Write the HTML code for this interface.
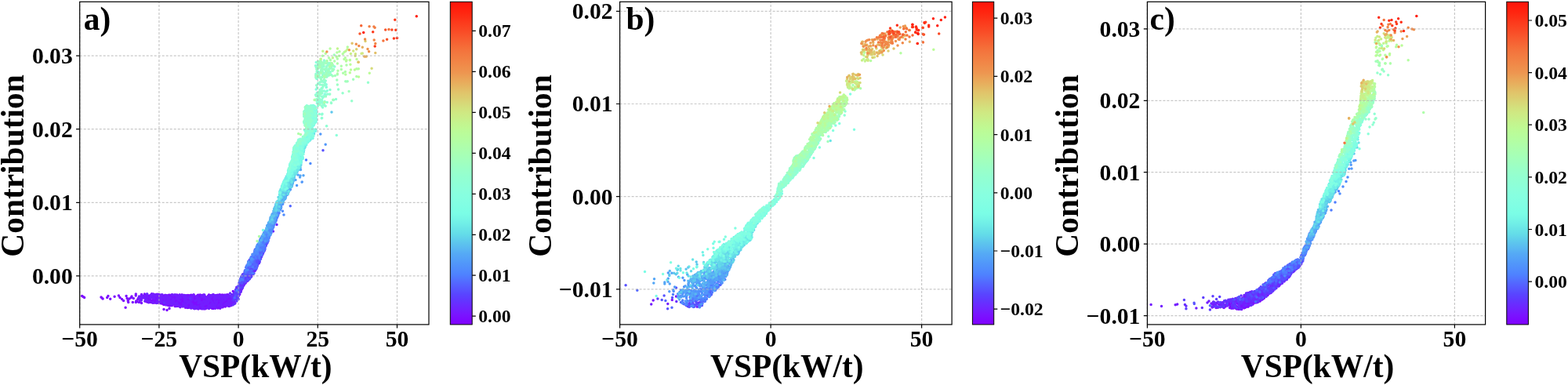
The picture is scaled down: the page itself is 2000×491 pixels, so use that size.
<!DOCTYPE html><html><head><meta charset="utf-8"><style>html,body{margin:0;padding:0;background:#fff;width:2000px;height:491px;overflow:hidden}svg{display:block}text{font-family:"Liberation Serif", "Times New Roman", serif;font-weight:bold;fill:#000}</style></head><body>
<svg width="2000" height="491" viewBox="0 0 2000 491">
<defs><linearGradient id="rb" x1="0" y1="0" x2="0" y2="1"><stop offset="0.000" stop-color="#ff140a"/><stop offset="0.016" stop-color="#ff1c0d"/><stop offset="0.031" stop-color="#ff240f"/><stop offset="0.047" stop-color="#fd2e15"/><stop offset="0.062" stop-color="#fc391b"/><stop offset="0.078" stop-color="#fb4321"/><stop offset="0.094" stop-color="#f94d27"/><stop offset="0.109" stop-color="#f8582d"/><stop offset="0.125" stop-color="#f66233"/><stop offset="0.141" stop-color="#f56d38"/><stop offset="0.156" stop-color="#f3763e"/><stop offset="0.172" stop-color="#f27e42"/><stop offset="0.188" stop-color="#f18647"/><stop offset="0.203" stop-color="#ef8e4b"/><stop offset="0.219" stop-color="#ee9550"/><stop offset="0.234" stop-color="#eba156"/><stop offset="0.250" stop-color="#e8ac5c"/><stop offset="0.266" stop-color="#e4b863"/><stop offset="0.281" stop-color="#e1c46a"/><stop offset="0.297" stop-color="#dccd70"/><stop offset="0.312" stop-color="#d8d777"/><stop offset="0.328" stop-color="#d3e17d"/><stop offset="0.344" stop-color="#cfe983"/><stop offset="0.359" stop-color="#caee88"/><stop offset="0.375" stop-color="#c4f48e"/><stop offset="0.391" stop-color="#bff993"/><stop offset="0.406" stop-color="#bafc99"/><stop offset="0.422" stop-color="#b6fd9f"/><stop offset="0.438" stop-color="#b1fea6"/><stop offset="0.453" stop-color="#adfead"/><stop offset="0.469" stop-color="#a8ffb3"/><stop offset="0.484" stop-color="#a4ffba"/><stop offset="0.500" stop-color="#9fffc0"/><stop offset="0.516" stop-color="#9affc7"/><stop offset="0.531" stop-color="#96ffcd"/><stop offset="0.547" stop-color="#92ffd2"/><stop offset="0.562" stop-color="#8fffd6"/><stop offset="0.578" stop-color="#8cffdb"/><stop offset="0.594" stop-color="#88ffdf"/><stop offset="0.609" stop-color="#85ffe1"/><stop offset="0.625" stop-color="#82fee3"/><stop offset="0.641" stop-color="#7efee4"/><stop offset="0.656" stop-color="#7bfde6"/><stop offset="0.672" stop-color="#76f6e6"/><stop offset="0.688" stop-color="#70eee7"/><stop offset="0.703" stop-color="#6ae5e7"/><stop offset="0.719" stop-color="#64dde8"/><stop offset="0.734" stop-color="#60d0eb"/><stop offset="0.750" stop-color="#5cc3ee"/><stop offset="0.766" stop-color="#59b6f2"/><stop offset="0.781" stop-color="#55a9f5"/><stop offset="0.797" stop-color="#53a0f8"/><stop offset="0.812" stop-color="#5196fa"/><stop offset="0.828" stop-color="#508dfd"/><stop offset="0.844" stop-color="#4e83ff"/><stop offset="0.859" stop-color="#5174ff"/><stop offset="0.875" stop-color="#5464ff"/><stop offset="0.891" stop-color="#5754ff"/><stop offset="0.906" stop-color="#5945ff"/><stop offset="0.922" stop-color="#6038ff"/><stop offset="0.938" stop-color="#692cff"/><stop offset="0.953" stop-color="#7121ff"/><stop offset="0.969" stop-color="#7915ff"/><stop offset="0.984" stop-color="#7d0aff"/><stop offset="1.000" stop-color="#8000ff"/></linearGradient></defs>
<g fill="none" stroke-width="3.50" stroke-linecap="round"><path stroke="#8000ff" d="M189.2 381.3h0M243.1 382.5h0M302.0 375.3h0M217.1 383.6h0M222.1 386.9h0M195.5 381.8h0M286.9 376.6h0M221.7 380.9h0M231.6 386.4h0M252.5 381.3h0M285.8 379.7h0M249.5 380.9h0M266.5 388.4h0M291.7 390.2h0M193.7 383.2h0M236.9 381.7h0M265.9 385.0h0M284.7 379.8h0M261.1 379.4h0M294.2 382.8h0M213.4 384.8h0M271.5 390.7h0M258.6 381.1h0M298.2 379.1h0M293.7 389.5h0M242.1 381.9h0M230.2 390.0h0M232.3 376.5h0M243.7 391.3h0M255.2 383.7h0M281.2 381.6h0M251.8 390.2h0M320.1 353.2h0M272.7 386.4h0M208.5 384.1h0M259.8 379.4h0M205.4 386.5h0M297.5 382.6h0M250.3 385.1h0M217.9 384.5h0M263.4 381.9h0M283.3 388.3h0M315.3 356.1h0M175.7 382.0h0M287.3 389.3h0M240.9 382.0h0M251.3 387.9h0M257.9 387.0h0M241.5 385.2h0M305.8 370.1h0M261.1 389.5h0M257.9 392.2h0M305.7 375.5h0M232.4 377.7h0M226.0 380.6h0M308.1 369.3h0M246.3 380.2h0M309.0 361.8h0M251.6 390.2h0M197.4 378.6h0M303.7 371.5h0M232.9 382.3h0M206.6 377.6h0M295.1 377.8h0M227.1 390.1h0M246.8 384.0h0M188.0 384.9h0M255.1 381.8h0M248.5 380.1h0M186.8 376.3h0M306.7 369.1h0M274.4 388.2h0M209.6 385.7h0M263.4 388.7h0M297.3 371.4h0M192.4 377.7h0M241.8 388.8h0M235.0 376.5h0M252.0 391.6h0M237.4 388.4h0M200.5 376.9h0M287.5 379.5h0M323.5 345.6h0M195.7 375.2h0M230.3 384.1h0M238.5 384.8h0M306.5 368.5h0M233.0 384.7h0M262.8 392.4h0M303.2 373.5h0M283.3 383.7h0M300.3 378.8h0M231.7 375.9h0M314.0 350.6h0M262.6 379.4h0M309.6 366.3h0M325.4 338.4h0M324.8 342.3h0M201.8 380.7h0M190.0 378.9h0M285.6 390.2h0M209.2 388.5h0M202.6 385.0h0M295.1 383.9h0M319.4 352.5h0M271.7 389.5h0M260.0 393.5h0M293.3 388.3h0M228.0 388.5h0M195.9 377.0h0M263.1 391.7h0M286.1 377.2h0M257.2 390.7h0M215.8 382.3h0M299.4 380.4h0M266.9 378.8h0M259.7 382.6h0M299.8 374.6h0M302.9 375.8h0M263.8 391.6h0M199.4 377.1h0M285.2 381.1h0M247.1 387.0h0M302.2 380.1h0M291.7 388.5h0M192.0 385.6h0M230.3 387.7h0M211.6 386.2h0M267.1 376.4h0"/><path stroke="#7c0eff" d="M265.4 389.5h0M229.1 376.1h0M256.2 390.5h0M280.5 387.5h0M255.0 388.2h0M308.8 366.5h0M228.7 381.0h0M192.5 377.9h0M246.0 390.1h0M287.4 390.9h0M261.7 382.1h0M194.7 386.2h0M270.7 382.5h0M287.2 381.7h0M289.1 378.8h0M256.8 382.3h0M255.0 382.0h0M256.0 377.2h0M257.2 393.4h0M269.0 390.9h0M307.2 371.9h0M295.1 378.4h0M283.6 382.8h0M226.7 381.7h0M302.5 377.2h0M258.2 391.7h0M209.9 385.0h0M180.4 380.5h0M199.9 378.5h0M270.3 388.2h0M221.3 377.9h0M267.2 377.2h0M247.3 389.0h0M237.1 391.2h0M223.5 383.5h0M211.5 386.2h0M309.3 366.7h0M252.0 386.6h0M283.7 389.7h0M232.6 387.0h0M258.6 390.7h0M238.0 383.8h0M173.2 376.9h0M191.3 382.3h0M271.2 392.6h0M240.0 383.4h0M269.6 378.7h0M261.9 393.7h0M210.0 381.2h0M220.7 386.9h0M205.3 378.3h0M208.3 386.6h0M267.6 384.0h0M275.0 381.3h0M281.2 380.1h0M254.7 381.8h0M247.0 376.0h0M189.8 380.6h0M227.5 388.9h0M211.2 379.9h0M226.7 378.1h0M315.0 346.4h0M211.3 387.3h0M284.4 380.1h0M190.4 383.8h0M266.7 382.8h0M213.7 377.1h0M298.3 381.3h0M286.5 383.3h0M248.8 391.1h0M276.3 376.8h0M292.5 381.6h0M295.3 379.1h0M233.7 380.9h0M202.8 385.2h0M245.8 391.0h0M284.6 382.7h0M290.3 385.2h0M209.9 380.1h0M275.9 384.4h0M270.5 376.8h0M275.6 383.5h0M169.3 385.6h0M281.4 391.9h0M208.5 377.4h0M233.9 387.9h0M283.0 384.4h0M196.4 376.9h0M212.1 386.2h0M230.8 379.3h0M282.8 388.9h0M236.8 379.9h0M272.5 383.0h0M250.2 378.4h0M285.8 387.0h0M265.3 385.2h0M195.6 377.7h0M191.4 382.9h0M271.7 379.7h0M235.7 388.7h0M244.0 378.6h0M260.4 377.0h0M236.2 385.7h0M292.6 382.3h0M230.0 382.3h0M229.9 381.3h0M269.7 376.7h0M268.0 388.1h0M281.9 376.6h0M230.0 388.8h0M261.5 392.0h0M245.3 391.8h0M216.5 386.2h0M254.1 382.5h0M260.3 381.8h0M256.3 386.7h0M237.8 383.9h0M232.3 387.4h0M277.8 386.0h0M204.7 384.4h0M295.8 384.8h0M200.3 375.2h0M245.5 381.3h0M220.3 383.8h0M188.2 378.7h0M288.8 380.4h0M221.4 377.0h0M254.8 381.9h0M236.0 385.4h0M231.1 381.5h0M230.6 383.8h0M252.4 379.4h0M239.0 382.1h0M207.9 377.0h0M247.6 389.9h0M243.9 392.7h0M186.6 379.4h0M281.3 379.8h0M269.8 377.8h0M271.8 378.7h0M180.4 376.5h0M217.6 384.0h0M270.0 379.7h0M282.9 379.1h0M236.7 377.9h0M227.5 388.3h0M224.7 378.7h0M260.3 393.7h0M238.5 383.5h0M321.7 347.9h0M227.3 389.7h0M273.7 385.9h0M281.7 379.4h0M277.6 378.6h0M241.0 380.4h0M282.1 388.2h0M249.8 378.9h0M249.5 389.1h0M264.6 391.8h0M291.3 376.1h0M151.4 376.9h0M255.5 393.0h0M180.5 386.6h0M173.3 374.9h0M243.7 379.9h0M298.5 381.7h0M226.0 390.4h0M104.6 377.4h0M185.4 383.9h0M227.9 383.0h0M228.7 380.8h0M197.1 378.1h0M153.0 379.4h0M288.6 377.1h0M278.3 390.9h0M298.1 385.6h0M271.3 386.0h0M296.5 379.2h0M279.7 379.6h0M259.6 376.1h0M248.6 378.0h0M258.8 377.6h0M272.3 386.0h0M176.4 380.6h0M215.5 381.8h0M309.3 367.2h0M193.4 385.6h0M191.7 382.2h0M241.0 389.0h0M226.3 382.4h0M294.0 380.3h0M196.5 386.2h0M285.4 381.3h0M241.4 382.4h0M202.6 384.6h0M262.7 384.8h0M307.1 370.8h0M224.0 389.1h0M258.3 393.8h0M222.0 384.7h0M259.5 393.1h0M211.9 381.6h0M201.1 384.1h0M271.3 393.0h0M194.3 385.2h0M295.5 388.5h0M284.2 391.8h0M255.9 388.7h0M299.9 378.0h0M276.1 385.6h0M296.9 385.5h0M281.9 377.0h0M201.5 386.3h0M245.0 389.7h0M231.1 385.0h0M106.1 378.4h0M295.4 379.0h0M205.2 382.2h0M275.8 389.2h0M250.3 386.5h0M213.9 383.1h0M181.7 377.8h0M214.5 389.4h0M283.1 388.6h0M272.6 376.5h0M320.1 339.4h0M209.8 385.9h0M213.3 383.0h0M213.9 377.8h0M219.5 376.2h0M303.6 378.0h0M302.9 372.1h0M296.4 388.1h0M296.7 387.3h0M186.9 376.0h0M294.7 381.6h0M221.2 384.8h0M191.0 381.9h0M210.8 379.5h0M296.8 383.1h0M280.0 387.0h0M224.6 377.3h0M265.3 380.0h0M253.0 376.3h0M281.0 382.6h0M295.9 381.9h0M220.3 380.0h0M211.4 379.6h0M209.3 378.5h0M259.6 379.5h0M303.6 373.6h0M290.4 379.8h0M285.2 378.2h0M221.0 386.1h0M301.1 370.6h0M137.9 377.4h0M193.8 378.1h0M290.0 383.5h0M277.5 377.7h0M221.7 387.7h0M226.7 389.4h0M294.4 386.7h0M194.8 377.2h0M219.6 381.5h0M243.6 390.5h0M229.3 391.0h0M296.2 382.2h0M238.7 389.0h0M275.7 389.7h0M203.0 375.7h0M295.6 375.8h0M216.5 389.9h0M243.4 388.7h0M283.2 377.7h0M253.0 390.3h0M259.3 378.8h0M250.1 380.6h0M244.1 386.7h0M236.1 378.6h0M283.0 382.3h0M285.2 387.3h0M280.9 390.4h0M276.9 390.2h0M253.3 387.8h0M234.0 378.0h0M286.5 380.8h0M290.4 378.5h0M266.8 390.9h0M270.3 391.8h0M297.6 383.8h0M240.8 377.1h0M204.0 385.4h0M285.9 376.3h0M216.0 393.5h0M271.6 378.4h0M254.9 378.2h0M278.5 380.6h0M220.2 384.2h0M201.6 382.3h0M232.4 383.9h0M294.2 377.5h0M244.0 383.9h0M243.4 379.0h0M257.9 376.5h0M233.9 389.0h0M299.3 380.6h0M180.5 375.6h0M218.2 376.4h0M204.7 378.5h0M248.0 378.6h0M296.2 386.8h0M278.6 385.8h0M281.9 381.7h0M281.5 381.0h0M266.7 377.6h0M189.7 385.7h0M246.6 391.2h0M284.5 385.1h0M288.9 377.4h0M208.4 387.8h0M211.6 376.7h0M219.9 384.3h0M283.0 381.2h0M286.4 378.8h0M251.7 390.6h0M199.0 381.7h0M225.3 376.2h0M256.9 389.9h0M247.1 384.1h0M288.6 387.9h0M238.2 380.9h0M243.0 383.1h0M286.6 388.5h0M197.5 382.8h0M203.7 377.4h0M224.6 380.3h0M211.1 378.4h0M194.0 376.1h0M280.6 390.1h0M201.6 380.5h0M250.5 380.4h0M259.4 381.2h0M199.6 384.6h0M242.8 385.1h0M268.2 390.9h0M258.3 387.3h0M211.0 384.7h0M299.1 375.0h0M202.3 385.8h0M247.7 389.9h0M280.2 388.9h0M155.5 381.5h0M233.1 389.2h0M228.0 385.8h0M254.5 390.6h0M210.5 376.6h0M259.3 383.2h0M240.8 391.2h0M189.2 379.5h0M267.4 380.6h0M237.1 386.0h0M285.0 381.4h0M211.9 381.7h0M216.0 382.6h0M289.9 375.7h0M241.1 377.2h0M246.7 392.1h0M247.4 389.6h0M311.2 362.2h0M203.9 376.4h0M255.2 381.9h0M219.1 379.8h0M291.7 380.5h0M272.3 384.6h0M248.6 381.0h0M262.6 383.5h0M229.7 389.6h0M201.8 377.9h0M268.6 382.6h0M217.4 380.7h0M281.8 377.2h0M217.9 387.6h0M204.9 386.8h0M253.3 380.8h0M255.0 379.1h0M263.7 386.6h0M305.9 369.0h0M239.1 392.4h0M296.3 388.7h0M272.4 380.9h0M222.8 376.0h0M271.9 392.7h0M242.9 391.5h0M187.5 375.2h0M244.1 380.3h0M249.3 383.8h0M235.6 381.7h0M221.9 381.0h0M296.0 378.5h0M238.2 379.9h0M219.8 376.9h0M256.1 385.0h0M281.2 388.1h0M211.8 385.3h0M260.4 384.7h0M189.0 382.8h0M295.2 384.3h0M238.0 387.0h0M220.7 381.8h0M226.0 377.4h0M130.0 380.0h0M304.2 377.6h0M183.8 379.3h0M281.4 387.8h0M247.7 386.4h0M239.1 389.6h0M273.3 384.4h0M146.1 378.2h0M252.3 385.7h0M257.4 390.0h0M253.7 377.9h0M162.1 380.5h0M192.4 378.1h0M187.2 384.7h0M200.2 381.9h0M210.4 376.6h0M250.4 384.0h0M219.3 389.7h0M224.1 383.1h0M290.4 376.2h0M243.7 376.2h0M230.7 386.3h0M232.4 386.3h0M248.4 385.6h0M225.1 389.4h0M258.8 382.7h0M227.5 386.4h0M258.4 379.1h0M236.5 380.2h0M295.3 384.3h0M233.4 378.5h0M208.1 382.0h0M249.1 392.5h0M208.6 383.7h0M247.6 388.8h0M211.2 380.5h0M238.0 387.4h0M293.7 384.7h0M277.8 376.3h0M266.7 379.3h0M207.5 382.5h0M247.6 392.7h0M221.3 388.1h0M265.6 389.0h0M163.7 385.6h0M226.4 381.0h0M238.5 388.5h0M267.4 383.4h0M236.2 382.7h0M231.8 389.5h0M231.9 385.3h0M233.7 384.0h0M140.7 381.3h0M302.5 372.8h0M173.3 385.6h0M199.6 377.4h0M225.7 376.1h0M193.3 376.6h0M214.4 388.2h0M254.7 380.0h0M205.9 386.2h0M160.1 392.2h0M214.5 385.8h0M238.3 391.7h0M223.1 384.1h0M268.1 386.3h0M202.0 377.5h0M236.5 392.3h0M260.2 378.7h0M208.5 380.7h0M290.4 380.3h0M266.4 383.5h0M265.3 381.1h0M180.4 377.3h0M282.7 390.6h0M279.8 378.1h0M216.4 376.2h0M295.1 386.9h0M301.1 373.3h0M240.8 385.0h0M260.1 386.4h0M267.8 392.2h0M245.1 383.2h0M281.8 381.3h0M246.7 381.8h0M232.9 388.1h0M248.5 381.1h0M217.4 386.1h0M213.3 385.3h0M212.0 386.1h0M177.4 385.6h0M173.6 384.0h0M271.1 380.5h0M263.0 390.7h0M267.7 388.9h0M174.7 384.8h0M288.2 384.8h0M267.5 377.6h0M206.8 386.9h0M168.0 378.0h0M223.6 382.7h0M339.3 313.2h0M249.8 382.6h0M204.5 382.8h0M288.5 387.1h0M205.3 382.9h0M281.3 389.4h0M289.0 383.1h0M198.4 385.2h0M314.9 358.8h0M221.7 380.1h0M297.0 382.5h0M254.9 383.2h0M261.7 389.5h0M250.4 382.2h0M208.5 383.9h0M269.0 389.3h0M203.9 385.0h0M239.4 387.3h0M231.4 385.4h0M258.5 382.0h0M261.2 378.6h0M247.4 382.4h0M295.9 387.8h0M235.5 389.8h0M240.6 381.8h0M255.6 377.3h0M283.4 377.5h0M207.2 377.4h0M256.5 388.6h0M232.5 386.1h0M253.1 377.2h0M198.2 381.8h0M213.3 387.5h0M298.5 386.4h0M232.2 386.1h0M285.7 389.1h0M248.0 380.4h0M266.5 388.6h0M303.0 371.1h0M285.0 387.0h0M240.7 380.6h0M242.4 391.8h0M237.4 382.3h0M258.3 388.0h0M285.7 378.5h0M253.9 377.4h0M246.0 390.4h0M283.3 384.6h0M197.3 377.3h0M232.9 377.8h0M270.3 376.8h0M241.6 378.7h0M212.6 377.3h0M313.1 361.0h0M182.3 378.7h0M240.2 382.5h0M239.0 390.2h0M222.3 384.2h0M192.3 377.1h0M272.1 393.5h0M289.1 388.7h0M266.1 377.5h0M276.1 380.1h0M254.0 391.9h0M278.0 388.8h0M243.2 384.5h0M256.3 386.0h0M282.2 384.0h0M262.7 379.4h0M250.0 384.9h0M212.0 387.8h0M255.9 377.6h0M310.4 359.1h0M249.1 393.3h0M304.3 371.9h0M276.6 381.7h0M278.6 386.5h0M267.0 388.7h0M195.6 377.3h0M287.9 389.9h0M276.0 381.7h0M170.3 380.5h0M203.1 386.0h0M213.1 379.9h0M239.1 379.3h0M259.2 392.1h0M272.0 382.2h0M178.3 383.7h0M215.2 384.4h0M280.2 375.8h0M273.4 381.8h0M319.4 351.0h0M295.4 386.0h0M206.8 380.5h0M242.5 388.2h0M227.1 385.0h0M258.0 383.5h0M215.1 384.0h0M275.5 392.1h0M201.7 376.7h0M261.1 377.8h0M312.3 359.8h0M271.7 379.4h0M260.2 381.2h0M225.4 379.6h0M189.3 380.7h0M209.5 386.9h0M209.4 381.0h0M257.9 382.3h0M236.7 378.8h0M290.4 383.1h0M221.5 376.9h0M274.4 378.3h0M200.3 381.5h0M211.8 379.8h0M207.8 384.5h0M228.2 378.9h0M255.3 375.9h0M307.6 368.1h0M256.3 384.7h0M224.3 390.4h0M280.9 387.8h0M179.1 382.7h0M268.0 386.5h0M234.1 380.8h0M280.2 390.9h0M279.4 385.7h0M283.1 389.8h0M224.1 388.4h0M229.0 386.5h0M224.4 382.0h0M238.0 383.0h0M229.4 377.4h0M256.3 380.7h0M131.1 381.0h0M223.0 390.6h0M274.3 390.7h0M241.2 384.4h0M252.1 376.5h0M204.7 379.0h0M271.9 378.3h0M262.8 379.2h0M245.6 384.8h0M245.0 376.4h0M288.9 376.8h0M315.0 358.8h0M290.1 381.0h0M204.2 385.8h0M220.6 378.3h0M231.3 389.9h0M225.8 390.0h0M231.5 383.1h0M240.5 391.5h0M255.6 379.5h0M269.4 382.1h0M251.5 387.4h0M265.5 386.6h0M210.5 377.1h0M198.7 382.3h0M216.4 383.7h0M252.3 376.8h0M300.4 380.9h0M202.7 377.0h0M238.8 384.8h0M226.3 379.7h0M229.2 389.5h0M287.0 389.7h0M292.5 381.9h0M234.7 381.1h0M279.2 381.0h0M284.8 385.0h0M235.6 385.6h0M234.9 388.4h0M257.3 379.2h0M267.2 383.8h0M255.9 388.9h0M227.9 388.0h0M210.7 387.6h0M219.4 385.5h0M276.1 381.3h0M260.8 380.2h0M256.5 380.8h0M257.5 384.8h0M187.7 375.3h0M129.0 379.0h0M189.3 378.0h0M255.7 378.0h0M266.8 386.9h0M313.7 359.1h0M196.3 383.1h0M252.3 393.4h0M230.8 382.8h0M212.9 378.8h0M236.2 381.7h0M298.8 381.9h0M302.7 378.6h0M253.9 392.6h0M265.2 389.5h0M215.3 376.2h0M253.5 387.1h0M235.5 377.8h0M279.7 377.3h0M199.9 384.3h0M319.4 346.7h0M288.4 377.0h0M266.0 389.3h0M239.8 388.7h0M270.3 387.0h0M257.9 393.7h0M279.5 378.6h0M277.6 380.2h0M276.6 376.4h0M184.4 375.0h0M189.5 381.2h0M302.6 371.9h0M195.9 380.8h0M279.9 391.3h0M239.0 387.2h0M221.9 382.9h0M250.2 377.9h0M278.3 380.7h0M202.1 383.9h0M240.1 378.5h0M269.0 380.4h0M209.0 394.5h0M232.9 380.5h0M287.1 376.8h0M265.6 381.9h0M186.4 383.3h0M268.1 391.0h0M263.2 388.9h0M253.2 389.4h0M225.4 376.4h0M320.6 349.0h0M206.8 379.6h0M279.5 388.2h0M261.6 393.7h0M239.8 376.5h0M269.0 390.2h0M279.6 384.8h0M261.5 378.5h0M251.0 393.3h0M263.6 392.9h0M274.1 390.2h0M263.3 391.3h0M221.8 383.2h0M236.8 385.4h0M269.8 391.9h0M326.6 337.8h0M274.6 393.2h0M238.3 376.9h0M284.2 379.3h0M219.3 377.9h0M240.3 383.7h0M263.4 381.5h0M285.2 385.3h0M220.6 380.5h0M225.5 378.5h0M223.2 386.2h0M264.5 386.8h0M289.4 375.9h0M251.4 389.9h0M287.2 380.4h0M329.6 332.2h0M250.0 388.2h0M242.9 389.5h0M210.5 382.5h0M279.7 387.0h0M250.6 388.7h0M219.9 379.2h0M233.3 376.7h0M283.3 379.6h0M241.2 387.2h0M220.6 381.6h0M252.1 387.2h0M224.2 381.1h0M274.4 377.9h0M296.5 387.6h0M242.0 376.8h0M289.5 388.1h0M198.2 380.2h0M234.5 388.7h0M190.2 384.4h0M281.4 379.7h0M281.3 383.9h0M248.1 387.7h0M191.7 376.4h0M216.5 376.9h0M304.4 374.5h0M256.2 378.6h0M277.8 393.0h0M215.2 376.4h0M240.5 391.7h0M283.6 391.5h0M252.5 377.5h0M179.7 382.4h0M297.1 377.5h0M277.9 383.1h0M256.3 393.6h0M260.6 376.7h0M237.4 389.3h0M251.2 384.1h0M236.0 377.1h0M275.8 381.4h0M293.1 381.0h0M235.3 390.2h0M179.0 380.6h0M266.4 378.8h0M293.3 387.9h0M283.8 391.7h0M270.1 385.6h0M279.5 381.7h0M240.9 384.1h0M225.6 381.4h0M193.6 374.8h0M244.8 386.6h0M319.5 353.4h0M200.8 384.2h0M194.7 383.7h0M107.6 379.4h0M230.0 391.7h0M282.2 389.4h0M208.5 381.9h0M284.9 380.9h0M165.0 381.0h0M329.6 335.3h0M237.5 379.4h0M219.7 380.8h0M202.0 375.8h0M283.2 384.0h0M238.4 389.6h0M279.9 390.3h0M252.0 381.2h0M231.7 378.3h0M234.0 384.4h0M276.2 387.8h0M289.8 383.9h0M224.5 378.4h0M246.5 388.8h0M287.3 380.5h0M210.5 380.9h0M263.3 380.7h0M277.1 380.0h0M249.9 385.2h0M254.9 387.4h0M157.6 383.5h0M268.0 376.8h0M246.3 377.5h0M232.8 376.2h0M243.4 379.7h0M247.7 391.2h0M161.1 377.4h0M247.1 385.3h0M198.5 377.0h0M246.8 393.0h0M210.3 385.3h0M224.6 385.8h0M183.5 377.2h0M198.8 377.7h0M272.2 375.8h0M308.3 362.5h0M202.9 383.7h0M272.5 390.6h0M184.9 378.8h0M244.7 386.8h0M280.9 381.2h0M292.2 390.6h0M211.8 376.4h0M224.1 387.7h0M253.5 392.9h0M213.4 381.2h0M286.8 380.6h0M256.3 383.1h0M266.4 375.9h0M290.1 383.0h0M204.9 380.3h0M289.6 380.8h0M269.7 384.8h0M277.1 389.9h0M237.8 386.4h0M221.5 380.2h0M216.0 388.8h0M225.5 386.0h0M187.7 383.9h0M222.5 387.5h0M298.1 380.1h0M230.2 385.6h0M246.0 378.3h0M274.7 388.2h0M269.3 392.6h0M255.9 382.4h0M220.2 379.7h0M261.3 385.7h0M240.9 392.3h0M189.3 377.3h0M284.4 391.0h0M245.3 381.9h0M226.5 383.1h0M243.0 390.6h0M271.2 385.7h0M273.6 376.8h0M257.2 377.8h0M227.9 376.9h0M250.8 391.0h0M221.0 384.5h0M256.9 379.6h0M291.4 389.8h0M245.9 386.9h0M215.9 386.6h0M288.5 384.1h0M274.6 381.9h0M262.8 390.2h0M257.9 376.7h0M254.2 380.6h0M287.5 381.1h0M282.7 378.2h0M263.3 384.7h0M280.7 393.2h0M195.5 379.9h0M283.0 390.7h0M213.8 381.4h0M248.3 391.6h0M292.7 382.2h0M245.4 381.0h0M262.6 378.7h0M264.2 386.5h0M220.3 387.9h0M209.9 384.3h0M258.3 391.7h0M208.4 383.9h0M284.7 389.9h0M242.1 389.2h0M237.9 380.8h0M298.1 375.6h0M241.0 378.3h0M219.0 382.4h0M259.9 392.7h0M195.6 377.5h0M206.3 382.0h0M197.4 383.5h0M276.0 383.9h0M256.8 393.5h0M257.2 391.2h0M251.1 390.9h0M234.0 378.0h0M214.0 387.8h0M303.5 375.6h0M271.0 390.6h0M252.4 377.9h0M187.8 375.2h0M279.7 378.3h0M167.2 379.4h0M268.8 383.5h0M267.8 382.2h0M220.5 379.6h0M199.9 381.4h0M265.5 377.2h0M220.2 380.1h0M295.3 379.8h0M260.3 385.8h0M252.7 387.5h0M232.5 378.9h0M256.4 382.0h0M218.4 386.7h0M241.1 388.7h0M316.6 356.1h0M192.3 376.3h0M294.0 379.0h0M278.7 383.0h0M311.3 350.3h0M231.6 381.8h0M262.8 383.9h0M217.6 384.3h0M201.6 383.0h0M270.4 393.3h0M198.7 380.0h0M271.9 390.2h0M193.1 385.6h0M312.9 359.7h0M252.8 385.6h0M206.8 386.3h0M186.4 384.6h0M222.9 377.5h0M277.3 390.2h0M218.3 380.2h0M241.5 390.0h0M163.2 383.5h0M303.8 376.3h0M203.2 386.0h0M244.6 389.3h0M238.0 384.4h0M213.0 395.5h0M198.6 385.5h0M212.3 376.7h0M232.5 385.6h0M237.4 381.0h0M292.9 377.5h0M265.0 388.3h0M218.9 378.7h0M283.5 376.1h0M299.4 385.2h0M262.1 381.8h0M204.2 376.3h0M281.3 389.7h0M236.9 385.1h0M289.0 379.2h0M215.7 383.5h0M226.8 378.1h0M275.3 376.7h0M203.5 381.6h0M245.8 377.7h0M238.9 377.9h0M295.5 376.6h0M203.4 378.0h0M284.4 379.9h0M237.1 389.6h0M180.3 377.5h0M243.5 380.0h0M272.7 382.5h0M229.8 384.1h0M207.4 381.4h0M136.7 379.4h0M235.1 380.6h0M252.7 380.6h0M240.5 381.5h0M257.9 376.8h0M286.1 384.1h0M288.0 376.8h0M229.3 377.9h0M188.3 383.5h0M262.8 387.5h0M198.8 375.8h0M201.7 384.6h0M232.6 378.8h0M217.4 386.7h0M214.3 386.8h0M207.7 387.7h0M257.8 383.8h0M287.8 381.3h0M268.4 376.8h0M202.5 378.8h0"/><path stroke="#731dff" d="M209.6 381.1h0M295.3 379.3h0M288.6 387.4h0M228.6 377.2h0M264.8 382.2h0M283.2 382.9h0M318.7 354.1h0M300.4 379.3h0M213.5 382.7h0M274.8 388.0h0M236.6 390.4h0M312.6 352.6h0M249.0 383.6h0M263.0 386.6h0M293.6 387.4h0M316.1 356.9h0M234.4 376.4h0M334.3 324.7h0M306.5 369.7h0M324.2 342.5h0M227.1 382.2h0M226.4 380.6h0M221.4 386.8h0M269.3 383.5h0M210.2 383.6h0M245.8 379.3h0M314.7 353.4h0M324.0 343.3h0M312.4 356.2h0M190.3 384.1h0M228.8 389.9h0M287.1 382.4h0M244.0 377.9h0M214.8 378.8h0M284.9 384.1h0M264.9 386.1h0M267.5 381.0h0M195.7 380.5h0M228.6 378.9h0M213.4 382.3h0M303.3 378.3h0M280.8 378.2h0M298.0 379.3h0M276.8 377.4h0M235.5 382.3h0M199.4 386.6h0M196.9 381.0h0M253.0 393.9h0M224.7 389.0h0M291.7 389.6h0M273.4 390.3h0M228.3 378.1h0M220.2 382.6h0M247.1 376.0h0M204.7 385.8h0M233.3 387.0h0M212.5 379.4h0M242.9 386.4h0M293.0 384.9h0M321.3 344.0h0M253.2 393.7h0M254.6 380.4h0M269.5 388.0h0M294.7 385.6h0M296.7 381.8h0M260.8 375.9h0M308.8 363.2h0M278.3 389.9h0M206.1 383.9h0M219.6 384.8h0M297.7 381.7h0M257.8 387.6h0M260.6 387.9h0M299.9 386.7h0M324.8 340.7h0M207.3 379.4h0M320.3 352.4h0M216.0 385.8h0M281.7 388.5h0M238.9 386.1h0M325.1 345.6h0M281.7 391.8h0M245.1 387.9h0M227.6 382.8h0M273.6 378.1h0M266.8 377.5h0M273.0 388.8h0M208.7 379.5h0M237.9 379.9h0M323.4 333.2h0M315.0 356.4h0M287.9 378.2h0M246.4 391.1h0M243.2 388.0h0M211.8 388.9h0M281.2 384.9h0M225.4 389.7h0M243.5 383.6h0M243.7 390.7h0M290.2 377.8h0M184.8 383.9h0M200.8 385.6h0M300.5 380.1h0M299.0 378.1h0M254.7 383.0h0M253.5 383.6h0M260.0 378.5h0M179.6 382.3h0M299.6 373.3h0M333.7 312.7h0M269.5 384.1h0M317.1 352.7h0M225.8 385.9h0M301.1 374.0h0M185.5 381.5h0M260.1 383.8h0M293.5 378.5h0M301.9 367.5h0M239.4 384.9h0M313.4 346.5h0M321.5 337.9h0M201.6 381.5h0M238.5 379.8h0M314.7 354.6h0M286.2 377.2h0M260.7 388.6h0M265.5 378.3h0M270.7 385.6h0M313.7 354.2h0M199.5 377.7h0M216.2 383.5h0M290.1 377.9h0M300.8 379.6h0M312.7 361.1h0M263.8 387.3h0M304.0 373.2h0M287.8 381.7h0M302.4 372.3h0M242.6 384.1h0M292.4 377.4h0M304.3 367.0h0M254.1 383.9h0M225.3 388.7h0M204.6 377.8h0M214.5 382.2h0M268.4 389.4h0M201.9 376.1h0M227.6 380.2h0M263.7 385.9h0M299.5 379.5h0M293.3 377.6h0M298.7 373.9h0M293.4 382.9h0M195.2 385.4h0M224.8 376.9h0M180.4 383.1h0M235.5 384.0h0M201.7 380.5h0M215.5 380.9h0M268.1 377.5h0M309.9 363.7h0M205.7 381.5h0M289.7 389.8h0M253.2 386.1h0M237.8 388.8h0M318.6 347.9h0M238.3 390.8h0M236.0 378.6h0M233.3 391.0h0M217.6 379.4h0M279.8 376.9h0M248.5 392.3h0M293.0 385.6h0M288.2 376.9h0M264.3 387.5h0M298.8 374.4h0M276.4 386.5h0M222.9 387.0h0M211.1 386.9h0M242.5 378.5h0M296.0 385.8h0M225.6 378.9h0M244.2 380.4h0M217.6 384.4h0M323.3 349.0h0M311.3 362.9h0M262.3 385.0h0M275.8 380.0h0M229.8 390.5h0M252.0 380.5h0M271.2 376.1h0M281.4 387.6h0M293.7 389.5h0M220.4 376.0h0M244.1 391.4h0M262.6 380.4h0M318.3 353.9h0M241.5 378.2h0M205.7 375.9h0M301.2 378.6h0M250.8 392.3h0M302.5 373.3h0M189.5 385.0h0M286.2 388.6h0M241.3 380.2h0M266.2 389.5h0M286.2 379.6h0M211.4 385.1h0M191.8 380.1h0M216.1 385.6h0M213.9 386.0h0M192.0 377.3h0M230.1 379.8h0M225.8 378.9h0M234.8 379.2h0M311.5 361.2h0M287.6 376.3h0M248.3 393.8h0M329.7 324.3h0M259.7 393.6h0M308.9 361.6h0M258.6 388.7h0M204.2 383.9h0M301.5 370.9h0M259.1 389.9h0M309.1 363.4h0M315.8 354.9h0M320.0 336.4h0M319.5 348.1h0M211.1 376.8h0M245.7 381.6h0M293.2 387.5h0M298.2 379.0h0M226.8 388.5h0M181.4 377.2h0M298.4 377.7h0M266.5 393.5h0M283.6 380.2h0M215.6 385.0h0M315.9 357.9h0M257.4 393.5h0M325.8 341.7h0M277.0 384.3h0M275.9 377.5h0M305.0 374.9h0M272.2 388.5h0M287.5 380.5h0M273.9 391.9h0M252.6 390.9h0M320.3 345.2h0M282.1 388.7h0M205.4 378.2h0M254.2 382.1h0M193.4 379.7h0M220.1 386.0h0M261.6 379.5h0M187.4 382.7h0M306.9 360.5h0M209.0 385.0h0M311.4 359.6h0M296.3 384.2h0M274.5 385.0h0M210.4 386.7h0M257.5 378.2h0M196.3 379.7h0M237.9 384.3h0M233.3 390.8h0M301.6 370.8h0M275.8 376.8h0M220.7 376.9h0M275.2 388.6h0M317.2 342.3h0M304.0 372.9h0M212.0 378.6h0M193.3 375.6h0M246.0 391.4h0M219.3 375.8h0M262.5 387.3h0M305.8 370.7h0M294.6 389.8h0M324.3 336.5h0M318.4 348.8h0M281.2 383.9h0M201.0 383.0h0M282.7 390.0h0M264.8 392.3h0M287.4 379.7h0M248.7 390.2h0M258.6 391.5h0M332.1 326.3h0M214.9 387.6h0M189.3 385.4h0M302.3 377.0h0M232.6 376.5h0M192.6 379.5h0M221.1 385.0h0M312.2 358.0h0M308.5 364.9h0M289.7 388.5h0M290.2 379.2h0M251.3 391.4h0M213.9 377.3h0M263.0 385.2h0M253.0 385.7h0M298.9 385.7h0M223.6 376.0h0M324.4 333.8h0M225.2 380.8h0M280.0 388.5h0M279.1 380.5h0M313.6 358.7h0M230.5 379.7h0M281.7 378.1h0M261.3 392.9h0M313.7 346.4h0M256.0 389.8h0M202.7 383.6h0M292.4 389.9h0M291.3 383.6h0M299.3 382.3h0M275.1 392.5h0M301.1 376.0h0M295.6 377.2h0M264.8 382.4h0M206.9 375.7h0M204.1 383.4h0M220.9 383.2h0M244.0 380.1h0M219.8 387.7h0M235.5 390.1h0M251.7 378.9h0M273.8 383.1h0M289.5 386.3h0M283.0 390.2h0M282.9 391.6h0M229.8 384.2h0M280.1 380.8h0M309.8 364.3h0M193.9 377.9h0M197.3 375.9h0M268.9 379.0h0M244.4 387.6h0M265.8 386.1h0M291.9 387.3h0M203.4 380.8h0M299.0 374.5h0M237.3 376.8h0M306.8 368.5h0M259.9 379.6h0M266.0 381.0h0M182.8 379.9h0M268.4 383.3h0M311.3 363.0h0M243.7 393.1h0M179.7 380.3h0M287.6 387.6h0M201.4 375.4h0M282.9 378.1h0M326.1 336.7h0M177.5 377.9h0M237.6 380.4h0M239.6 386.4h0M283.1 386.0h0M241.6 384.2h0M242.3 391.7h0M279.1 379.4h0M260.9 387.8h0M247.0 393.1h0M271.5 387.3h0M254.0 383.4h0M187.9 378.8h0M329.4 335.0h0M176.7 380.1h0M218.9 388.2h0M259.9 384.4h0M269.4 391.6h0M229.2 390.8h0M317.6 355.6h0M252.9 386.7h0M312.3 358.7h0M306.8 361.4h0M213.4 384.4h0M295.2 381.4h0M277.1 384.0h0M324.6 341.9h0M250.6 382.3h0M198.2 376.5h0M220.8 381.2h0M302.7 372.5h0M196.9 378.3h0M252.0 377.7h0M237.5 383.3h0M205.2 383.9h0M266.0 383.3h0M224.9 387.5h0M218.0 387.5h0M236.1 383.4h0M271.0 391.1h0M236.1 384.6h0M210.9 377.5h0M327.7 340.5h0M293.8 386.7h0M328.4 338.4h0M270.8 376.8h0M296.4 375.6h0M256.8 385.6h0M272.9 380.4h0M234.9 387.8h0M237.6 384.3h0M206.6 383.8h0M320.7 330.3h0M253.5 384.4h0M257.3 377.2h0M307.3 368.3h0M325.0 337.7h0M294.9 377.3h0M302.7 378.8h0M316.5 352.3h0M262.6 384.1h0M189.4 383.9h0M300.1 374.2h0M273.1 376.8h0M195.8 375.3h0M222.0 382.7h0M181.7 379.8h0M256.1 386.1h0M250.6 378.6h0M229.0 376.3h0M269.7 377.3h0M314.6 357.5h0M303.6 378.1h0M184.5 379.1h0M339.8 309.6h0M310.9 363.8h0M203.1 384.6h0"/><path stroke="#682dff" d="M326.8 330.7h0M302.4 371.2h0M302.5 371.1h0M309.3 350.4h0M337.5 319.2h0M318.6 351.7h0M309.3 360.4h0M330.2 335.7h0M327.2 323.7h0M306.3 366.8h0M242.6 380.7h0M316.5 335.9h0M327.9 331.8h0M310.6 364.3h0M316.9 347.8h0M313.8 346.8h0M300.0 378.6h0M318.5 350.9h0M301.4 368.7h0M311.8 359.4h0M305.8 367.7h0M316.4 344.7h0M301.8 366.3h0M335.4 322.3h0M322.8 336.3h0M310.4 358.7h0M323.1 348.9h0M306.2 364.5h0M311.8 354.7h0M327.6 339.0h0M293.5 374.0h0M326.6 340.3h0M308.5 353.1h0M309.2 366.9h0M330.9 334.2h0M330.6 328.6h0M329.9 328.7h0M337.8 314.8h0M320.5 351.1h0M302.6 375.5h0M316.5 352.6h0M310.1 361.6h0M313.0 345.9h0M307.1 359.8h0M303.8 368.3h0M307.3 371.5h0M303.7 375.4h0M320.5 346.5h0M312.3 360.7h0M305.1 372.8h0M304.2 369.3h0M315.2 355.7h0M344.5 295.4h0M301.5 372.3h0M323.9 336.8h0M317.8 354.3h0M313.0 355.0h0M305.8 363.2h0M306.7 366.4h0M310.4 357.0h0M316.6 347.8h0M316.0 355.8h0M308.5 363.0h0M303.6 376.0h0M326.3 338.0h0M323.9 335.0h0M320.5 335.3h0M299.4 379.5h0M309.1 357.3h0M310.1 354.8h0M313.9 350.9h0M302.4 374.8h0M304.4 367.6h0M313.2 358.8h0M316.2 348.8h0M307.6 357.5h0M298.2 383.6h0M336.6 320.9h0M325.7 339.5h0M311.3 362.7h0M209.4 386.2h0M296.8 377.0h0M321.8 343.8h0M353.0 286.5h0M329.1 326.3h0M323.7 341.6h0M320.1 346.5h0M324.3 335.4h0M303.5 366.4h0M308.4 366.4h0M306.7 372.7h0M296.6 375.8h0M318.3 351.5h0M302.7 373.6h0M310.2 359.5h0M319.8 334.4h0M187.5 375.1h0M307.1 358.9h0M333.2 322.6h0M325.1 329.1h0M321.1 350.1h0M308.7 368.0h0M306.2 365.1h0M316.5 357.2h0M297.2 388.7h0M315.3 357.5h0M327.3 338.0h0M330.0 334.3h0M334.6 325.1h0M320.8 352.4h0M296.0 378.6h0M302.0 369.6h0M299.6 380.5h0M321.9 338.0h0M303.6 370.8h0M330.4 331.3h0M304.1 369.2h0M306.0 357.9h0M326.8 338.8h0M306.8 365.5h0M337.8 314.1h0M320.3 340.7h0M312.0 351.4h0M339.0 307.6h0M303.0 372.9h0M329.0 327.9h0M324.6 344.3h0M319.1 353.4h0M320.0 332.2h0M298.5 374.5h0M307.3 357.3h0M315.4 355.1h0M301.3 378.2h0M323.5 339.4h0M316.3 354.9h0M311.1 360.7h0M312.5 361.1h0M313.6 351.8h0M305.9 359.8h0M328.5 323.5h0M316.1 352.7h0M310.2 352.1h0M330.4 321.2h0M306.8 355.8h0M320.3 341.2h0M323.2 337.6h0M333.0 325.6h0M307.8 356.7h0M305.1 374.0h0M302.9 370.5h0M314.1 348.7h0M314.9 350.6h0M302.2 374.9h0M313.9 351.3h0M310.8 360.9h0M328.4 337.8h0M331.5 318.9h0M323.4 339.0h0M340.3 310.7h0M317.2 333.7h0M303.7 369.2h0M320.3 348.2h0M302.3 370.5h0M323.9 334.0h0M315.9 350.6h0M326.1 344.1h0M322.1 345.9h0M321.7 333.3h0M319.0 332.9h0M299.0 387.4h0M306.5 365.6h0M324.0 333.9h0M329.5 336.3h0M319.4 351.4h0M323.7 337.2h0M318.7 345.1h0M321.3 346.7h0M328.1 322.6h0M315.8 343.2h0M322.7 340.7h0M295.1 377.3h0M335.5 323.3h0M308.4 358.4h0M322.8 335.0h0M327.4 335.4h0M314.5 345.4h0M307.7 365.9h0M300.7 375.2h0M348.5 295.0h0M314.9 354.7h0M301.4 381.9h0M304.4 372.3h0M296.8 382.9h0M309.3 362.2h0M334.6 320.8h0M310.8 353.8h0M310.1 358.4h0"/><path stroke="#5d3dff" d="M316.0 343.9h0M326.3 333.9h0M320.8 338.1h0M315.2 341.8h0M312.8 353.1h0M308.8 358.2h0M308.0 359.9h0M325.7 332.1h0M312.0 359.7h0M332.2 327.7h0M336.3 304.5h0M325.5 336.3h0M346.4 294.2h0M316.2 337.0h0M329.5 317.6h0M321.7 339.9h0M332.5 325.9h0M325.3 318.2h0M323.4 343.9h0M300.5 369.6h0M315.3 339.5h0M328.2 337.2h0M320.8 341.3h0M334.8 319.0h0M333.3 321.9h0M303.4 374.1h0M321.9 346.0h0M313.2 349.1h0M328.6 334.2h0M320.2 333.7h0M346.6 294.3h0M328.0 336.5h0M329.1 329.5h0M319.4 340.3h0M330.4 335.5h0M337.6 316.0h0M317.7 351.2h0M309.2 359.7h0M314.8 352.1h0M333.4 324.8h0M325.1 334.9h0M315.3 351.3h0M315.3 342.4h0M312.9 347.6h0M312.8 355.9h0M318.1 332.6h0M328.3 326.1h0M309.0 362.1h0M319.9 351.2h0M328.7 318.2h0M320.2 333.3h0M299.6 373.6h0M301.1 375.3h0M336.4 319.8h0M335.0 318.4h0M318.4 355.7h0M320.6 330.8h0M336.9 313.8h0M315.3 356.8h0M305.8 362.0h0M327.3 338.4h0M326.8 342.8h0M313.5 352.0h0M320.0 349.0h0M309.6 351.1h0M325.0 338.5h0M313.4 344.8h0M320.5 342.0h0M304.2 381.4h0M311.8 360.1h0M309.7 349.8h0M337.9 313.3h0M328.6 335.9h0M318.0 350.3h0M328.4 333.7h0M330.6 314.5h0M342.0 307.6h0M305.0 361.2h0M300.1 376.4h0M315.8 340.5h0M314.1 351.1h0M303.8 377.8h0M331.1 331.5h0M303.1 379.7h0M301.7 373.1h0M314.8 352.6h0M298.0 381.4h0M329.3 314.4h0M311.3 359.1h0M322.5 333.1h0M319.7 335.2h0M316.6 346.2h0M323.3 349.0h0M340.4 305.4h0M299.7 377.9h0M329.9 326.2h0M307.3 356.8h0M326.4 329.8h0M321.1 336.5h0M304.7 366.3h0M314.9 355.0h0M342.0 307.0h0M304.4 374.2h0M322.7 328.9h0M336.9 317.6h0M307.3 359.4h0M314.0 347.1h0M324.3 336.5h0M311.5 359.5h0M333.6 327.6h0M319.0 343.0h0M343.1 303.5h0M336.3 310.3h0M318.2 331.6h0M306.1 359.5h0M319.1 347.7h0M327.3 326.3h0M321.4 349.3h0M302.0 381.0h0M319.1 351.5h0M333.9 321.6h0M317.1 336.2h0M335.4 321.5h0M333.5 326.6h0M317.8 345.2h0M326.5 331.3h0M301.0 371.9h0M337.4 313.5h0M327.7 338.8h0M307.7 354.2h0M308.8 366.5h0M326.5 332.5h0M329.2 332.9h0M324.4 326.5h0M316.5 349.8h0M312.2 359.1h0M340.1 305.8h0M305.8 359.6h0M327.0 327.3h0M315.1 351.2h0M310.5 351.8h0M328.4 314.9h0M310.2 355.5h0M302.0 384.0h0M320.8 339.5h0M315.8 343.2h0M308.1 352.5h0M323.6 342.2h0M299.1 379.8h0M315.2 350.0h0M319.9 333.2h0M314.3 352.6h0M318.7 346.2h0M326.8 331.4h0M331.9 330.4h0M334.1 322.2h0M334.7 311.5h0M336.0 308.9h0M347.3 290.8h0M332.6 319.3h0M317.9 349.3h0M336.5 318.4h0M306.8 359.5h0M319.8 338.1h0M308.4 353.5h0M300.3 375.4h0M328.8 327.7h0M333.6 326.7h0M331.1 333.8h0M316.6 349.0h0M333.4 321.6h0M335.8 316.3h0M304.4 376.5h0M336.1 308.1h0M311.4 351.3h0M322.0 344.4h0M302.6 371.2h0M328.5 332.7h0M330.5 318.5h0M300.7 370.0h0M334.1 322.6h0M323.9 326.4h0M319.7 338.2h0M320.4 350.2h0M332.6 330.0h0M329.2 321.3h0M327.2 319.6h0M302.8 373.7h0M314.1 340.6h0M318.3 355.3h0M316.6 343.3h0M334.6 313.4h0M324.6 336.6h0M308.0 357.3h0M338.8 312.5h0M318.7 334.4h0M317.9 355.6h0M344.1 299.4h0M302.2 369.5h0M320.9 342.1h0M319.9 344.3h0M323.9 326.0h0M328.7 331.4h0M322.6 334.4h0M303.0 368.6h0M338.4 310.8h0M303.9 372.1h0M326.3 339.2h0M307.4 358.9h0M317.1 350.9h0M302.6 373.9h0M313.2 357.2h0M326.7 336.2h0M330.6 329.4h0M332.0 321.8h0M309.4 350.7h0M301.6 370.6h0M343.1 300.8h0"/><path stroke="#5751ff" d="M338.3 309.0h0M304.0 364.5h0M331.7 331.1h0M319.4 331.4h0M324.8 323.4h0M320.3 349.1h0M308.4 357.3h0M309.1 352.0h0M315.8 355.8h0M326.4 324.9h0M336.2 316.0h0M323.6 327.8h0M305.8 359.9h0M325.2 326.3h0M316.9 341.6h0M331.5 328.3h0M330.1 326.2h0M313.5 344.7h0M336.6 305.5h0M312.4 346.2h0M312.2 351.0h0M318.1 335.0h0M327.3 318.1h0M314.3 351.3h0M329.3 312.1h0M339.3 304.7h0M338.3 312.3h0M326.3 330.7h0M341.0 299.2h0M322.0 337.5h0M338.8 306.8h0M330.4 329.6h0M344.8 296.8h0M332.1 313.0h0M327.5 335.1h0M325.7 329.0h0M325.8 330.0h0M334.1 308.8h0M343.5 297.8h0M305.5 367.0h0M336.9 307.7h0M412.0 191.8h0M308.7 355.4h0M326.9 331.4h0M333.9 316.9h0M317.4 341.0h0M323.9 348.4h0M320.5 339.5h0M312.0 357.7h0M322.9 332.9h0M331.8 321.2h0M326.1 322.8h0M310.2 355.4h0M329.1 329.2h0M337.7 302.8h0M313.7 352.3h0M334.3 317.0h0M331.1 317.5h0M337.0 315.0h0M300.4 377.1h0M330.6 322.6h0M320.4 336.8h0M336.3 310.5h0M316.3 345.0h0M327.0 342.3h0M325.3 341.0h0M316.3 340.1h0M322.5 338.1h0M326.1 319.6h0M342.2 300.7h0M321.0 335.4h0M322.7 330.0h0M329.4 317.2h0M332.0 318.5h0M329.7 329.4h0M307.2 357.5h0M330.6 326.0h0M309.7 358.8h0M321.1 347.0h0M330.4 315.4h0M316.9 357.0h0M348.9 285.4h0M332.8 326.5h0M316.3 339.7h0M315.2 347.5h0M324.4 341.5h0M342.0 299.2h0M338.9 308.9h0M334.9 323.0h0M312.0 347.1h0M351.0 283.3h0M326.8 335.3h0M312.5 349.1h0M332.2 314.8h0M323.0 333.5h0M322.1 330.9h0M335.1 315.5h0M318.1 345.0h0M321.4 344.7h0M313.9 350.8h0M341.6 305.2h0M334.6 317.9h0M304.3 370.0h0M301.2 371.3h0M347.4 289.4h0M336.1 313.5h0M358.2 265.7h0M339.1 312.9h0M307.8 353.2h0M339.2 305.5h0M326.2 340.0h0M338.5 305.8h0M351.2 281.8h0M336.3 309.6h0M309.5 354.4h0M324.8 332.8h0M326.0 318.6h0M332.8 304.1h0M338.5 314.3h0M343.3 296.8h0M329.5 322.7h0M340.5 310.0h0M326.4 333.8h0M331.0 328.4h0M305.3 359.9h0M323.7 329.6h0M334.0 324.7h0M311.2 349.0h0M349.4 286.6h0M340.7 298.8h0M317.3 348.4h0M326.1 332.2h0M316.5 349.2h0M323.1 335.3h0M327.8 323.8h0M307.1 355.1h0M333.9 319.0h0M319.5 354.0h0M303.8 373.1h0M307.5 357.8h0M321.8 331.0h0M322.3 333.1h0M313.1 359.1h0M315.8 342.8h0M308.8 358.3h0M328.4 333.9h0M337.8 311.9h0M317.0 333.7h0M337.8 313.9h0M343.2 301.3h0M328.7 330.7h0M330.8 320.8h0M325.8 327.3h0M307.8 353.1h0M340.2 301.5h0M308.5 360.9h0M335.2 306.5h0M339.8 303.8h0M329.9 315.2h0M333.5 311.1h0M324.5 330.6h0M326.2 333.9h0M312.4 349.6h0M329.8 329.9h0M327.8 338.3h0M327.0 322.7h0M337.0 301.1h0M330.5 324.5h0M338.8 312.1h0M324.8 320.8h0M328.8 319.7h0M344.6 294.1h0M322.0 327.4h0M341.5 300.4h0"/><path stroke="#5367ff" d="M338.7 302.9h0M319.1 345.4h0M316.9 333.5h0M333.4 308.9h0M339.3 300.9h0M341.4 297.0h0M330.9 314.4h0M348.1 289.8h0M331.6 331.1h0M336.8 304.3h0M322.2 332.6h0M312.9 344.9h0M312.3 345.5h0M344.9 285.6h0M353.6 277.1h0M320.6 335.3h0M337.4 308.7h0M330.7 315.2h0M308.1 357.0h0M345.2 297.3h0M324.8 324.8h0M331.5 321.1h0M321.2 333.0h0M326.3 342.1h0M326.2 323.5h0M348.7 282.3h0M313.5 348.6h0M323.7 324.8h0M344.3 293.7h0M347.9 281.7h0M325.8 319.3h0M349.9 277.7h0M307.3 356.6h0M332.6 311.5h0M323.6 348.6h0M335.9 305.4h0M325.5 321.8h0M312.2 351.2h0M329.3 313.9h0M314.8 338.8h0M315.6 347.2h0M324.8 335.5h0M330.7 316.9h0M330.5 325.0h0M326.6 326.0h0M339.3 304.6h0M327.7 339.9h0M320.6 344.9h0M325.4 319.7h0M355.7 271.9h0M337.7 302.4h0M354.5 273.6h0M338.1 317.5h0M335.0 314.1h0M299.2 379.7h0M328.8 315.1h0M332.3 319.7h0M323.7 336.1h0M336.7 307.6h0M337.5 302.5h0M317.4 338.8h0M331.5 306.7h0M334.6 315.5h0M320.2 330.2h0M312.1 350.8h0M318.7 332.5h0M318.4 340.9h0M317.6 338.6h0M318.6 348.9h0M339.6 302.7h0M335.9 312.6h0M340.7 303.3h0M333.7 316.7h0M336.1 318.1h0M316.9 338.3h0M337.4 296.3h0M358.0 265.7h0M330.3 313.6h0M338.9 305.3h0M324.3 328.5h0M356.8 265.7h0M333.3 314.0h0M342.9 292.1h0M335.6 304.9h0M350.1 284.1h0M329.0 311.9h0M331.0 320.0h0M320.2 340.4h0M342.4 303.9h0M320.3 338.8h0M348.0 286.9h0M325.4 321.4h0M320.4 337.8h0M341.2 309.4h0M335.4 312.4h0M345.8 294.6h0M324.0 342.5h0M310.6 354.0h0M326.6 319.5h0M335.9 318.1h0M329.6 325.0h0M323.3 338.9h0M334.4 315.3h0M322.8 324.5h0M321.1 340.5h0M333.6 322.6h0M336.0 320.7h0M331.7 312.7h0M322.3 331.5h0M324.6 337.7h0M324.4 334.0h0M367.7 245.5h0M333.0 306.9h0M314.7 340.7h0M338.6 295.0h0M348.1 285.9h0M328.0 329.7h0M318.8 339.0h0M327.8 316.5h0M337.7 302.7h0M325.1 325.7h0M340.6 304.3h0M343.0 298.7h0M360.5 259.2h0M331.9 317.7h0M340.9 306.1h0M321.4 328.7h0M350.3 281.9h0M329.4 327.4h0M327.0 323.8h0M312.5 344.7h0M335.5 313.6h0M354.7 274.5h0M370.3 262.7h0M352.2 281.0h0M339.3 301.1h0M321.8 329.6h0M319.4 336.1h0M332.4 318.5h0M325.3 330.9h0M319.7 347.3h0M349.9 278.9h0M347.7 290.2h0M325.8 321.8h0M319.4 335.8h0M322.2 333.1h0M320.8 331.2h0M331.9 314.4h0M332.3 311.4h0M338.6 308.9h0M306.4 357.2h0M324.8 335.5h0M327.4 337.6h0"/><path stroke="#4f7cff" d="M366.4 248.2h0M329.0 312.3h0M332.9 305.4h0M360.6 260.1h0M350.7 277.0h0M327.4 324.4h0M339.1 305.4h0M321.0 331.5h0M337.6 306.1h0M321.7 331.5h0M352.4 274.5h0M353.0 275.4h0M343.3 294.8h0M335.2 313.8h0M321.3 328.9h0M333.5 307.9h0M327.3 322.8h0M332.8 318.1h0M322.0 330.9h0M336.2 317.6h0M333.8 315.1h0M326.9 316.9h0M302.1 370.2h0M347.9 291.4h0M332.8 311.6h0M351.3 277.4h0M328.2 323.2h0M342.3 298.4h0M355.5 266.2h0M335.0 315.1h0M333.8 303.6h0M334.1 301.6h0M337.8 304.2h0M343.3 301.3h0M313.0 346.8h0M346.9 288.1h0M336.5 320.0h0M332.3 304.7h0M342.9 290.8h0M353.7 275.1h0M331.6 311.4h0M346.8 292.5h0M344.9 297.2h0M338.9 302.2h0M326.7 317.9h0M328.5 312.8h0M307.6 355.4h0M321.4 333.6h0M327.1 317.0h0M348.4 278.9h0M357.4 267.6h0M331.5 309.8h0M322.2 326.8h0M354.8 262.9h0M348.9 289.2h0M342.8 297.9h0M350.5 283.4h0M322.1 348.6h0M348.7 289.1h0M337.7 313.5h0M351.6 281.7h0M321.8 334.1h0M325.8 327.0h0M359.0 260.1h0M345.9 287.1h0M337.7 309.7h0M336.3 313.2h0M335.1 305.2h0M324.6 322.3h0M322.1 325.0h0M318.2 334.6h0M345.8 295.7h0M334.1 307.8h0M323.3 324.7h0M342.1 303.5h0M343.3 291.2h0M337.4 305.9h0M329.3 313.5h0M347.5 283.5h0M335.3 303.2h0M313.7 341.3h0M332.8 312.7h0M330.6 329.1h0M320.9 329.5h0M333.6 324.9h0M329.7 324.0h0M335.2 313.9h0M334.3 310.0h0M329.8 325.7h0M351.7 278.7h0M325.5 322.2h0M329.0 321.0h0M305.9 358.2h0M334.2 311.6h0M356.2 267.7h0M330.7 318.9h0M333.8 302.9h0M333.8 306.1h0M306.1 357.8h0M355.7 268.9h0M346.3 291.3h0M336.7 310.2h0M364.9 248.6h0M341.0 295.9h0M362.6 252.6h0M345.6 287.2h0M336.1 302.6h0M339.0 308.1h0M342.4 293.1h0M337.8 300.9h0M354.2 271.6h0M322.4 340.6h0M320.3 327.8h0M330.6 326.5h0M352.0 272.2h0M352.9 278.5h0M320.1 334.7h0M341.6 306.2h0M367.6 244.3h0M348.8 285.9h0M335.5 311.2h0M332.5 316.9h0M351.6 282.1h0M329.3 321.3h0M327.4 325.2h0M343.9 300.5h0M349.7 281.4h0M333.0 305.3h0M337.1 304.7h0M345.0 290.3h0M328.8 312.1h0M345.9 297.2h0M338.0 314.1h0M325.5 318.9h0M320.7 331.7h0M321.1 328.4h0M336.4 299.8h0M345.2 286.6h0M356.0 271.2h0M321.6 328.8h0M350.4 276.6h0M332.6 304.7h0M336.9 314.4h0M346.0 286.2h0M329.2 320.2h0M345.9 288.6h0M352.4 279.0h0M309.7 356.7h0M343.2 298.8h0M343.6 294.1h0M335.2 318.3h0M334.9 306.6h0M326.5 329.0h0M354.9 272.6h0M345.9 295.3h0M343.3 287.1h0M327.6 320.9h0M358.3 263.2h0M345.7 293.3h0M336.0 298.8h0M326.2 317.7h0M332.8 306.1h0M390.5 204.0h0M335.6 312.1h0"/><path stroke="#4f8cfd" d="M358.5 264.6h0M332.7 319.1h0M345.0 286.3h0M345.4 290.2h0M360.5 260.3h0M343.0 302.4h0M323.0 330.8h0M328.5 320.0h0M350.2 278.6h0M339.8 297.8h0M328.4 323.5h0M345.6 277.4h0M363.7 253.4h0M356.2 260.1h0M346.4 280.9h0M333.5 312.3h0M342.2 293.9h0M363.5 244.6h0M349.8 285.4h0M348.3 280.3h0M334.8 312.6h0M361.3 256.6h0M340.4 306.9h0M328.4 315.9h0M345.8 296.1h0M355.8 261.6h0M357.0 263.8h0M333.2 308.0h0M349.8 271.5h0M347.4 290.5h0M318.0 337.8h0M344.2 292.6h0M360.5 256.1h0M322.0 324.3h0M358.1 259.1h0M343.5 288.1h0M350.7 277.4h0M348.5 288.3h0M326.4 321.5h0M349.6 278.8h0M348.0 280.3h0M338.4 295.8h0M349.9 277.2h0M337.5 300.6h0M341.9 290.1h0M332.2 305.6h0M323.3 325.2h0M334.0 305.5h0M358.2 265.5h0M347.7 283.7h0M331.0 312.8h0M338.9 304.4h0M366.0 242.7h0M350.7 278.3h0M342.9 288.0h0M351.2 283.1h0M342.0 305.8h0M346.0 285.5h0M354.2 275.7h0M356.8 257.8h0M336.2 299.0h0M353.7 273.1h0M344.8 291.2h0M319.2 336.9h0M358.6 264.0h0M342.5 294.7h0M351.5 275.5h0M341.7 306.8h0M342.9 288.1h0M336.2 303.2h0M347.8 280.8h0M343.5 289.4h0M346.8 287.7h0M353.8 274.8h0M347.8 282.2h0M344.9 299.8h0M326.6 317.7h0M320.4 332.0h0M352.8 272.8h0M337.9 307.3h0M340.9 305.3h0M331.6 311.8h0M325.3 322.0h0M332.2 306.9h0M342.5 286.6h0M329.4 313.9h0M349.0 283.9h0M345.0 288.5h0M356.9 267.1h0M327.0 319.8h0M340.5 301.6h0M341.2 301.0h0M330.5 317.9h0M337.3 296.7h0M362.0 274.0h0M395.9 208.5h0M345.1 284.9h0M340.9 295.1h0M332.0 312.9h0M332.3 309.2h0M339.0 297.9h0M351.9 275.9h0M342.8 289.6h0M328.2 312.6h0M346.6 290.9h0M342.1 297.1h0M350.6 278.4h0M332.2 306.8h0M344.2 293.6h0M349.3 286.7h0M358.7 264.2h0M343.5 284.7h0M326.1 319.4h0M370.4 241.7h0M354.8 265.5h0M360.2 260.4h0M339.0 295.3h0M347.2 276.0h0M315.1 338.7h0M316.1 344.2h0M334.4 302.9h0M319.5 329.6h0M329.9 314.8h0M325.0 323.6h0M325.0 320.0h0M347.0 292.8h0M367.1 247.2h0M351.4 279.3h0M344.2 299.5h0M338.8 296.6h0M352.8 271.2h0M322.4 324.3h0M314.0 344.6h0M348.0 279.6h0M344.4 291.3h0M350.7 280.2h0M358.6 263.2h0M356.2 264.5h0M360.5 269.2h0M350.8 269.0h0"/><path stroke="#5299fa" d="M327.2 314.7h0M385.1 232.3h0M360.7 249.4h0M355.8 258.0h0M361.9 250.1h0M337.8 294.5h0M366.6 242.7h0M349.2 279.4h0M338.3 297.3h0M337.6 301.3h0M357.9 264.0h0M372.3 235.3h0M357.7 258.2h0M361.1 255.5h0M348.4 273.0h0M346.4 276.8h0M350.3 276.8h0M347.7 279.4h0M369.0 237.4h0M408.8 171.0h0M358.6 260.7h0M371.7 236.8h0M355.6 261.4h0M365.9 248.1h0M339.5 295.3h0M352.4 273.9h0M339.9 294.4h0M359.8 250.3h0M358.1 265.8h0M345.7 285.1h0M364.6 246.7h0M349.5 281.1h0M346.1 276.6h0M348.5 271.9h0M342.9 290.0h0M342.3 287.5h0M343.3 284.3h0M344.7 280.8h0M334.9 304.0h0M358.6 256.7h0M358.6 253.3h0M345.7 289.5h0M355.2 265.3h0M357.1 257.9h0M356.1 263.8h0M356.3 263.9h0M353.1 272.7h0M366.7 239.8h0M351.6 271.2h0M345.2 282.5h0M332.2 309.8h0M344.4 283.7h0M316.4 336.2h0M327.6 318.1h0M345.8 283.0h0M346.7 290.0h0M353.8 264.7h0M355.3 262.5h0M365.2 248.9h0M343.7 286.3h0M349.5 269.7h0M342.1 286.5h0M340.7 291.2h0M342.3 300.1h0M351.1 275.3h0M321.1 330.1h0M334.8 305.6h0M339.6 293.8h0M351.3 283.1h0M350.3 279.5h0M338.8 294.4h0M353.1 269.4h0M340.7 293.9h0M327.8 314.3h0M345.0 278.3h0M340.8 291.4h0M359.5 251.1h0M383.0 211.1h0M336.6 299.5h0M366.2 245.7h0M358.1 261.2h0M345.7 278.4h0M332.1 305.9h0M343.5 285.2h0M356.3 259.9h0M365.2 238.5h0M330.7 311.1h0M348.0 275.2h0M355.2 264.0h0M338.3 307.5h0M351.2 277.7h0M337.6 295.6h0M345.2 283.8h0M378.6 236.4h0M347.5 284.1h0M353.5 273.4h0M354.7 258.7h0M348.3 281.4h0M353.3 266.5h0M345.5 281.3h0M345.8 287.8h0M338.7 293.9h0M371.8 226.2h0M372.6 236.0h0M345.2 285.1h0M353.1 274.2h0M328.8 316.6h0M343.2 284.6h0M347.8 283.0h0M366.2 241.0h0M363.4 246.2h0M349.4 276.6h0M334.9 301.6h0M355.9 260.2h0M360.0 252.8h0M352.4 268.3h0M371.1 237.1h0M316.8 334.2h0M341.4 288.8h0M339.6 293.5h0M336.6 296.8h0M364.5 251.2h0M357.9 264.4h0M415.2 184.2h0M339.5 293.4h0M351.4 270.2h0M385.3 232.0h0M355.6 262.6h0"/><path stroke="#54a6f6" d="M350.7 279.4h0M366.9 244.6h0M361.7 253.3h0M372.9 225.1h0M337.0 301.0h0M370.7 237.3h0M357.5 252.9h0M349.2 269.2h0M342.0 289.2h0M355.0 264.9h0M380.0 223.0h0M373.9 222.7h0M355.4 264.8h0M350.0 270.1h0M347.2 273.1h0M361.8 253.1h0M347.9 284.0h0M359.1 256.4h0M358.2 258.5h0M366.9 243.7h0M343.1 284.8h0M361.5 247.5h0M368.8 237.1h0M381.3 213.7h0M369.5 241.8h0M372.6 229.7h0M344.4 290.2h0M356.7 255.4h0M369.9 237.5h0M383.5 216.5h0M360.4 246.7h0M361.3 257.8h0M351.2 263.3h0M351.6 275.1h0M364.9 243.3h0M367.0 243.8h0M344.9 299.0h0M341.0 287.2h0M352.7 266.0h0M357.4 259.0h0M363.5 249.7h0M372.1 231.8h0M343.1 287.9h0M349.9 273.2h0M371.3 238.7h0M356.3 264.3h0M349.8 272.4h0M357.2 260.2h0M358.2 265.4h0M387.0 223.8h0M354.9 265.6h0M360.4 238.2h0M367.9 237.8h0M364.4 245.3h0M365.2 245.9h0M340.6 288.0h0M344.8 282.7h0M355.9 269.0h0M352.3 262.4h0M340.8 292.0h0M347.7 284.7h0M365.2 230.1h0M365.6 244.0h0M367.8 239.2h0M352.8 265.2h0M370.0 231.2h0M361.2 255.0h0M375.2 224.7h0M353.3 268.0h0M377.0 229.5h0M364.8 246.7h0M344.9 283.7h0M350.9 278.0h0M363.7 253.1h0M345.6 285.1h0M349.3 281.4h0M357.4 262.0h0M348.7 272.8h0M374.2 230.6h0M340.4 294.3h0M334.1 303.6h0M360.6 253.2h0M369.3 242.5h0M354.4 264.7h0M342.3 296.8h0M373.6 227.4h0M378.4 218.5h0M377.2 221.2h0M342.5 283.9h0M364.5 243.5h0M358.5 260.2h0M349.1 280.6h0M357.5 260.9h0M347.0 273.7h0M340.8 291.2h0M362.4 247.3h0M381.9 213.2h0M382.6 226.0h0M359.1 248.5h0M373.5 232.4h0M347.4 273.1h0M346.2 279.5h0M359.3 258.6h0M355.1 267.7h0M350.8 273.6h0M383.0 224.0h0M360.3 255.0h0M347.3 277.1h0M341.8 289.0h0M379.0 219.3h0M356.1 263.8h0M358.1 251.0h0M363.9 250.7h0M359.9 250.8h0M352.2 269.8h0M383.0 214.0h0"/><path stroke="#59b6f2" d="M347.4 277.9h0M359.5 247.4h0M366.3 243.3h0M374.1 224.1h0M371.5 231.1h0M372.2 233.5h0M352.6 258.8h0M367.5 230.4h0M344.3 281.7h0M362.1 233.1h0M362.7 254.4h0M373.5 229.1h0M380.6 216.6h0M366.7 242.4h0M364.1 252.3h0M364.8 243.5h0M351.8 260.4h0M376.6 218.7h0M333.2 306.4h0M359.6 248.0h0M357.5 250.6h0M330.1 309.1h0M350.6 269.2h0M377.1 217.7h0M369.4 234.3h0M366.4 234.8h0M362.6 240.7h0M379.1 217.7h0M351.7 265.7h0M352.4 263.5h0M373.4 234.1h0M371.3 238.3h0M344.7 279.9h0M339.7 290.9h0M340.8 292.6h0M372.1 236.0h0M367.0 224.7h0M379.2 214.1h0M363.3 245.1h0M365.2 238.2h0M358.3 257.2h0M349.9 265.8h0M360.6 237.5h0M373.7 222.4h0M374.9 225.0h0M362.2 249.0h0M364.2 251.8h0M372.8 228.1h0M356.4 257.3h0M362.3 246.1h0M363.3 238.7h0M385.7 202.4h0M353.3 262.6h0M362.4 240.0h0M364.4 246.2h0M360.4 250.6h0M346.9 283.7h0M371.8 226.8h0M364.9 243.7h0M348.3 281.3h0M368.5 236.7h0M356.6 252.7h0M355.5 258.8h0M357.5 254.2h0M385.5 202.2h0M363.4 244.3h0M370.7 237.4h0M369.0 234.4h0M377.3 220.8h0M383.4 199.0h0M367.2 234.5h0M359.0 250.6h0M355.3 261.5h0M345.2 277.1h0M363.9 243.9h0M373.0 230.5h0M359.8 252.5h0M360.9 248.8h0M367.8 236.6h0M362.0 249.7h0M352.8 274.2h0M349.1 269.1h0M359.7 239.5h0M374.3 223.2h0M346.7 274.8h0M347.1 281.9h0M351.6 270.6h0M357.3 256.5h0M335.3 299.3h0M350.6 272.1h0M353.2 264.1h0M343.5 283.2h0M365.7 246.9h0M350.1 271.5h0M365.4 241.2h0M365.5 241.4h0M371.7 230.3h0M368.6 235.2h0M365.7 241.7h0M354.0 259.0h0M374.4 229.8h0M370.8 231.2h0M351.8 265.4h0M355.3 265.2h0M364.8 244.9h0M349.2 271.0h0M346.8 277.8h0M347.5 275.3h0M375.1 217.7h0M339.5 293.2h0M354.8 264.5h0M364.5 243.3h0M372.2 237.7h0M371.6 235.9h0M378.1 218.7h0M349.0 276.3h0M348.0 284.8h0M377.5 218.0h0M354.3 258.9h0M347.0 279.0h0M363.0 248.7h0M344.2 281.7h0M365.2 241.2h0"/><path stroke="#5ec7ed" d="M362.4 243.8h0M354.7 267.7h0M373.3 225.9h0M359.9 252.1h0M360.8 257.2h0M367.7 237.9h0M371.7 238.1h0M366.2 237.0h0M369.8 224.8h0M356.1 252.2h0M371.0 225.8h0M356.9 248.5h0M367.0 236.1h0M364.9 244.1h0M374.5 221.4h0M377.1 218.4h0M423.0 143.0h0M369.8 237.6h0M358.4 246.5h0M375.9 223.2h0M355.8 268.5h0M356.4 258.5h0M372.0 236.3h0M370.5 223.2h0M350.7 264.6h0M358.6 258.6h0M382.2 211.8h0M352.0 261.5h0M375.9 207.7h0M362.8 237.6h0M359.4 239.8h0M378.4 219.3h0M359.0 252.0h0M363.7 243.4h0M367.6 230.3h0M372.3 233.1h0M370.9 228.5h0M357.8 249.9h0M371.4 227.2h0M361.5 238.2h0M375.3 226.6h0M373.0 229.6h0M365.3 238.0h0M363.1 248.2h0M357.0 255.6h0M371.1 229.1h0M373.9 228.5h0M355.4 255.2h0M378.1 219.8h0M361.0 238.8h0M363.7 244.7h0M357.9 251.3h0M367.2 236.4h0M371.0 225.0h0M349.5 268.6h0M360.0 241.6h0M347.2 276.9h0M346.7 275.8h0M369.3 233.4h0M368.6 244.0h0M353.4 257.1h0M349.6 275.1h0M344.4 282.5h0M359.8 245.5h0M374.9 226.7h0M382.6 213.0h0M358.5 243.8h0M367.2 245.5h0M368.6 230.4h0M382.1 212.5h0M376.5 221.0h0M357.3 243.4h0M352.5 262.1h0M359.6 243.4h0M378.4 218.2h0M355.5 258.7h0M369.5 230.4h0M372.5 219.1h0M363.8 248.6h0M349.6 266.8h0M366.4 239.9h0M374.0 231.1h0M352.1 262.0h0M359.2 251.2h0M360.0 241.3h0M356.4 257.2h0M368.2 227.7h0M379.3 216.2h0M367.8 230.8h0M378.4 214.4h0M379.8 212.5h0M361.2 243.8h0"/><path stroke="#63d9e9" d="M382.1 213.4h0M368.8 236.8h0M373.6 220.1h0M379.0 210.6h0M366.6 230.5h0M358.6 248.4h0M364.7 243.4h0M359.1 247.7h0M383.9 210.2h0M360.2 238.8h0M361.7 239.3h0M381.8 211.8h0M380.0 207.2h0M370.7 223.9h0M357.8 253.6h0M378.9 215.5h0M357.0 253.3h0M371.0 214.8h0M373.9 216.4h0M371.2 238.8h0M372.8 221.5h0M400.6 170.4h0M362.5 244.1h0M375.0 220.9h0M377.3 214.3h0M378.4 218.0h0M352.5 267.2h0M352.6 259.8h0M355.0 251.5h0M403.0 140.4h0M365.1 232.1h0M364.3 234.7h0M372.0 227.4h0M361.0 240.2h0M367.4 233.3h0M353.1 258.3h0M380.3 209.2h0M376.8 218.8h0M361.2 238.4h0M356.3 255.5h0M370.4 225.3h0M365.6 240.6h0M371.1 219.1h0M368.2 234.0h0M383.4 209.3h0M362.8 236.9h0M367.5 233.8h0M366.0 233.0h0M378.7 211.2h0M375.7 213.1h0M365.6 228.8h0M385.7 194.5h0M361.5 237.2h0M363.9 238.1h0M359.1 242.5h0M376.2 206.5h0M356.1 263.6h0M366.4 236.9h0M362.9 232.9h0M373.4 218.8h0M368.2 232.6h0M378.2 216.3h0M372.1 226.2h0M370.2 224.1h0M375.8 222.4h0M381.9 212.1h0M362.8 240.1h0M362.1 235.3h0M382.6 209.5h0M365.5 237.5h0M363.6 239.3h0M352.3 264.2h0M363.6 241.0h0M362.5 236.9h0M373.9 227.2h0M375.9 221.5h0M387.3 193.2h0M372.4 224.8h0M367.6 239.8h0M375.8 218.1h0M377.5 218.2h0M359.4 238.0h0M382.0 206.8h0M381.7 208.8h0M355.3 251.6h0M371.4 219.9h0M362.3 240.0h0M366.0 240.2h0M365.2 238.4h0M381.3 213.0h0M366.0 231.5h0M359.6 237.7h0M375.4 224.0h0M352.1 268.5h0M386.1 193.8h0M376.0 219.8h0M347.0 279.9h0M357.2 251.4h0M381.7 210.5h0M369.1 237.7h0M377.1 222.1h0M367.2 247.4h0M366.5 232.8h0M382.9 211.8h0M380.8 211.0h0M367.4 235.7h0M358.0 248.9h0"/><path stroke="#6be6e7" d="M362.4 240.6h0M358.0 241.4h0M378.6 214.4h0M378.9 206.3h0M367.7 220.3h0M373.5 224.8h0M376.9 216.3h0M363.5 231.4h0M360.3 241.2h0M379.6 217.4h0M364.8 234.6h0M372.7 215.6h0M366.9 221.9h0M370.9 216.7h0M375.3 218.9h0M363.1 231.7h0M368.9 227.5h0M381.1 215.3h0M384.1 194.9h0M374.4 221.0h0M379.6 210.1h0M381.2 209.2h0M382.2 206.3h0M373.1 225.1h0M353.2 257.6h0M371.1 229.5h0M362.0 233.7h0M383.0 197.8h0M361.8 248.2h0M379.9 201.1h0M362.6 234.1h0M372.4 207.0h0M371.9 232.8h0M368.3 244.0h0M352.8 261.1h0M366.1 226.3h0M394.0 179.1h0M378.2 214.2h0M383.1 203.0h0M366.9 230.5h0M357.5 243.4h0M364.7 235.5h0M376.0 208.2h0M398.8 176.4h0M362.3 241.3h0M388.8 188.5h0M399.1 173.3h0M356.5 248.0h0M360.8 237.9h0M385.9 187.1h0M380.7 209.9h0M368.7 227.8h0M383.6 198.6h0M387.1 192.3h0M382.0 211.2h0M387.6 189.5h0M375.6 218.1h0M399.4 154.2h0M371.3 220.5h0M365.1 230.1h0M378.6 215.4h0M383.0 197.4h0M377.8 219.8h0M380.9 214.5h0M363.1 237.5h0M357.1 245.3h0M384.3 203.8h0M375.3 215.2h0M381.5 197.5h0M367.9 235.6h0M402.8 165.5h0M377.7 206.1h0M380.6 198.4h0M357.8 251.6h0M360.0 236.4h0M377.5 221.3h0M366.9 231.5h0M364.8 231.8h0M357.7 242.4h0M372.4 231.4h0M362.7 240.3h0M382.9 199.0h0M402.6 142.5h0M361.2 238.9h0M365.2 225.1h0M373.5 217.3h0M382.0 209.2h0M356.9 244.4h0M395.7 178.7h0M398.2 163.8h0M375.0 220.2h0M358.7 241.3h0M383.5 198.9h0M360.0 239.1h0M361.3 238.1h0M384.3 206.2h0M395.1 178.6h0M381.8 207.5h0M364.1 227.6h0M366.3 235.1h0M369.2 230.1h0M367.2 236.5h0M378.4 208.9h0M366.6 233.3h0M365.4 226.7h0M374.0 207.7h0M386.0 200.8h0M358.9 251.5h0M374.7 213.8h0M377.6 204.1h0M372.8 221.8h0M370.2 223.4h0M378.8 217.8h0M376.5 221.0h0M361.4 235.2h0M358.6 244.8h0M373.5 222.9h0M376.8 215.1h0M363.3 243.3h0M372.7 225.3h0M396.0 177.9h0M373.7 222.4h0M368.9 217.3h0M387.0 193.8h0M363.9 232.5h0M382.0 212.9h0M374.5 221.7h0M402.4 146.6h0M369.0 227.4h0M389.3 187.2h0"/><path stroke="#72f2e7" d="M384.9 201.7h0M384.1 207.7h0M365.1 230.2h0M380.4 202.9h0M374.1 211.4h0M368.7 221.2h0M402.5 167.3h0M366.0 228.4h0M381.8 204.4h0M360.3 242.1h0M371.7 221.9h0M368.0 221.3h0M381.5 208.4h0M382.2 198.3h0M362.9 229.8h0M382.3 207.6h0M383.5 201.7h0M380.1 199.5h0M362.2 231.1h0M400.8 151.8h0M379.4 198.1h0M381.7 208.0h0M377.7 202.1h0M364.7 236.5h0M380.7 212.1h0M372.8 214.8h0M381.0 201.7h0M394.8 165.2h0M371.1 217.9h0M369.6 220.7h0M373.9 224.6h0M365.8 226.3h0M381.5 201.0h0M371.0 220.2h0M367.4 226.8h0M355.8 254.0h0M375.4 212.1h0M380.2 201.6h0M383.8 202.4h0M371.2 217.9h0M381.7 207.7h0M362.0 234.7h0M371.4 225.2h0M371.4 222.3h0M402.9 148.2h0M389.5 180.9h0M369.1 222.3h0M389.6 185.4h0M398.6 151.6h0M379.3 201.4h0M372.1 221.1h0M380.6 211.5h0M395.4 176.0h0M394.5 179.4h0M373.5 215.1h0M384.2 203.4h0M357.4 247.0h0M380.4 202.7h0M377.8 191.9h0M387.1 187.6h0M392.9 181.3h0M374.2 217.6h0M400.4 139.5h0M360.2 239.5h0M382.2 199.3h0M381.9 200.8h0M357.5 250.7h0M394.7 179.5h0M360.8 234.9h0M381.3 192.9h0M361.7 232.3h0M365.3 229.0h0M381.0 203.9h0M379.1 199.2h0M376.5 217.9h0M367.2 225.5h0M377.9 185.3h0M360.5 237.8h0M367.2 222.1h0M375.1 208.2h0M379.0 207.7h0M390.8 184.8h0M360.9 238.2h0M396.9 173.5h0M383.4 208.1h0M374.1 208.2h0M381.1 214.2h0M385.1 196.7h0M376.5 217.5h0M384.8 193.1h0M370.2 222.9h0M381.4 200.4h0M369.3 214.1h0M381.7 198.2h0M371.8 221.8h0M362.2 237.9h0M390.3 182.3h0M397.2 167.4h0M382.8 194.1h0M367.4 229.5h0M369.9 211.4h0M386.9 194.4h0M359.7 239.3h0M368.1 220.3h0M380.6 214.1h0M398.6 148.5h0M377.6 206.3h0M365.3 238.9h0M359.9 240.6h0M362.1 241.3h0M371.1 211.1h0M396.6 143.6h0M373.7 218.4h0M381.8 203.0h0M364.6 228.1h0M387.8 191.2h0M372.8 218.8h0"/><path stroke="#7afde6" d="M397.5 175.6h0M373.1 209.8h0M382.2 184.5h0M402.9 148.6h0M370.4 209.5h0M381.5 210.1h0M362.7 232.6h0M397.3 174.4h0M360.6 235.7h0M375.1 214.2h0M375.5 211.4h0M398.5 146.4h0M371.4 215.5h0M365.1 234.7h0M382.5 187.2h0M386.3 191.8h0M402.1 152.1h0M386.8 182.5h0M398.1 176.4h0M401.3 138.9h0M356.8 245.8h0M377.1 200.5h0M388.8 183.2h0M372.8 217.5h0M393.6 177.1h0M381.6 206.5h0M402.7 151.5h0M375.2 203.1h0M389.9 181.4h0M389.7 177.5h0M386.7 187.4h0M400.1 148.3h0M402.2 137.7h0M402.5 151.4h0M379.9 201.2h0M380.5 204.0h0M394.6 172.8h0M366.6 223.5h0M386.4 180.1h0M370.0 209.2h0M403.0 153.9h0M390.9 174.6h0M367.1 224.7h0M390.5 183.3h0M368.4 215.3h0M386.9 184.9h0M381.1 207.2h0M368.7 227.3h0M399.1 171.7h0M384.9 189.6h0M362.1 233.0h0M382.7 192.1h0M375.1 214.1h0M377.5 207.2h0M389.4 177.9h0M359.4 239.5h0M360.7 234.5h0M383.4 193.5h0M380.4 203.2h0M383.8 207.7h0M383.5 203.1h0M362.8 231.6h0M372.8 221.1h0M380.6 208.5h0M375.2 213.8h0M370.9 214.7h0M377.7 186.3h0M370.3 208.9h0M391.9 180.4h0M335.5 293.5h0M364.1 241.4h0M382.8 206.6h0M384.5 180.6h0M385.2 196.7h0M357.0 245.4h0M383.0 203.2h0M403.0 155.5h0M400.1 160.1h0M403.3 151.5h0M380.6 184.9h0M384.2 206.0h0M368.9 222.1h0M368.7 226.8h0M400.8 167.9h0M396.9 154.5h0M398.0 161.8h0M385.6 197.3h0M397.3 144.4h0M388.5 178.0h0M381.8 197.7h0M386.1 192.7h0M403.4 153.4h0M391.7 181.8h0M399.7 145.0h0M394.4 179.4h0M401.4 145.7h0M382.2 194.0h0M388.5 181.2h0M375.0 211.4h0M382.7 182.6h0M398.8 176.1h0M370.2 224.6h0M369.5 211.0h0M399.6 153.0h0M376.1 208.1h0M376.5 194.4h0M373.5 211.1h0M381.7 188.0h0M370.7 216.8h0M384.0 201.8h0M398.7 170.6h0M381.6 189.3h0M374.7 204.7h0M382.6 195.0h0M401.8 151.3h0M376.5 204.2h0M389.4 183.8h0M402.5 153.9h0M382.3 193.9h0M392.2 174.7h0M366.2 240.3h0M385.0 194.5h0M399.0 152.8h0M386.2 200.4h0M394.7 163.3h0M399.0 159.5h0M360.1 237.1h0M372.9 207.1h0M371.8 221.4h0M394.6 176.3h0M370.2 224.8h0M367.3 230.2h0M386.3 202.3h0M400.3 146.3h0M380.6 206.9h0M403.3 143.9h0M369.8 216.6h0M401.9 139.8h0M398.8 164.5h0M383.5 184.3h0"/><path stroke="#7ffee4" d="M374.0 209.9h0M394.8 175.1h0M385.8 188.3h0M385.9 190.4h0M396.6 161.5h0M392.4 158.9h0M385.9 182.3h0M400.0 166.5h0M402.6 165.1h0M386.4 183.6h0M381.6 201.1h0M401.7 138.0h0M381.0 191.3h0M375.2 203.1h0M395.9 172.1h0M372.9 208.0h0M377.8 213.9h0M395.0 156.5h0M395.0 148.3h0M378.3 200.1h0M400.9 153.2h0M373.4 213.0h0M402.8 153.7h0M398.3 149.9h0M376.1 207.6h0M374.1 209.3h0M398.7 148.6h0M372.0 213.0h0M401.3 143.5h0M399.4 134.6h0M382.5 185.6h0M377.4 190.4h0M381.8 182.6h0M371.7 207.4h0M395.4 161.0h0M368.6 217.1h0M379.7 194.8h0M393.7 150.2h0M400.9 142.1h0M393.8 172.7h0M376.5 208.6h0M402.9 146.1h0M398.3 168.1h0M403.5 140.1h0M399.2 155.3h0M370.5 218.0h0M380.5 205.2h0M403.4 145.3h0M382.3 186.2h0M401.0 136.7h0M400.6 165.3h0M374.1 212.1h0M390.3 158.0h0M382.3 197.6h0M371.6 207.1h0M379.3 198.6h0M379.2 209.8h0M376.8 192.4h0M384.5 189.9h0M401.5 150.2h0M385.2 186.2h0M391.9 182.1h0M400.0 156.0h0M381.8 196.1h0M383.0 195.0h0M384.5 180.7h0M371.4 212.0h0M370.4 212.2h0M396.8 149.0h0M396.9 171.3h0M402.5 143.9h0M393.9 176.4h0M395.6 165.1h0M393.9 177.0h0M368.1 217.6h0M372.6 214.2h0M396.4 152.5h0M397.2 160.1h0M400.3 151.6h0M375.5 207.8h0M399.3 151.1h0M395.8 149.3h0M377.6 201.4h0M382.6 194.9h0M388.5 166.0h0M393.2 157.1h0M374.3 215.9h0M372.1 205.0h0M370.5 209.4h0M401.5 139.3h0M385.2 189.8h0M401.2 145.7h0M394.5 147.4h0M385.2 189.3h0M371.7 213.6h0M380.6 203.3h0M379.9 198.1h0M375.4 209.0h0M374.7 208.8h0M378.8 203.5h0M396.2 147.5h0M382.3 184.3h0M375.6 203.4h0M397.7 167.6h0M382.2 187.2h0M398.1 164.7h0M379.9 208.6h0M367.6 219.1h0M396.4 169.8h0M396.8 161.4h0M403.4 148.5h0M380.7 202.1h0M401.6 139.2h0M390.5 179.7h0M377.6 202.3h0M369.2 216.5h0M383.0 197.4h0M376.7 202.8h0M399.8 173.3h0M399.0 155.2h0M395.2 148.3h0M371.9 209.1h0M377.7 194.1h0M402.3 156.2h0M395.9 166.5h0M395.8 143.0h0M396.0 166.2h0M389.6 174.0h0M398.1 153.8h0M385.3 187.6h0M380.2 198.9h0M385.4 187.1h0M393.6 159.9h0M398.6 153.3h0M398.8 143.8h0M374.9 191.6h0M370.3 209.5h0M402.8 137.4h0M385.1 198.3h0M372.7 199.6h0M402.8 142.4h0M396.9 159.5h0M394.2 137.1h0M378.9 195.9h0M378.5 202.3h0M370.5 216.5h0M377.1 205.4h0M381.8 195.9h0M400.4 138.4h0M378.2 204.0h0M370.1 209.2h0M379.9 187.5h0M374.7 201.5h0M382.7 189.3h0M401.9 151.2h0M400.7 158.5h0M400.4 143.6h0M372.8 210.9h0M399.4 153.1h0"/><path stroke="#83fee2" d="M379.2 208.8h0M384.0 181.0h0M373.2 208.3h0M377.4 199.1h0M373.7 196.5h0M394.6 154.5h0M387.0 196.7h0M400.9 157.2h0M377.4 207.7h0M368.9 219.3h0M400.8 144.3h0M374.1 208.1h0M391.7 142.6h0M401.1 142.3h0M401.8 151.3h0M368.0 220.1h0M368.0 221.2h0M378.6 186.2h0M395.8 138.4h0M376.2 200.2h0M386.6 184.9h0M402.1 149.9h0M373.2 203.2h0M386.4 178.2h0M405.6 91.6h0M401.9 152.7h0M395.6 144.1h0M381.5 182.3h0M396.4 144.8h0M399.8 150.7h0M385.8 184.9h0M399.6 145.9h0M397.6 152.5h0M401.4 137.4h0M397.8 141.5h0M380.6 189.5h0M395.7 171.4h0M399.5 173.5h0M399.3 141.6h0M371.2 213.2h0M371.1 211.6h0M402.0 136.2h0M401.3 144.5h0M386.8 176.1h0M387.1 180.1h0M394.4 157.6h0M373.1 213.9h0M397.6 157.5h0M375.1 188.5h0M399.9 148.0h0M390.7 150.5h0M399.4 143.8h0M390.7 164.0h0M376.3 201.5h0M396.0 137.2h0M370.8 211.0h0M397.6 151.1h0M395.4 162.3h0M398.1 161.2h0M367.9 222.3h0M381.2 178.3h0M399.8 135.9h0M401.6 151.9h0M402.9 149.0h0M378.3 192.5h0M377.5 211.3h0M397.6 158.0h0M395.9 157.6h0M399.0 154.8h0M391.6 165.2h0M399.0 142.1h0M398.9 137.2h0M394.0 151.0h0M377.3 201.6h0M379.3 189.5h0M365.0 231.1h0M402.6 142.6h0M398.1 166.8h0M388.3 177.6h0M388.1 182.7h0M367.5 217.2h0M400.5 144.3h0M401.7 138.1h0M407.3 119.7h0M385.8 185.4h0M378.1 205.6h0M395.4 143.9h0M380.3 191.0h0M393.6 168.1h0M387.8 145.6h0M389.4 181.8h0M400.2 149.6h0M374.3 194.1h0M370.5 212.4h0M399.6 136.2h0M397.3 159.8h0M398.5 151.5h0M394.4 169.6h0M380.0 184.1h0M392.3 164.9h0M385.5 184.0h0M378.8 206.6h0M368.3 215.0h0M376.5 207.0h0M394.6 161.1h0M395.1 137.0h0M376.3 188.0h0M376.1 208.2h0M390.2 140.4h0M401.2 135.2h0M393.6 138.8h0M379.4 187.2h0M389.8 182.4h0M397.0 139.5h0M375.0 201.3h0M398.0 136.7h0M399.2 135.9h0M380.2 199.8h0M376.0 215.2h0M376.1 195.7h0M396.2 173.0h0M399.7 146.9h0M371.9 208.4h0M394.0 147.8h0M377.9 204.5h0M376.2 187.7h0M398.3 153.7h0M394.7 176.9h0M381.9 183.7h0M395.6 158.1h0M389.6 176.6h0M379.8 187.0h0M392.4 178.7h0M378.5 188.5h0M394.3 166.8h0M387.0 184.8h0M375.9 204.8h0M377.6 186.2h0M381.0 207.9h0M376.6 204.2h0M389.3 178.2h0M391.4 177.4h0M368.0 219.7h0M419.5 93.6h0M398.0 139.9h0M372.9 210.4h0M401.7 136.3h0M393.4 140.8h0M373.5 204.7h0"/><path stroke="#88ffe0" d="M389.7 138.0h0M398.5 147.8h0M389.8 141.7h0M389.5 181.6h0M391.9 168.5h0M422.3 85.5h0M382.4 182.4h0M415.8 92.5h0M395.9 159.8h0M372.9 203.4h0M397.7 136.5h0M403.2 114.0h0M390.0 169.1h0M388.7 178.2h0M406.1 87.0h0M385.8 177.3h0M395.0 137.2h0M380.3 183.5h0M403.3 79.4h0M377.2 198.5h0M390.6 169.6h0M384.7 190.1h0M382.6 180.6h0M369.6 215.5h0M393.0 146.4h0M395.5 151.1h0M378.9 182.3h0M375.1 198.9h0M394.3 161.5h0M401.2 153.7h0M390.3 150.9h0M396.6 139.1h0M372.9 208.7h0M378.3 200.1h0M376.1 191.8h0M399.4 145.4h0M379.2 203.4h0M374.0 193.4h0M397.0 134.8h0M415.2 120.4h0M378.9 182.6h0M393.9 141.1h0M393.2 135.4h0M389.0 177.6h0M401.8 152.3h0M378.6 193.7h0M385.7 183.3h0M389.5 154.9h0M398.4 137.6h0M391.1 163.5h0M405.5 127.1h0M390.5 150.5h0M398.5 139.1h0M395.0 153.1h0M377.3 194.6h0M392.4 166.5h0M390.3 145.5h0M395.9 163.0h0M392.1 169.3h0M395.2 142.7h0M389.3 141.4h0M375.8 199.9h0M396.3 152.7h0M399.7 172.7h0M375.2 194.8h0M401.7 144.2h0M392.9 168.6h0M385.3 195.1h0M414.1 120.1h0M399.6 157.7h0M396.9 135.7h0M381.8 178.8h0M400.5 146.1h0M376.1 197.2h0M396.2 153.8h0M398.1 164.5h0M393.1 146.9h0M402.4 153.6h0M394.9 174.8h0M414.9 120.6h0M392.8 139.2h0M388.5 173.7h0M392.7 171.1h0M394.7 171.0h0M378.6 186.3h0M372.9 205.7h0M369.9 210.9h0M391.6 144.3h0M393.1 138.9h0M378.3 184.7h0M384.3 188.6h0M420.1 87.6h0M375.8 190.7h0M393.5 170.2h0M416.2 107.8h0M387.9 156.0h0M410.8 103.3h0M400.8 136.6h0M397.1 167.5h0M394.3 158.1h0M394.1 176.5h0M391.7 171.2h0M382.9 177.3h0M407.3 130.0h0M393.7 152.3h0M381.4 192.7h0M370.6 208.3h0M404.3 118.5h0M399.6 155.0h0M392.4 140.5h0M385.1 179.2h0M388.8 145.6h0M373.5 197.5h0M397.4 158.2h0M401.7 142.9h0M380.5 184.5h0M372.6 200.8h0M379.9 189.7h0M401.4 136.5h0M392.5 141.6h0M401.4 145.8h0M381.6 181.4h0M400.3 145.8h0M383.4 194.1h0M382.3 195.4h0M391.6 143.5h0M417.3 115.7h0M391.5 152.1h0M375.1 188.7h0M396.3 164.5h0M380.4 191.9h0M399.2 140.3h0M417.0 98.1h0M397.0 135.1h0M373.7 201.9h0M396.3 171.2h0M408.9 117.3h0M396.1 156.0h0M416.3 111.2h0M392.2 177.2h0M376.4 185.8h0M380.0 181.2h0M392.1 171.6h0M377.2 187.5h0M385.9 182.0h0M392.4 166.8h0M380.1 209.2h0M374.7 190.2h0M378.1 197.5h0M395.3 151.4h0M372.9 204.0h0M387.9 176.7h0M396.0 163.6h0M404.0 100.5h0M395.2 165.3h0M376.9 194.0h0M389.0 179.4h0M399.2 148.6h0M380.8 187.4h0M389.6 173.6h0M397.3 161.5h0M374.5 190.8h0"/><path stroke="#8dffda" d="M396.1 157.8h0M414.9 96.2h0M390.7 141.1h0M410.1 131.1h0M383.2 183.7h0M390.4 170.1h0M391.8 161.5h0M394.4 141.8h0M393.2 144.0h0M404.4 131.5h0M390.1 140.0h0M393.2 152.7h0M386.9 179.5h0M389.4 141.0h0M421.0 92.1h0M410.7 127.3h0M390.4 168.4h0M416.2 110.7h0M392.3 154.9h0M380.8 178.2h0M392.1 148.6h0M394.0 167.8h0M392.9 139.3h0M403.2 146.4h0M376.1 191.5h0M399.4 158.1h0M392.3 146.3h0M394.3 151.3h0M390.4 159.0h0M396.0 167.6h0M410.3 150.7h0M393.8 162.0h0M403.9 95.6h0M397.7 136.1h0M390.0 155.8h0M393.8 163.6h0M375.4 187.2h0M420.0 95.2h0M396.6 135.1h0M382.4 179.6h0M396.0 135.8h0M393.0 149.0h0M396.5 163.8h0M396.5 140.1h0M397.8 135.0h0M390.0 138.4h0M396.4 147.5h0M388.5 148.3h0M377.1 203.7h0M390.6 141.1h0M405.9 132.3h0M411.0 145.3h0M407.2 130.6h0M407.9 130.7h0M391.2 152.8h0M410.5 91.0h0M412.1 124.0h0M382.3 179.5h0M417.3 95.2h0M414.2 129.4h0M394.5 167.2h0M390.4 159.4h0M393.0 136.2h0M412.6 97.3h0M395.9 138.7h0M389.1 153.5h0M396.2 149.5h0M378.4 183.1h0M398.1 147.1h0M394.5 147.1h0M419.8 83.1h0M379.9 183.0h0M392.0 146.2h0M394.0 160.1h0M415.8 91.0h0M395.2 160.6h0M388.4 144.1h0M412.7 133.1h0M406.5 81.1h0M390.8 147.6h0M389.4 146.6h0M379.7 183.0h0M380.3 179.7h0M391.1 165.1h0M402.5 147.0h0M394.3 146.5h0M396.9 148.4h0M399.1 135.6h0M393.0 166.1h0M393.6 141.6h0M409.3 117.6h0M410.1 91.2h0M393.8 137.9h0M413.0 122.8h0M390.6 157.8h0M416.2 111.2h0M391.5 145.1h0M391.3 134.7h0M417.9 93.4h0M411.3 82.5h0M392.6 149.3h0M394.0 152.5h0M396.1 135.3h0M405.3 82.7h0M426.8 84.9h0M413.9 78.1h0M390.2 142.2h0M398.6 140.8h0M415.6 121.5h0M393.8 138.2h0M389.8 171.6h0M408.3 119.2h0M375.0 189.2h0M413.5 133.4h0M389.5 167.3h0M380.2 192.3h0M410.6 115.8h0M414.0 129.9h0M412.3 109.4h0M394.2 141.5h0M383.3 182.4h0M429.3 172.4h0M389.3 160.2h0M373.2 201.5h0M394.5 147.7h0M398.2 147.6h0M394.5 160.8h0M369.8 213.4h0M389.8 148.1h0M389.8 154.1h0M410.7 90.6h0M395.3 155.2h0M406.2 130.1h0M396.1 151.6h0M396.0 135.0h0M395.4 145.2h0M413.3 116.0h0M392.1 165.1h0M413.0 104.7h0M390.4 152.8h0M393.0 155.9h0M404.7 120.8h0M376.0 210.8h0M371.1 206.7h0M390.3 170.9h0M420.7 85.4h0M392.2 172.1h0M392.3 151.5h0M388.2 174.3h0M397.9 137.9h0M372.9 206.0h0M394.2 145.4h0M394.2 139.0h0M389.0 143.6h0M404.5 121.3h0"/><path stroke="#91ffd4" d="M389.0 159.7h0M390.1 152.1h0M393.2 146.4h0M393.1 157.3h0M394.4 143.6h0M428.5 126.5h0M393.6 143.3h0M389.9 152.2h0M390.2 147.1h0M404.5 111.8h0M412.2 133.3h0M412.6 93.0h0M389.4 137.6h0M388.4 154.5h0M395.0 142.1h0M389.2 158.3h0M389.8 137.1h0M420.7 80.4h0M391.4 135.2h0M389.3 146.3h0M393.3 145.3h0M411.6 96.7h0M392.3 140.1h0M414.0 78.6h0M394.9 151.9h0M389.5 144.7h0M412.8 123.3h0M375.6 198.0h0M392.2 169.1h0M421.0 114.4h0M402.5 83.7h0M413.2 84.7h0M398.1 167.2h0M390.7 141.5h0M407.3 145.6h0M403.3 86.1h0M378.3 193.3h0M404.1 99.0h0M395.3 155.8h0M391.9 163.9h0M416.7 160.8h0M410.3 127.2h0M408.4 107.9h0M413.1 133.3h0M415.3 103.1h0M410.6 146.0h0M393.3 140.5h0M414.5 105.7h0M416.5 160.8h0M411.6 84.7h0M419.0 88.7h0M391.1 158.6h0M394.8 148.3h0M375.7 198.6h0M386.6 174.2h0M393.8 147.3h0M383.9 179.5h0M388.0 142.5h0M411.6 124.4h0M382.7 178.4h0M368.9 215.2h0M404.1 91.5h0M418.4 80.5h0M411.4 108.6h0M402.6 148.4h0M410.3 98.5h0M390.4 142.8h0M410.3 135.2h0M389.8 143.6h0M408.0 132.2h0M394.8 147.6h0M397.0 138.3h0M398.2 153.4h0M422.6 95.4h0M383.4 183.6h0M388.1 156.1h0M390.9 135.2h0M414.0 134.6h0M384.8 178.8h0M388.0 148.7h0M407.9 79.8h0M421.9 84.6h0M405.8 106.3h0M392.6 149.6h0M388.9 151.9h0M416.1 96.4h0M403.7 128.3h0M396.4 137.5h0M403.2 122.3h0M388.3 146.4h0M394.1 150.9h0M412.6 94.2h0M406.1 94.6h0M410.2 88.0h0M412.3 131.1h0M389.3 141.8h0M411.5 95.4h0M398.2 143.1h0M395.5 151.6h0M410.7 129.2h0M387.9 142.6h0M403.2 127.2h0M391.7 145.3h0M410.5 123.0h0M402.9 94.5h0M415.7 117.0h0M410.7 150.5h0M411.6 137.0h0M410.8 98.4h0M416.9 90.5h0M410.2 112.6h0M390.4 140.5h0M402.6 121.1h0M418.0 120.0h0M389.9 150.9h0M398.3 138.6h0M403.3 121.1h0M392.8 138.2h0M392.7 139.4h0M393.0 135.5h0M393.2 141.1h0M406.4 125.4h0M389.1 151.8h0M425.5 127.5h0M395.7 136.1h0M393.8 137.7h0M407.9 133.3h0M413.4 77.1h0M417.3 130.5h0M411.0 87.1h0M419.4 93.1h0M391.7 135.3h0M390.9 160.3h0M414.0 130.3h0M388.6 141.2h0M416.7 84.4h0M399.0 144.0h0M421.7 95.0h0M391.7 158.4h0M388.2 157.3h0M375.0 188.6h0M405.5 135.0h0M410.7 119.0h0M409.1 78.2h0M421.2 91.9h0M415.2 135.2h0M422.4 131.0h0M388.5 156.8h0"/><path stroke="#96ffce" d="M422.5 131.2h0M437.1 118.7h0M397.0 155.1h0M405.5 126.5h0M406.8 94.2h0M391.2 150.3h0M406.0 123.4h0M425.5 84.3h0M415.5 89.9h0M397.2 141.4h0M387.8 154.8h0M403.1 99.3h0M411.3 108.2h0M407.5 116.9h0M396.3 152.1h0M394.2 140.2h0M418.1 89.7h0M412.4 132.4h0M390.2 150.4h0M410.4 85.4h0M374.3 194.0h0M394.6 153.3h0M389.9 144.1h0M420.7 119.9h0M391.6 144.6h0M389.9 152.7h0M390.4 157.6h0M415.0 88.1h0M408.8 78.1h0M382.4 179.9h0M411.4 97.9h0M387.9 148.0h0M411.6 92.7h0M390.1 165.0h0M403.7 108.7h0M403.9 88.5h0M406.5 83.9h0M418.8 89.9h0M395.3 160.5h0M408.2 104.7h0M392.8 154.3h0M408.0 114.4h0M408.0 98.8h0M411.0 104.0h0M388.4 147.9h0M394.2 140.8h0M389.1 171.8h0M404.2 86.1h0M410.4 79.9h0M407.8 122.0h0M389.7 137.5h0M448.7 128.7h0M410.1 89.8h0M422.6 131.5h0M388.4 145.7h0M414.0 108.6h0M393.8 147.8h0M388.0 145.7h0M420.6 87.5h0M392.7 143.8h0M390.4 139.6h0M380.8 182.3h0M402.3 138.4h0M419.5 82.7h0M394.5 143.0h0M407.6 98.8h0M394.7 156.7h0M423.5 81.2h0M389.1 143.2h0M390.8 162.8h0M403.7 122.3h0M408.3 127.7h0M411.3 116.2h0M404.7 85.1h0M416.3 92.9h0M418.5 95.3h0M418.2 83.1h0M420.6 120.2h0M407.2 95.7h0M407.1 83.8h0M387.8 148.0h0M422.0 83.1h0M409.0 82.3h0M409.5 118.5h0M420.2 82.8h0M424.4 90.0h0M424.9 127.5h0M420.8 95.4h0M415.7 87.5h0M425.6 88.4h0M407.4 125.8h0M405.4 95.4h0M417.9 80.4h0M389.3 146.1h0M386.2 175.0h0M411.4 112.1h0M393.3 145.5h0M390.5 135.7h0M469.5 105.3h0M419.9 87.5h0M395.6 146.9h0M395.5 137.1h0M379.5 185.8h0M393.8 136.5h0M420.6 92.6h0M403.3 127.5h0M431.6 114.0h0M388.0 142.4h0M404.0 126.4h0M391.6 169.6h0M408.4 92.1h0"/><path stroke="#9cffc5" d="M405.3 78.8h0M404.9 88.2h0M409.4 101.3h0M411.4 91.5h0M412.9 83.0h0M413.2 80.2h0M409.7 89.9h0M413.6 95.5h0M417.9 94.6h0M413.8 88.5h0M414.8 95.6h0M419.2 96.2h0M413.5 88.6h0M389.6 172.4h0M413.3 101.5h0M416.3 86.8h0M402.8 96.4h0M419.2 90.7h0M408.9 119.8h0M423.9 90.2h0M409.3 99.4h0M405.4 79.4h0M410.0 82.8h0M402.9 97.9h0M407.2 79.3h0M407.7 133.1h0M422.2 87.1h0M411.9 79.9h0M407.2 78.4h0M405.1 98.0h0M405.5 86.2h0M407.9 82.4h0M389.4 136.7h0M424.5 88.1h0M389.3 136.6h0M390.4 157.3h0M410.9 87.8h0M406.7 97.7h0M415.5 123.0h0M422.4 84.8h0M405.8 119.3h0M392.1 162.7h0M430.4 108.0h0M424.1 82.5h0M409.8 89.1h0"/><path stroke="#a2ffbc" d="M420.7 94.9h0M415.7 80.7h0M406.3 86.1h0M445.1 116.5h0M416.1 94.5h0M450.6 101.3h0M427.4 96.4h0M430.4 95.1h0M408.3 85.7h0M388.2 144.9h0M418.8 90.0h0M416.2 93.1h0M426.3 70.0h0M420.2 85.0h0M409.6 79.0h0M443.2 103.7h0M422.2 83.3h0M415.9 98.0h0M421.1 82.9h0M424.4 88.7h0M389.5 160.3h0M407.7 83.1h0M440.8 103.7h0M429.8 101.9h0M407.8 85.6h0M425.0 127.2h0M388.7 145.8h0M424.3 97.0h0"/><path stroke="#a9ffb3" d="M405.2 96.6h0M409.3 92.9h0M413.9 98.5h0M407.8 84.9h0M423.7 82.9h0"/><path stroke="#affeaa" d="M421.4 76.8h0M413.2 97.2h0M430.4 94.0h0M454.8 97.6h0M431.0 90.3h0M437.7 93.3h0M440.4 91.5h0M417.0 77.4h0M401.2 127.2h0M435.3 88.4h0M430.4 81.1h0M426.7 78.0h0M419.5 73.7h0M380.7 170.5h0M401.1 127.5h0M423.1 80.5h0M413.9 130.6h0M411.4 71.3h0M328.0 307.5h0M420.7 84.7h0M430.4 75.0h0M421.3 76.2h0M442.0 83.0h0M417.1 78.0h0M435.3 84.2h0M330.5 301.5h0M383.5 171.5h0"/><path stroke="#b5fda1" d="M429.3 72.5h0M443.3 60.0h0M421.1 62.1h0M433.0 65.8h0M429.9 67.0h0M440.3 73.7h0M440.8 95.1h0M437.2 68.8h0M441.5 78.0h0M446.4 76.4h0M454.8 87.8h0M415.3 68.2h0M439.0 75.6h0M439.1 66.4h0M457.3 87.8h0M432.4 71.3h0"/><path stroke="#bbfc98" d="M446.9 82.3h0M457.5 98.0h0M442.0 76.8h0M455.0 75.6h0M447.5 89.0h0M471.3 93.3h0M409.0 75.6h0M452.4 89.0h0M446.3 92.7h0M446.3 76.8h0"/><path stroke="#c2f690" d="M430.5 62.1h0M409.2 75.2h0M440.9 65.2h0M424.4 73.7h0M411.8 65.2h0M443.0 63.0h0"/><path stroke="#c9ef89" d="M447.4 68.6h0"/><path stroke="#d0e882" d="M450.7 65.0h0M461.0 68.2h0M462.3 68.0h0M453.4 68.8h0"/><path stroke="#d6db79" d="M456.8 79.2h0M474.1 87.2h0M453.1 71.3h0"/><path stroke="#dcce70" d="M466.0 52.4h0M454.7 62.7h0"/><path stroke="#e2c068" d="M478.8 67.6h0M449.1 55.2h0M457.3 79.3h0"/><path stroke="#e6b05f" d="M462.3 60.3h0M467.2 71.9h0M464.7 71.9h0"/><path stroke="#eba156" d="M445.4 63.7h0"/><path stroke="#ef924e" d="M454.3 56.3h0M469.0 62.5h0M470.6 65.8h0M416.9 66.0h0"/><path stroke="#f08848" d="M477.2 51.1h0M478.8 55.4h0M457.8 58.5h0M465.6 49.9h0"/><path stroke="#f27d42" d="M476.9 34.0h0M478.1 35.3h0M471.1 33.7h0"/><path stroke="#f4723c" d="M488.9 52.1h0M496.0 37.5h0"/><path stroke="#f66434" d="M460.7 32.8h0"/><path stroke="#f8562c" d="M459.0 43.0h0M493.6 50.3h0M491.7 38.1h0"/><path stroke="#fa4824" d="M499.9 38.1h0"/><path stroke="#fc3a1c" d="M475.7 40.8h0M478.2 59.1h0M503.8 25.3h0M504.8 38.3h0M502.4 49.1h0"/><path stroke="#fe2b14" d="M506.4 48.5h0"/><path stroke="#ff1f0e" d="M531.3 20.7h0M463.7 41.4h0"/></g>
<path d="M101.7 413.9V2.3M202.9 413.9V2.3M304.1 413.9V2.3M405.3 413.9V2.3M506.5 413.9V2.3M101.7 351.8H547.0M101.7 258.3H547.0M101.7 164.7H547.0M101.7 71.2H547.0" stroke="#b0b0b0" stroke-opacity="0.7" stroke-width="1.2" stroke-dasharray="3 2" fill="none"/>
<path d="M101.7 413.9v4.6M202.9 413.9v4.6M304.1 413.9v4.6M405.3 413.9v4.6M506.5 413.9v4.6M101.7 351.8h-4.6M101.7 258.3h-4.6M101.7 164.7h-4.6M101.7 71.2h-4.6" stroke="#000" stroke-width="1.2" fill="none"/>
<rect x="101.7" y="2.3" width="445.3" height="411.6" fill="none" stroke="#000" stroke-width="1.2"/>
<text x="101.7" y="441.9" font-size="29.6" text-anchor="middle">−50</text>
<text x="202.9" y="441.9" font-size="29.6" text-anchor="middle">−25</text>
<text x="304.1" y="441.9" font-size="29.6" text-anchor="middle">0</text>
<text x="405.3" y="441.9" font-size="29.6" text-anchor="middle">25</text>
<text x="506.5" y="441.9" font-size="29.6" text-anchor="middle">50</text>
<text x="92.7" y="361.7" font-size="29.6" text-anchor="end">0.00</text>
<text x="92.7" y="268.2" font-size="29.6" text-anchor="end">0.01</text>
<text x="92.7" y="174.6" font-size="29.6" text-anchor="end">0.02</text>
<text x="92.7" y="81.1" font-size="29.6" text-anchor="end">0.03</text>
<text x="325.9" y="481" font-size="41.4" text-anchor="middle">VSP(kW/t)</text>
<text transform="translate(30.3 211.5) rotate(-90)" font-size="41.4" text-anchor="middle">Contribution</text>
<text x="106.7" y="37.8" font-size="41.4">a)</text>
<rect x="574.3" y="2.3" width="27.9" height="411.6" fill="url(#rb)" stroke="#000" stroke-width="1.0"/>
<text x="610.2" y="411.2" font-size="23.7">0.00</text>
<text x="610.2" y="359.2" font-size="23.7">0.01</text>
<text x="610.2" y="307.3" font-size="23.7">0.02</text>
<text x="610.2" y="255.3" font-size="23.7">0.03</text>
<text x="610.2" y="203.3" font-size="23.7">0.04</text>
<text x="610.2" y="151.3" font-size="23.7">0.05</text>
<text x="610.2" y="99.4" font-size="23.7">0.06</text>
<text x="610.2" y="47.4" font-size="23.7">0.07</text>
<path d="M602.2 403.2h4.6M602.2 351.2h4.6M602.2 299.3h4.6M602.2 247.3h4.6M602.2 195.3h4.6M602.2 143.3h4.6M602.2 91.4h4.6M602.2 39.4h4.6" stroke="#000" stroke-width="1.2" fill="none"/>
<g fill="none" stroke-width="3.50" stroke-linecap="round"><path stroke="#7c0eff" d="M857.3 382.4h0M862.5 378.1h0M833.2 383.1h0"/><path stroke="#731dff" d="M894.8 389.6h0M851.8 387.5h0M879.5 386.7h0M889.1 391.3h0M913.5 366.7h0M830.7 388.1h0"/><path stroke="#682dff" d="M886.6 376.1h0M906.6 365.3h0M892.6 390.0h0M891.6 386.0h0M883.9 384.3h0M895.6 371.9h0M895.1 381.5h0M862.8 384.6h0M890.1 387.8h0M893.7 382.3h0M880.7 386.0h0"/><path stroke="#5d3dff" d="M889.4 386.5h0M892.2 391.4h0M880.2 379.3h0M905.9 371.1h0M880.7 385.4h0M878.7 389.1h0M898.1 384.1h0M901.6 367.6h0M895.0 385.8h0M872.4 387.8h0M877.3 390.7h0M838.9 380.9h0M875.3 389.4h0M879.9 388.6h0M878.7 387.7h0M907.3 375.5h0M900.1 380.9h0M889.1 386.1h0M878.1 388.6h0M891.3 389.4h0M887.7 383.2h0M883.5 385.5h0"/><path stroke="#5751ff" d="M890.0 375.1h0M879.2 391.6h0M844.2 382.5h0M886.1 389.9h0M893.8 378.4h0M898.8 384.5h0M857.5 379.5h0M881.7 384.6h0M890.9 381.7h0M880.7 383.3h0M904.6 375.3h0M877.7 388.3h0M888.2 386.0h0M904.7 378.2h0M908.3 365.4h0M882.5 387.5h0M903.8 372.6h0M887.7 388.6h0M906.0 369.6h0M887.7 385.1h0M900.8 368.7h0M910.0 368.9h0M899.8 373.1h0M847.1 377.1h0M917.3 363.8h0M907.6 372.0h0M893.2 385.5h0M851.6 393.8h0M906.0 372.1h0M884.3 372.8h0M894.4 382.5h0M880.8 390.3h0M895.4 389.4h0M881.3 389.7h0M905.2 373.7h0M871.6 386.8h0M885.1 388.3h0M924.0 351.1h0M915.8 362.7h0M883.7 385.9h0M798.1 363.8h0M862.5 367.1h0M888.9 377.0h0M885.5 391.3h0M888.3 381.6h0M912.4 370.3h0"/><path stroke="#5367ff" d="M870.0 372.2h0M886.3 377.6h0M884.2 382.2h0M909.4 359.3h0M886.9 376.3h0M907.8 370.7h0M874.9 388.8h0M919.1 363.1h0M884.3 391.4h0M915.6 358.3h0M911.2 369.5h0M904.6 366.3h0M892.1 377.0h0M882.7 374.7h0M891.4 388.8h0M895.4 384.6h0M904.7 378.0h0M899.2 376.2h0M893.5 364.7h0M914.3 361.8h0M905.2 362.8h0M881.1 380.8h0M905.0 358.6h0M884.9 374.4h0M812.8 370.2h0M923.1 351.6h0M868.5 385.5h0M901.6 376.1h0M899.5 382.4h0M879.7 372.9h0M876.1 388.9h0M918.5 363.6h0M906.1 375.5h0M909.0 367.8h0M917.8 352.4h0M905.1 371.1h0M892.3 363.1h0M882.0 387.3h0M871.7 387.0h0M903.4 361.0h0M897.6 367.2h0M857.0 392.3h0M906.7 375.9h0M915.1 354.3h0M848.9 383.5h0M889.6 382.3h0M906.7 366.8h0M905.9 376.7h0M920.0 360.2h0M897.6 369.5h0M892.3 389.2h0M899.5 382.2h0M914.6 366.0h0M880.8 382.6h0M905.2 377.5h0M918.6 363.4h0M901.1 381.6h0M920.8 355.2h0M922.8 353.7h0M905.8 365.4h0M917.6 352.0h0M896.6 381.4h0M895.3 383.6h0M885.0 376.1h0M896.4 366.7h0M901.2 381.0h0M915.0 364.5h0M891.8 359.2h0M890.2 379.8h0M913.9 367.8h0M895.3 369.0h0M885.0 378.5h0M890.2 377.8h0M905.5 375.8h0M891.7 391.4h0M915.1 364.9h0M893.7 389.8h0M920.6 354.9h0M892.2 381.6h0M907.4 375.2h0M902.7 377.8h0M889.3 379.8h0"/><path stroke="#4f7cff" d="M876.3 385.0h0M906.9 364.3h0M908.7 359.1h0M920.6 355.3h0M858.5 375.6h0M915.3 352.0h0M902.7 374.1h0M910.6 367.4h0M886.3 374.2h0M901.2 381.0h0M877.4 369.6h0M904.6 358.4h0M922.4 351.4h0M910.9 368.5h0M894.1 378.3h0M881.8 379.6h0M870.7 382.9h0M919.0 356.4h0M899.4 384.3h0M904.0 371.4h0M894.5 381.9h0M911.1 356.4h0M900.9 376.0h0M896.2 382.4h0M904.3 368.7h0M892.6 390.4h0M905.0 349.8h0M877.8 374.1h0M916.3 365.9h0M915.8 353.2h0M877.4 383.8h0M868.3 378.6h0M889.1 381.6h0M875.7 377.6h0M886.2 370.0h0M925.8 351.9h0M904.7 359.3h0M916.3 359.2h0M881.4 373.7h0M924.8 356.4h0M896.0 386.9h0M896.6 382.5h0M902.2 367.1h0M914.9 367.1h0M901.5 372.7h0M910.3 364.6h0M894.2 383.0h0M903.5 373.1h0M923.8 348.6h0M891.0 371.9h0M876.0 388.3h0M884.8 370.8h0M891.4 381.0h0M930.5 342.0h0M870.7 373.3h0M886.7 375.7h0M888.5 381.8h0M899.5 372.4h0M901.6 364.1h0M906.5 360.0h0M895.8 375.5h0M911.3 364.0h0M899.6 353.0h0M868.3 377.7h0M895.1 357.3h0M909.6 366.1h0M910.1 358.7h0M903.0 358.2h0M903.9 362.6h0M870.1 384.9h0M891.8 370.4h0M903.0 363.5h0M909.0 362.5h0M904.7 375.1h0M884.9 380.6h0M903.3 357.3h0M921.0 360.8h0M884.3 373.5h0M884.9 380.2h0M887.2 354.7h0M923.9 347.9h0M911.0 353.2h0M908.5 372.9h0M908.4 368.1h0M887.7 372.6h0M866.9 377.9h0M875.4 386.2h0M895.3 375.6h0M902.1 371.5h0M923.7 348.5h0"/><path stroke="#4f8cfd" d="M881.7 390.5h0M914.0 345.6h0M884.1 374.5h0M911.0 360.2h0M901.6 373.7h0M902.3 368.1h0M875.0 375.6h0M870.9 374.4h0M881.4 385.0h0M896.2 375.8h0M912.3 348.9h0M897.5 367.7h0M927.9 344.3h0M895.2 372.3h0M923.0 343.0h0M899.2 364.2h0M873.7 371.8h0M903.9 360.1h0M889.5 356.0h0M910.0 369.8h0M883.8 361.0h0M903.1 370.1h0M879.3 365.6h0M868.5 369.9h0M909.2 359.1h0M910.3 369.8h0M904.5 365.1h0M906.7 355.4h0M905.3 353.9h0M915.1 363.0h0M859.2 371.4h0M920.1 358.9h0M902.3 354.5h0M887.5 379.3h0M924.6 349.2h0M886.4 375.9h0M913.9 368.1h0M878.0 363.5h0M889.1 375.4h0M885.5 378.8h0M910.3 357.4h0M894.3 372.0h0M929.5 340.4h0M889.9 362.1h0M896.8 380.6h0M922.7 349.5h0M919.6 341.1h0M895.5 374.2h0M911.6 360.2h0M874.3 388.0h0M904.6 365.0h0M910.6 356.3h0M899.0 354.7h0M899.3 379.0h0M898.2 350.7h0M889.2 371.9h0M912.1 354.1h0M876.4 373.5h0M908.1 369.2h0M909.9 349.8h0M915.0 346.3h0M917.3 350.3h0M868.6 373.7h0M897.0 370.1h0M883.9 390.0h0M892.5 391.7h0M872.6 365.8h0M903.9 375.0h0M893.1 368.6h0M898.1 375.7h0M914.6 362.8h0M888.9 374.4h0M899.6 362.2h0M897.6 368.0h0M916.7 346.2h0M890.7 362.7h0M909.3 358.1h0M893.7 378.9h0M880.0 375.3h0M887.8 366.3h0M877.1 384.6h0M889.2 382.1h0M898.5 354.4h0M924.4 347.0h0M875.6 380.2h0M909.1 351.7h0M870.5 386.7h0M901.2 355.3h0M900.8 369.6h0M884.9 383.4h0M886.2 357.6h0M911.8 364.8h0M908.2 360.0h0M887.7 374.5h0M900.6 355.3h0M868.8 372.9h0M915.3 363.3h0M905.1 377.0h0M891.9 378.7h0M920.6 361.1h0M911.5 357.4h0M892.1 376.6h0M922.6 350.4h0M911.7 347.0h0M897.2 368.3h0M891.4 374.2h0M925.9 338.5h0M886.5 380.3h0M901.5 360.9h0M913.8 353.2h0M927.2 350.4h0M881.5 370.5h0M900.6 368.1h0M910.0 364.5h0M876.5 383.6h0M918.8 359.9h0M923.0 355.5h0M892.2 371.5h0M918.8 353.1h0M907.1 358.7h0M903.5 364.1h0M900.1 380.2h0"/><path stroke="#5299fa" d="M885.4 364.5h0M906.1 350.9h0M906.9 361.5h0M918.0 350.7h0M917.5 349.6h0M891.6 369.6h0M886.7 364.6h0M928.1 338.2h0M909.8 356.8h0M919.4 355.9h0M852.3 348.0h0M893.3 349.5h0M922.6 354.0h0M885.7 377.8h0M901.5 360.4h0M927.7 347.7h0M879.5 358.5h0M924.8 335.8h0M929.5 335.2h0M916.2 354.2h0M893.0 362.3h0M888.7 361.9h0M919.1 350.9h0M887.3 357.5h0M885.6 373.5h0M926.3 336.2h0M894.4 387.9h0M926.4 345.5h0M904.5 378.5h0M875.5 376.4h0M874.1 384.1h0M920.4 343.7h0M909.5 358.7h0M907.0 352.9h0M894.8 363.9h0M920.8 359.7h0M889.0 356.0h0M865.4 378.1h0M913.4 363.2h0M866.9 372.4h0M917.3 354.1h0M918.9 345.3h0M907.4 366.5h0M904.7 347.1h0M891.8 357.2h0M879.0 369.7h0M905.4 344.5h0M888.7 371.3h0M912.1 343.9h0M918.8 338.6h0M906.8 359.4h0M920.3 336.3h0M922.0 351.0h0M853.8 371.7h0M858.7 369.7h0M890.6 359.0h0M913.1 357.7h0M876.0 370.2h0M896.4 357.4h0M873.4 371.2h0M921.0 347.3h0M907.6 358.0h0M903.3 357.0h0M896.5 369.9h0M900.5 374.3h0M893.6 357.7h0M916.4 357.0h0M901.1 373.6h0M892.5 364.5h0M889.5 362.0h0M910.2 346.3h0M901.4 371.9h0M894.9 357.5h0M894.7 355.7h0M904.0 356.3h0M883.0 358.4h0M930.0 340.6h0M890.0 348.1h0M914.6 342.7h0M889.2 373.4h0M882.4 377.3h0M925.5 352.7h0M898.2 366.5h0M908.1 353.3h0M893.2 377.8h0M914.9 350.0h0M906.5 349.3h0M914.5 348.4h0M909.5 361.2h0M852.2 355.2h0M898.8 370.8h0M939.9 323.4h0M878.5 360.8h0M872.9 357.6h0M929.3 341.4h0M905.3 359.7h0M914.9 351.2h0M910.3 351.9h0M903.5 369.3h0M891.3 356.0h0M903.4 347.2h0M885.5 370.2h0M903.4 361.5h0M926.9 349.4h0M934.1 333.6h0M873.9 377.8h0M924.1 346.6h0M939.1 324.0h0M891.1 362.1h0M860.6 366.1h0M930.0 331.4h0M865.0 378.1h0M912.9 347.1h0M876.7 349.9h0M887.6 374.6h0M922.3 342.5h0M910.4 350.3h0M909.9 354.7h0M877.7 370.1h0M915.2 356.2h0M926.6 341.4h0M912.7 356.7h0M926.4 344.8h0M918.2 354.1h0M914.7 354.3h0M928.6 345.5h0M877.4 369.8h0M870.4 377.6h0M871.5 377.9h0M906.0 358.9h0M921.2 346.0h0M889.7 361.2h0M893.2 379.2h0M888.8 367.4h0M929.1 341.1h0M918.5 356.1h0M907.7 348.2h0M923.0 345.8h0M911.2 365.3h0M890.3 352.6h0M925.9 350.7h0M881.8 365.2h0M898.1 347.6h0M870.9 354.2h0M908.0 351.1h0M864.6 374.8h0M883.2 371.7h0"/><path stroke="#54a6f6" d="M928.6 323.2h0M904.0 365.5h0M885.9 375.0h0M892.0 352.1h0M894.5 346.8h0M875.1 371.4h0M914.8 363.4h0M891.1 352.1h0M915.5 349.5h0M883.0 357.9h0M921.9 332.0h0M893.6 363.5h0M897.7 345.7h0M913.6 342.8h0M911.9 347.2h0M865.5 353.2h0M883.9 355.6h0M934.3 324.3h0M892.2 359.0h0M920.5 349.2h0M887.1 359.7h0M926.7 330.3h0M869.2 374.0h0M897.6 346.3h0M886.2 350.7h0M893.1 350.0h0M884.8 360.2h0M901.2 348.7h0M872.1 371.1h0M868.6 379.1h0M882.6 376.6h0M897.2 371.8h0M920.1 346.4h0M883.2 364.1h0M921.8 340.3h0M854.2 362.1h0M847.8 362.1h0M931.4 340.6h0M922.7 354.3h0M900.2 360.6h0M896.3 365.9h0M925.6 332.5h0M881.8 356.2h0M895.7 355.5h0M918.4 350.4h0M923.4 347.0h0M927.6 348.6h0M911.6 370.8h0M898.6 361.9h0M917.4 339.3h0M895.1 352.8h0M902.5 338.1h0M869.0 371.5h0M908.6 342.0h0M874.1 364.7h0M911.6 338.2h0M869.1 372.9h0M904.3 362.3h0M932.7 336.4h0M852.0 359.2h0M888.2 350.2h0M895.6 357.6h0M886.3 358.0h0M918.2 346.1h0M880.6 376.9h0M919.9 339.8h0M910.2 342.7h0M887.2 354.4h0M898.0 358.6h0M902.4 364.7h0M878.0 361.6h0M922.2 352.3h0M939.6 319.7h0M889.5 358.9h0M903.9 350.5h0M920.9 334.4h0M894.4 356.1h0M911.0 336.9h0M908.6 355.9h0M889.9 362.8h0M892.2 357.2h0M873.6 372.9h0M898.6 351.7h0M914.5 354.7h0M889.6 350.6h0M833.8 361.1h0M929.3 341.8h0M929.0 333.8h0M904.4 355.6h0M927.5 331.5h0M847.8 360.0h0M920.4 348.9h0M856.9 348.2h0M882.8 373.5h0M917.7 334.0h0M902.4 359.5h0M926.8 342.3h0M897.7 362.4h0M943.9 318.2h0M881.6 378.4h0M921.9 350.8h0M895.6 376.3h0M919.6 339.6h0M881.1 356.1h0M864.8 378.9h0M924.9 350.4h0M900.9 347.6h0M915.4 340.1h0M914.6 356.6h0M941.4 323.4h0M927.9 329.5h0M892.8 349.9h0M911.1 348.1h0M904.8 346.9h0M875.0 370.0h0M922.4 344.0h0M921.6 326.7h0M909.4 352.6h0M922.0 356.4h0M920.0 353.5h0M890.9 379.6h0M908.3 348.5h0M927.7 341.2h0M923.2 339.6h0M913.3 355.1h0M934.4 321.6h0M905.0 346.4h0M917.7 341.1h0M884.2 362.7h0M932.3 331.8h0M895.9 347.1h0M834.5 355.7h0M940.1 323.5h0M905.8 344.7h0M942.0 322.6h0M899.9 352.7h0M912.4 357.7h0"/><path stroke="#59b6f2" d="M906.4 341.5h0M906.4 347.2h0M880.6 380.8h0M908.8 339.0h0M911.7 349.3h0M909.8 349.4h0M924.3 343.1h0M922.2 338.2h0M908.8 354.5h0M854.3 345.5h0M918.3 333.5h0M907.9 341.5h0M925.6 344.9h0M865.3 379.4h0M877.9 340.9h0M943.8 313.3h0M927.2 335.6h0M900.3 361.1h0M877.2 376.0h0M922.9 344.2h0M887.3 375.1h0M917.9 345.9h0M912.4 338.6h0M893.9 348.2h0M916.5 346.1h0M923.9 320.7h0M887.6 350.0h0M930.5 341.3h0M937.4 324.0h0M896.4 361.5h0M931.6 318.3h0M926.4 350.9h0M914.2 338.5h0M931.1 331.5h0M881.2 357.1h0M920.0 337.9h0M896.7 346.8h0M880.9 357.6h0M912.5 334.7h0M927.4 323.5h0M915.7 338.9h0M926.0 337.9h0M906.5 343.1h0M885.6 353.5h0M913.8 347.7h0M883.3 367.5h0M904.8 352.0h0M930.9 336.2h0M905.9 348.1h0M913.2 351.4h0M940.5 324.2h0M888.5 352.1h0M917.1 343.3h0M929.0 335.9h0M916.0 346.8h0M919.2 344.2h0M898.6 364.7h0M884.5 354.7h0M940.4 324.0h0M876.5 366.6h0M882.6 360.3h0M929.5 326.4h0M891.5 355.4h0M905.8 354.0h0M927.4 340.2h0M924.8 335.9h0M904.7 341.8h0M918.3 344.1h0M886.9 352.7h0M923.4 357.2h0M877.8 366.0h0M884.9 358.8h0M898.1 356.9h0M927.8 333.7h0M899.4 341.3h0M936.6 316.0h0M923.3 336.1h0M929.9 326.3h0M922.1 339.6h0M935.0 324.3h0M915.1 338.9h0M932.3 338.1h0M883.6 355.6h0M923.7 334.1h0M926.4 332.9h0M896.4 353.0h0M935.3 328.7h0M907.2 349.8h0M948.5 312.7h0M912.4 333.0h0M912.6 324.9h0M930.3 324.7h0M900.7 339.0h0M900.3 350.0h0M912.7 352.0h0M911.3 367.5h0M871.2 369.2h0M883.9 352.0h0M932.6 331.9h0M918.5 341.5h0M892.1 351.7h0M894.4 345.7h0M916.3 342.5h0M923.5 339.0h0M936.4 315.5h0M901.0 341.3h0M926.0 337.7h0M862.4 349.4h0M915.4 337.8h0M935.6 325.2h0M877.8 358.3h0M923.6 330.5h0M928.5 343.4h0M908.8 338.6h0M917.3 330.7h0M931.7 339.6h0M912.7 347.9h0M928.0 327.3h0M918.3 341.7h0M944.7 311.0h0M921.0 337.4h0M921.6 336.8h0M903.3 350.7h0M929.9 343.9h0M924.2 337.5h0M906.4 349.5h0M912.4 325.6h0M901.5 346.4h0M916.1 328.9h0M866.6 382.0h0M909.4 333.8h0"/><path stroke="#5ec7ed" d="M862.1 349.7h0M926.2 338.1h0M918.4 337.5h0M918.4 327.2h0M927.0 328.9h0M928.8 326.2h0M943.4 317.8h0M921.8 339.1h0M914.2 332.5h0M930.6 333.3h0M886.4 357.6h0M917.6 330.6h0M919.6 331.3h0M919.8 334.4h0M900.8 344.3h0M925.1 342.6h0M922.0 333.3h0M918.8 340.6h0M921.6 342.2h0M940.3 314.2h0M898.9 340.8h0M905.7 345.4h0M919.8 337.8h0M913.1 332.5h0M938.8 321.0h0M897.0 351.2h0M902.7 347.4h0M888.2 334.1h0M899.7 340.0h0M895.0 347.0h0M942.4 320.7h0M954.5 307.3h0M921.3 320.2h0M932.7 335.8h0M918.4 342.7h0M961.6 293.2h0M853.7 350.2h0M853.8 351.4h0M939.1 321.1h0M940.2 313.1h0M918.5 333.3h0M913.7 351.2h0M942.9 316.7h0M890.5 353.9h0M921.1 327.6h0M931.4 319.6h0M890.5 347.6h0M906.8 335.9h0M924.7 333.1h0M864.0 344.3h0M928.0 330.4h0M944.1 319.1h0M868.9 372.4h0M903.3 346.7h0M902.1 351.7h0M888.4 350.0h0M925.2 332.7h0M902.1 344.3h0M936.0 331.6h0M906.4 343.3h0M922.7 322.4h0M914.1 346.1h0M921.3 328.8h0M928.4 331.0h0M934.4 334.4h0M933.7 327.0h0M924.0 341.4h0M927.0 337.3h0M879.2 372.1h0M897.9 351.7h0M938.0 325.1h0M934.9 319.5h0M900.8 337.9h0M953.3 307.5h0M923.6 332.6h0M907.8 333.8h0M928.9 328.4h0M921.9 341.4h0M962.2 289.5h0M912.0 342.2h0M902.0 354.2h0M859.6 348.3h0M945.1 315.1h0M912.5 346.6h0M905.2 344.1h0M932.1 327.9h0M937.5 322.7h0M919.6 333.5h0M913.7 341.7h0M893.6 356.6h0M953.3 306.1h0M887.1 354.0h0M918.0 328.4h0M915.4 341.3h0M903.4 336.3h0M941.5 323.7h0M891.2 354.1h0M931.1 317.0h0M895.5 346.7h0M918.1 349.4h0M893.6 348.0h0M911.2 338.8h0M920.7 341.6h0M916.8 342.9h0M921.0 337.8h0M948.3 311.0h0M928.5 344.0h0M917.3 336.5h0M929.8 313.6h0M927.4 327.4h0M939.3 315.6h0M916.8 325.2h0M889.0 337.2h0M910.4 334.3h0M937.7 318.7h0M884.5 357.9h0M901.7 353.2h0M913.5 348.0h0M892.1 347.2h0M919.9 340.5h0M885.2 352.8h0M921.3 331.5h0M924.8 325.9h0M920.4 333.6h0M906.0 342.4h0M901.8 344.0h0M936.3 321.5h0M906.2 333.1h0M933.9 329.3h0M875.1 343.3h0M954.8 295.9h0M866.3 374.2h0M910.2 353.4h0M904.2 342.2h0M952.1 309.7h0"/><path stroke="#63d9e9" d="M944.2 308.2h0M953.1 299.1h0M881.5 345.8h0M906.7 336.5h0M944.2 317.7h0M925.2 328.6h0M925.9 323.9h0M929.1 326.8h0M909.1 342.5h0M917.9 333.2h0M913.9 330.4h0M936.2 324.0h0M931.0 323.4h0M929.7 315.0h0M899.2 339.5h0M921.2 329.4h0M931.1 325.9h0M918.1 333.1h0M908.0 334.7h0M925.6 325.2h0M946.3 296.6h0M948.6 310.8h0M916.9 335.6h0M909.7 336.4h0M942.2 307.7h0M952.2 307.8h0M920.9 328.4h0M908.5 332.7h0M864.6 343.6h0M952.3 309.8h0M905.3 331.9h0M908.6 333.9h0M935.1 333.5h0M954.0 307.4h0M939.3 317.6h0M952.5 307.1h0M943.0 314.5h0M923.6 333.7h0M955.4 302.7h0M951.3 310.0h0M941.2 305.7h0M902.2 335.4h0M949.2 312.4h0M957.0 306.0h0M949.5 308.0h0M923.6 319.1h0M919.1 335.0h0M943.8 308.5h0M932.9 308.8h0M936.3 316.8h0M938.0 319.9h0M936.0 313.9h0M925.8 325.3h0M863.9 348.2h0M911.5 337.7h0M947.3 309.7h0M935.7 327.5h0M940.7 306.8h0M934.4 327.1h0M903.3 334.7h0M940.6 317.3h0M911.8 344.4h0M927.9 325.8h0M940.3 319.3h0M897.7 344.1h0M926.0 333.1h0M945.8 315.6h0M925.4 328.5h0M921.3 333.6h0M918.5 326.9h0M929.7 322.4h0M950.0 294.0h0M912.5 338.9h0M927.0 324.1h0M942.8 317.6h0M928.9 331.2h0M937.5 325.0h0M955.1 298.2h0M907.5 333.0h0M911.1 338.2h0M892.9 350.5h0M865.2 339.2h0M931.1 320.4h0M909.1 332.1h0M922.0 337.2h0M897.6 334.4h0M958.7 299.6h0M957.6 302.6h0M940.2 318.9h0M916.8 338.4h0M929.4 332.3h0M949.4 305.0h0M956.9 301.8h0M944.9 318.6h0M909.0 338.5h0M953.7 294.6h0M878.0 352.0h0M909.8 341.9h0M923.7 330.9h0M933.6 307.3h0M900.5 341.7h0M927.9 321.1h0M936.8 323.4h0M912.3 342.2h0M947.2 314.3h0M880.8 364.0h0M959.8 295.9h0M917.6 340.1h0M956.4 298.9h0M915.9 329.2h0M909.1 328.0h0M918.8 338.8h0M913.7 334.0h0M934.8 326.1h0M935.9 315.2h0M922.0 331.4h0M954.8 304.4h0M909.0 338.3h0M937.6 327.2h0M928.1 336.4h0M940.8 323.6h0M938.1 318.9h0M924.4 324.1h0M928.0 329.9h0M912.8 342.2h0M914.9 335.2h0M907.3 337.6h0M941.3 315.6h0M905.1 346.2h0M919.0 318.5h0M902.0 339.6h0M889.8 363.7h0M925.0 330.5h0M926.4 318.8h0M937.5 325.1h0M928.6 331.1h0M928.4 319.8h0M942.7 311.1h0M932.8 328.7h0M947.9 309.4h0M936.3 316.9h0"/><path stroke="#6be6e7" d="M952.2 287.4h0M942.5 312.2h0M923.5 316.1h0M941.6 315.2h0M931.2 321.3h0M891.6 348.7h0M927.4 325.0h0M899.9 338.7h0M918.3 320.6h0M910.2 331.6h0M949.4 295.9h0M868.0 345.0h0M912.8 330.8h0M905.6 331.9h0M955.4 294.6h0M918.0 329.9h0M911.7 330.9h0M899.6 343.8h0M909.1 340.2h0M957.5 297.5h0M1059.2 179.4h0M971.5 273.8h0M956.7 286.2h0M940.8 318.5h0M946.5 305.0h0M937.9 315.6h0M964.0 286.3h0M918.6 318.3h0M921.6 328.6h0M939.5 319.7h0M965.2 283.5h0M922.7 331.5h0M928.4 329.7h0M949.8 305.0h0M876.0 348.0h0M963.3 288.5h0M932.5 326.6h0M937.9 320.2h0M867.9 342.6h0M960.0 285.2h0M948.5 299.2h0M925.5 333.6h0M927.3 317.3h0M920.6 315.6h0M914.5 321.0h0M931.3 317.7h0M977.1 270.7h0M912.0 330.3h0M878.9 339.9h0M957.6 283.0h0M963.7 288.9h0M955.7 292.2h0M958.4 298.3h0M930.0 333.0h0M921.7 314.7h0M947.4 307.7h0M961.1 278.0h0M920.6 320.2h0M962.4 288.8h0M954.6 305.1h0M965.2 283.6h0M941.1 314.1h0M850.9 357.1h0M934.0 324.8h0M954.2 296.1h0M919.4 326.8h0M925.1 315.9h0M980.7 266.6h0M922.2 323.2h0M909.8 337.9h0M921.1 332.6h0M913.7 326.9h0M903.5 334.8h0M907.4 342.0h0M892.3 352.2h0M947.7 313.5h0M914.2 320.1h0M930.4 332.0h0M905.8 334.9h0M930.0 310.4h0M910.5 332.7h0M934.7 312.3h0M950.0 300.1h0M937.3 307.2h0M939.2 308.1h0M915.2 326.2h0M902.8 334.5h0M909.3 337.0h0M934.4 323.7h0M929.0 312.9h0M907.8 341.2h0M949.8 300.4h0M881.0 353.0h0M911.9 330.7h0M916.9 330.1h0M942.0 306.9h0M948.4 307.9h0M919.8 331.1h0M902.2 339.3h0M957.8 298.3h0M900.7 349.3h0M914.6 327.2h0M940.9 316.0h0M914.2 330.0h0M958.5 290.2h0M883.6 331.1h0M947.7 305.4h0M913.3 323.1h0M927.1 311.0h0M953.1 289.2h0M910.2 327.4h0M952.0 300.1h0M936.2 317.6h0M930.5 309.4h0M930.8 314.9h0M922.7 333.2h0M944.2 304.2h0M962.7 288.3h0M974.8 271.8h0M917.9 323.1h0M927.5 326.0h0M909.8 326.9h0M911.5 330.3h0M958.5 293.4h0M957.6 296.6h0M915.0 331.7h0M901.8 339.0h0M953.6 294.0h0M934.6 305.1h0M917.8 328.6h0M935.9 310.6h0M945.7 316.0h0M929.5 312.4h0M922.8 314.9h0M937.4 322.4h0M949.3 310.3h0M951.8 306.4h0M953.6 305.0h0M958.1 303.6h0M930.5 319.9h0M951.2 303.1h0M928.3 319.2h0M928.7 311.5h0M949.7 303.9h0M935.9 315.1h0M921.1 318.3h0M923.9 329.2h0M956.4 306.5h0M938.0 318.2h0M932.3 311.6h0M966.1 284.8h0M921.8 313.5h0"/><path stroke="#72f2e7" d="M936.3 309.1h0M946.9 310.4h0M948.9 300.9h0M939.0 307.0h0M954.0 296.0h0M973.9 272.3h0M938.3 310.5h0M959.3 286.2h0M953.9 285.2h0M938.0 307.8h0M958.6 299.1h0M955.8 303.7h0M957.8 295.9h0M962.5 284.7h0M913.8 324.5h0M937.8 320.8h0M919.9 331.7h0M921.8 319.7h0M919.7 322.9h0M950.7 310.2h0M914.0 327.4h0M947.1 302.1h0M937.6 313.0h0M942.4 318.1h0M929.1 318.0h0M919.9 321.1h0M955.8 297.8h0M919.4 326.3h0M922.2 312.9h0M920.4 317.0h0M922.2 315.6h0M946.9 310.1h0M956.9 292.6h0M933.5 321.4h0M969.0 281.4h0M933.7 307.3h0M959.2 283.5h0M922.6 326.0h0M958.1 284.4h0M939.0 310.5h0M941.1 309.8h0M896.9 325.6h0M914.5 327.5h0M955.9 295.7h0M913.9 321.0h0M931.2 325.5h0M957.9 298.9h0M934.8 307.4h0M951.3 305.8h0M951.8 310.6h0M938.9 300.8h0M939.6 323.0h0M968.2 281.6h0M927.4 310.5h0M956.0 295.8h0M936.3 316.7h0M952.1 292.5h0M970.4 278.3h0M916.1 321.6h0M913.9 324.3h0M931.5 311.5h0M862.5 342.2h0M945.7 296.8h0M915.3 318.9h0M914.6 320.7h0M924.7 321.5h0M931.4 321.5h0M959.0 280.2h0M958.1 292.6h0M943.9 313.1h0M941.9 310.3h0M896.3 321.8h0M943.8 300.0h0M919.8 325.8h0M921.4 315.9h0M959.1 290.1h0M930.9 313.0h0M931.1 308.6h0M976.2 270.8h0M899.6 338.5h0M960.9 291.9h0M951.5 289.2h0M922.8 320.6h0M941.6 307.7h0M927.3 317.5h0M940.7 308.0h0M923.3 311.5h0M952.0 293.1h0M944.4 305.8h0M923.2 329.1h0M955.3 298.6h0M967.3 282.5h0M932.2 313.7h0M938.6 308.2h0M966.9 279.2h0M928.2 315.1h0M907.1 331.1h0M963.9 286.4h0M959.1 289.4h0M961.2 284.9h0M940.2 315.4h0M963.3 287.9h0M910.5 328.6h0M988.1 260.0h0M973.2 272.5h0M955.9 292.4h0M936.1 302.4h0M960.3 291.7h0M962.4 287.3h0M924.1 312.1h0M901.3 336.4h0M1001.2 236.8h0M896.7 345.3h0M932.6 312.3h0M936.4 306.2h0M928.3 309.8h0M932.5 316.4h0M912.1 326.7h0M965.6 280.1h0M964.2 284.9h0M919.6 324.1h0M932.7 314.8h0M934.1 310.3h0M888.7 340.7h0M923.4 318.9h0M946.8 306.5h0M931.4 307.9h0M939.7 313.3h0M933.8 308.2h0M973.9 275.4h0M923.4 329.2h0M964.1 283.7h0M987.7 254.3h0M964.2 286.4h0M964.6 279.6h0M954.2 297.6h0M911.4 323.5h0M910.6 326.4h0M909.2 327.7h0M904.7 334.5h0M943.8 305.8h0M949.3 305.3h0M941.1 298.7h0M945.0 301.5h0M942.7 307.2h0M951.2 307.5h0M921.6 316.6h0M959.9 280.6h0M932.0 322.4h0M975.4 273.8h0M937.3 315.0h0M921.6 317.4h0M965.9 277.7h0M945.6 312.4h0M956.3 296.3h0M969.0 279.3h0M959.1 302.4h0M977.8 264.9h0M959.5 285.9h0M956.3 300.6h0M955.4 299.0h0M923.9 333.5h0"/><path stroke="#7afde6" d="M925.8 319.6h0M944.1 299.3h0M929.5 308.0h0M905.4 336.1h0M941.0 303.3h0M943.9 301.8h0M911.6 324.9h0M919.0 323.7h0M975.3 275.0h0M912.1 328.0h0M967.8 279.8h0M977.5 272.1h0M910.0 316.2h0M923.3 317.4h0M943.8 301.3h0M837.1 377.5h0M977.6 266.3h0M958.6 285.4h0M976.1 270.3h0M932.1 317.7h0M915.4 318.9h0M955.4 304.1h0M925.5 315.1h0M942.9 301.3h0M964.5 283.5h0M960.8 282.4h0M917.9 308.3h0M966.2 276.1h0M956.8 293.4h0M961.7 279.2h0M884.5 342.8h0M962.7 278.3h0M957.1 287.6h0M956.5 290.0h0M946.2 301.8h0M941.6 305.7h0M945.5 300.6h0M903.2 334.7h0M956.5 287.5h0M933.7 307.9h0M933.0 304.7h0M957.5 289.0h0M950.0 305.9h0M972.1 275.8h0M975.7 268.0h0M968.0 280.3h0M992.7 254.5h0M962.8 288.1h0M912.7 326.5h0M979.6 268.5h0M909.7 310.7h0M956.1 301.2h0M970.4 270.4h0M937.1 302.8h0M920.5 314.9h0M971.9 278.5h0M938.6 303.4h0M918.7 320.1h0M936.3 310.1h0M918.8 319.1h0M939.6 303.1h0M960.8 280.3h0M916.7 320.4h0M947.5 305.6h0M940.5 307.0h0M966.3 272.5h0M976.3 264.4h0M973.5 267.8h0M955.9 288.4h0M986.6 260.1h0M945.7 311.9h0M928.4 312.1h0M958.9 291.3h0M980.4 263.8h0M944.1 305.8h0M961.5 284.5h0M953.7 308.5h0M909.7 329.2h0M941.8 307.9h0M951.4 290.2h0M822.5 346.5h0M943.0 302.2h0M975.4 272.7h0M889.0 340.0h0M928.4 317.7h0M922.9 318.0h0M963.2 283.4h0M956.6 302.7h0M968.4 276.5h0M945.6 309.1h0M957.8 291.4h0M927.3 314.5h0M909.8 332.2h0M926.3 311.7h0M931.3 326.7h0M956.0 286.2h0M950.2 298.7h0M905.1 332.8h0M944.1 297.4h0M955.8 296.9h0M932.9 314.9h0M866.5 354.3h0M934.4 319.4h0M994.6 252.2h0M949.7 301.0h0M930.3 312.4h0M925.4 316.4h0M957.6 284.2h0M926.3 310.6h0M949.8 299.2h0M945.4 300.1h0M918.3 324.9h0M942.4 299.5h0M957.7 285.7h0M941.7 304.8h0M931.8 309.9h0M911.0 337.7h0M967.2 273.0h0M933.0 321.3h0M977.2 269.5h0M935.6 313.8h0M958.0 304.8h0M961.0 278.7h0M954.8 300.9h0M954.4 293.3h0M945.4 309.1h0M897.5 336.3h0M947.8 297.7h0M935.7 309.0h0M871.4 347.7h0M953.7 299.7h0M952.9 298.8h0"/><path stroke="#7ffee4" d="M943.6 297.4h0M953.6 293.7h0M964.4 276.0h0M943.6 300.6h0M953.7 294.1h0M954.5 284.3h0M950.7 293.7h0M971.9 277.6h0M978.0 263.9h0M953.9 302.2h0M917.5 319.9h0M960.7 278.7h0M946.8 300.7h0M949.5 291.5h0M977.5 267.4h0M990.5 257.6h0M968.5 282.3h0M965.1 283.6h0M972.2 273.6h0M954.7 297.4h0M952.7 298.1h0M949.6 296.6h0M954.8 287.4h0M978.5 267.8h0M963.4 284.7h0M973.1 270.1h0M1016.8 220.1h0M923.1 326.4h0M953.4 290.7h0M917.7 317.4h0M938.5 306.0h0M943.1 300.5h0M917.8 320.2h0M952.7 293.7h0M979.5 263.4h0M953.7 285.5h0M983.1 264.1h0M965.0 278.3h0M986.0 262.0h0M942.4 302.6h0M949.1 297.3h0M940.5 300.4h0M955.0 288.3h0M950.9 290.9h0M973.2 268.6h0M942.1 303.2h0M946.1 296.5h0M956.8 291.2h0M996.5 232.7h0M962.0 283.2h0M943.7 304.8h0M966.1 274.4h0M958.7 286.1h0M927.0 313.6h0M980.2 268.1h0M981.4 259.3h0M967.8 274.2h0M959.0 287.8h0M957.8 293.7h0M987.4 260.3h0M978.4 269.5h0M997.4 247.0h0M942.5 315.4h0M933.7 307.6h0M969.6 277.8h0M939.5 305.2h0M961.5 290.9h0M1013.5 218.8h0M940.0 302.6h0M966.6 279.5h0M923.5 305.2h0M955.4 292.7h0M968.7 272.2h0M922.0 312.7h0M938.2 301.5h0M933.5 309.7h0M956.5 291.4h0M969.4 274.7h0M965.8 280.5h0M942.7 299.6h0M943.1 298.5h0M978.6 265.3h0M902.7 317.7h0M982.2 263.5h0M966.7 272.8h0M982.4 265.6h0M947.3 299.3h0M942.0 299.5h0M913.0 325.7h0M992.5 239.7h0M928.2 312.7h0M957.4 286.9h0M934.6 305.5h0M956.8 288.1h0M929.2 309.7h0M956.8 290.4h0M952.0 287.8h0M940.8 303.7h0M977.3 270.4h0M997.4 239.3h0M957.7 289.8h0M978.9 269.0h0M910.6 321.6h0M975.1 264.9h0M960.5 294.2h0M977.2 272.5h0M970.8 278.1h0M967.0 276.8h0M959.4 287.7h0M943.9 301.5h0M945.1 305.8h0M938.4 305.5h0M948.9 304.9h0M983.6 260.8h0M962.0 279.4h0M940.3 307.0h0M980.1 261.7h0M969.4 276.3h0M1010.9 226.9h0M963.9 285.1h0M925.0 317.1h0M911.2 308.2h0M969.7 277.8h0"/><path stroke="#83fee2" d="M995.3 245.5h0M965.2 281.1h0M942.9 299.3h0M931.9 312.4h0M955.8 284.2h0M981.4 259.0h0M996.1 247.4h0M918.6 315.6h0M979.8 263.1h0M993.0 243.6h0M959.3 287.9h0M966.8 275.8h0M960.2 289.2h0M981.9 265.1h0M980.2 266.4h0M977.9 263.5h0M1005.2 223.0h0M979.9 268.3h0M986.0 261.0h0M974.8 273.0h0M990.1 257.3h0M958.0 282.0h0M999.6 235.5h0M990.6 254.4h0M963.3 282.6h0M845.6 349.5h0M970.9 273.6h0M967.3 270.7h0M985.3 262.1h0M987.6 258.1h0M968.8 273.5h0M970.4 268.4h0M950.8 298.7h0M951.0 297.3h0M941.3 299.0h0M979.7 262.4h0M932.5 309.2h0M1001.7 229.6h0M989.8 250.4h0M986.9 256.1h0M973.2 266.8h0M1000.6 235.1h0M1030.3 202.0h0M917.1 308.5h0M994.6 248.7h0M995.8 242.9h0M955.3 287.5h0M969.0 282.0h0M930.7 309.9h0M913.2 322.0h0M998.7 237.7h0M930.4 310.8h0M914.8 323.9h0M990.2 256.4h0M985.6 258.3h0M925.3 301.9h0M965.6 282.5h0M994.4 250.0h0M981.5 262.2h0M924.8 316.3h0M965.3 276.9h0M994.4 248.4h0M965.9 280.7h0M999.4 234.0h0M955.2 287.5h0M1084.6 120.1h0M1089.5 165.2h0M976.9 268.8h0M972.7 265.7h0M991.6 254.4h0M996.7 240.6h0M984.8 258.6h0M1030.1 203.9h0M960.4 280.2h0M981.1 262.4h0M956.6 298.8h0M928.8 310.5h0M963.6 276.9h0M940.9 301.9h0M1012.2 223.9h0M969.0 271.7h0M962.7 278.5h0M967.2 274.6h0M994.3 237.7h0M1015.9 218.1h0M983.0 264.0h0M975.3 267.0h0M945.8 303.1h0M966.4 278.2h0M1017.5 205.4h0M991.1 248.4h0M966.6 271.0h0M855.6 334.7h0M982.0 260.0h0M1008.8 227.2h0M995.2 248.5h0M937.9 290.9h0M996.8 243.0h0M997.2 244.1h0M946.2 296.1h0M1014.5 221.4h0M1024.1 211.9h0M967.8 270.9h0M940.0 301.6h0M936.8 304.7h0M954.7 290.7h0"/><path stroke="#88ffe0" d="M966.4 274.8h0M974.9 268.6h0M1034.1 197.2h0M1005.3 231.8h0M1035.4 193.8h0M943.3 300.4h0M1023.2 207.0h0M985.5 261.6h0M1016.9 209.8h0M963.4 278.0h0M968.0 274.9h0M1029.6 203.9h0M966.1 273.0h0M981.2 264.6h0M966.1 274.7h0M1013.1 217.3h0M977.8 262.0h0M964.4 280.4h0M989.3 249.7h0M934.0 304.5h0M984.8 260.5h0M966.1 280.2h0M1014.8 218.6h0M989.9 252.8h0M994.1 238.8h0M1038.0 201.4h0M992.2 249.5h0M1033.8 196.0h0M954.1 288.7h0M995.6 235.3h0M998.4 234.2h0M960.1 279.2h0M970.4 278.5h0M989.7 250.8h0M991.9 243.0h0M1000.0 234.4h0M1000.6 232.4h0M981.2 262.5h0M951.1 289.8h0M1065.8 160.0h0M1069.1 151.9h0M973.4 269.1h0M964.6 272.8h0M1016.4 215.5h0M961.8 282.1h0M1003.8 228.8h0M940.8 300.8h0M998.6 232.2h0M1017.7 213.5h0M1018.7 214.9h0M984.5 257.8h0M1017.3 208.9h0M973.0 272.9h0M1008.1 229.2h0M978.7 262.5h0M981.1 263.9h0M1062.6 166.6h0M1070.7 157.6h0M969.3 268.0h0M1045.4 187.9h0M1005.2 233.0h0M990.6 250.6h0M973.3 276.2h0M929.7 308.3h0M999.6 238.6h0M1008.8 226.3h0M972.6 265.5h0M974.4 264.1h0M1015.8 220.0h0M976.3 266.9h0M959.9 280.6h0M976.8 269.7h0M992.0 241.7h0M958.1 281.0h0M998.4 234.1h0M992.4 247.5h0M973.1 265.1h0M1003.0 227.5h0M985.3 256.2h0M1015.4 209.1h0M938.1 303.5h0"/><path stroke="#8dffda" d="M1031.5 199.7h0M1013.1 223.5h0M1042.0 182.3h0M1018.2 211.3h0M1014.9 222.4h0M996.0 236.6h0M963.7 273.5h0M996.8 243.8h0M1037.4 190.8h0M1038.5 187.7h0M1010.6 213.5h0M1005.6 229.3h0M1011.2 221.9h0M1031.9 191.8h0M1031.5 200.8h0M1006.3 227.6h0M1009.9 226.2h0M1022.3 207.5h0M1029.5 203.2h0M1031.8 199.0h0M997.3 232.6h0M1017.0 217.7h0M1005.3 232.9h0M1032.3 197.7h0M1011.8 215.5h0M1006.8 230.7h0M1021.1 212.0h0M1021.1 214.0h0M1030.7 202.3h0M1017.1 217.8h0M1005.7 224.7h0M1001.2 226.1h0M1016.5 217.8h0M990.4 248.2h0M994.5 235.7h0M1014.4 211.5h0M1033.0 194.9h0M992.6 253.8h0M1009.4 215.8h0M1019.1 207.5h0M1041.6 184.0h0M1013.8 201.0h0M1001.7 226.4h0M1019.6 204.0h0M984.2 260.3h0M1033.8 191.8h0M1023.8 202.8h0M1026.5 208.4h0M1015.9 209.9h0M968.2 269.3h0M1028.9 205.7h0M961.2 284.9h0M996.3 237.3h0M992.7 246.8h0M1051.6 166.7h0M1033.5 196.8h0M1002.0 233.9h0M1043.7 182.3h0M994.4 234.8h0M992.3 240.2h0M999.3 234.3h0M998.3 238.8h0M1030.2 196.4h0M999.7 231.7h0M992.6 241.5h0M988.9 250.7h0M1029.6 202.4h0M1028.5 199.5h0M1037.6 189.7h0M1016.9 219.4h0M1018.5 208.9h0M989.2 254.1h0M1020.0 202.9h0M1014.7 210.6h0M1002.1 234.2h0M994.9 251.1h0M1006.4 227.4h0M1037.6 184.4h0M1050.2 167.9h0M1002.7 229.7h0M1015.3 218.9h0M1035.9 192.5h0M1021.9 205.5h0M1014.4 208.6h0M1020.7 216.1h0M1033.8 190.0h0M1042.7 183.2h0M999.1 232.4h0M999.1 232.0h0M999.6 229.7h0M1002.9 233.7h0M1008.4 221.6h0M984.3 257.8h0M973.0 268.7h0M986.4 257.9h0M1018.6 217.1h0M970.1 270.6h0M1025.0 211.1h0"/><path stroke="#91ffd4" d="M1012.5 223.5h0M1027.6 196.8h0M993.5 235.1h0M1077.2 147.0h0M1015.6 209.4h0M1011.3 215.2h0M1021.4 213.3h0M1013.8 213.2h0M1003.0 234.6h0M1041.5 170.4h0M1010.5 225.1h0M1028.3 198.8h0M1000.2 230.5h0M1035.7 183.6h0M1034.4 184.5h0M1024.3 203.7h0M999.7 235.9h0M1015.8 208.6h0M1044.5 174.8h0M1007.5 220.8h0M1017.9 216.3h0M999.7 228.3h0M1011.7 225.4h0M1003.4 228.0h0M1015.6 220.3h0M1023.8 201.1h0M1002.2 236.6h0M1008.7 221.9h0M1009.5 224.2h0M1027.5 207.1h0M1014.9 219.8h0M1018.2 213.5h0M1014.1 204.6h0M1035.1 195.2h0M1078.0 142.1h0M1020.1 215.2h0M1016.0 199.5h0M1014.4 218.9h0M1001.0 226.2h0M1015.8 204.6h0M1004.1 230.7h0M1011.2 213.6h0M1032.8 200.1h0M1005.0 227.6h0M1015.7 200.4h0M1045.9 177.5h0M996.2 232.1h0M1018.5 206.3h0M1018.0 211.0h0M1003.3 227.9h0M1003.7 231.6h0M1007.1 220.4h0M996.7 235.1h0M1004.9 233.6h0M1010.5 220.1h0M1021.0 211.9h0M971.3 266.7h0M1006.0 228.2h0M1027.6 205.1h0M995.8 235.8h0M1026.8 202.0h0M1003.4 223.9h0M995.5 238.6h0M1024.1 212.4h0M1021.5 213.3h0M1019.4 204.9h0M993.2 237.2h0M1025.6 209.5h0M994.4 241.8h0M1034.2 196.8h0M1015.2 211.2h0M1023.8 207.2h0M1001.8 233.6h0M1058.4 160.8h0M1023.6 211.4h0M1032.2 198.3h0M967.1 271.0h0M1020.3 215.6h0M1039.3 188.2h0M1035.8 191.7h0M1053.1 168.5h0M1011.6 217.7h0M1046.9 170.0h0M1003.0 223.5h0M1016.7 216.8h0M1021.5 198.2h0M1008.6 221.7h0M1007.5 220.0h0M1002.8 224.5h0M1023.2 196.1h0M1018.1 214.8h0M996.2 249.4h0M1008.7 221.7h0M1016.8 209.4h0M1017.7 204.1h0M1019.2 209.5h0M981.7 259.8h0M1002.2 229.6h0M1056.8 174.1h0M991.5 244.8h0M1025.2 200.0h0M1019.6 214.7h0M1025.9 203.1h0M1003.4 234.1h0M1045.8 172.7h0M1039.5 184.8h0M1019.5 211.3h0M1009.5 220.4h0M1025.3 208.1h0M1012.3 210.6h0M1005.7 228.4h0M1014.5 216.0h0M1002.9 233.3h0M1009.4 213.4h0M1014.2 214.4h0M1001.4 231.1h0M1018.2 209.7h0M1033.2 197.7h0M1022.2 207.9h0M1012.7 218.0h0M1011.9 221.7h0"/><path stroke="#96ffce" d="M1042.3 173.3h0M1036.8 187.3h0M1023.3 202.7h0M1018.1 209.3h0M1015.0 211.9h0M1017.1 209.2h0M1001.1 227.0h0M993.5 239.3h0M1036.8 193.4h0M1060.3 160.9h0M1058.8 162.7h0M1007.8 219.7h0M1018.0 214.4h0M1024.6 193.9h0M1013.3 201.5h0M998.8 236.7h0M1003.8 226.8h0M1014.8 216.5h0M1067.7 150.6h0M1013.8 211.0h0M1023.5 206.6h0M1021.1 208.3h0M1009.3 213.1h0M1016.2 212.5h0M1062.2 157.0h0M1023.7 204.5h0M1052.3 164.4h0M1017.4 214.7h0M1020.0 205.7h0M1027.5 198.1h0M1023.0 204.3h0M1030.7 202.7h0M1008.2 227.0h0M1033.5 190.1h0M1044.4 179.3h0M1020.9 200.3h0M1018.7 199.2h0M1023.4 205.4h0M1026.3 191.1h0M1012.9 221.9h0M1045.2 179.2h0M1064.1 154.2h0M1023.4 204.8h0M1019.5 213.5h0M993.7 234.3h0M1006.1 221.7h0M1013.7 209.0h0M1019.8 202.9h0M1029.8 199.1h0M1003.1 233.3h0M1009.1 221.5h0M1018.0 207.4h0M1025.1 209.2h0M1007.4 214.8h0M995.8 243.6h0M1029.5 197.9h0M1017.6 198.5h0M1043.2 176.3h0M1061.3 156.3h0M999.0 229.6h0M1011.7 211.8h0M994.1 242.4h0M1021.6 200.5h0M1021.6 210.4h0M1002.9 227.9h0M1039.4 188.4h0M1009.8 212.8h0M1011.3 213.9h0M1035.7 185.4h0M993.6 235.2h0M1055.8 160.4h0M1026.3 198.2h0M995.5 237.6h0M1036.8 193.4h0M1021.6 202.9h0M1011.3 213.0h0M1019.9 198.9h0M1007.8 225.8h0M1000.3 231.4h0M1074.3 139.6h0M1027.8 196.2h0M1001.5 231.2h0M1024.3 202.1h0M1024.2 202.3h0M1037.1 180.7h0M1012.5 211.2h0M1059.7 153.2h0M1057.3 155.1h0M1041.7 183.8h0M993.6 240.4h0M1031.0 183.6h0M1020.3 212.5h0M1024.8 203.5h0M1013.2 215.3h0M1053.1 159.3h0M1035.6 194.9h0M999.9 231.5h0M1008.3 228.5h0M1016.7 204.3h0M1016.1 200.1h0M1038.4 190.8h0M1012.8 213.2h0M1023.4 197.7h0M1029.5 199.1h0M1010.8 224.9h0M1014.1 220.9h0M1044.3 174.2h0M1016.0 204.5h0M1019.7 217.4h0M1017.3 212.9h0M1021.5 201.1h0M1057.4 159.3h0M1016.5 199.4h0M1027.2 191.5h0M1023.6 200.3h0M1015.4 200.9h0M1018.0 207.1h0"/><path stroke="#9cffc5" d="M1036.7 188.2h0M1036.6 187.7h0M1012.4 207.2h0M1008.6 214.4h0M1058.0 156.2h0M1019.5 211.0h0M1062.7 155.3h0M1062.4 153.6h0M1013.0 206.3h0M1073.7 137.4h0M1067.5 153.2h0M1013.2 213.4h0M1021.0 197.9h0M1070.8 141.0h0M1054.7 164.8h0M1023.7 196.9h0M1048.7 151.5h0M1041.9 173.4h0M1039.2 178.4h0M1038.0 190.0h0M1065.8 152.4h0M1041.7 168.5h0M1041.1 185.3h0M1034.8 195.1h0M1018.4 199.2h0M1027.9 198.7h0M1030.9 185.2h0M1066.9 149.4h0M1015.1 200.5h0M1007.9 222.7h0M1042.4 179.4h0M1029.1 196.7h0M1058.6 158.6h0M1069.1 149.6h0M1025.8 195.0h0M1061.4 150.3h0M1052.1 164.6h0M1006.9 221.8h0M1038.3 178.4h0M1005.0 220.3h0M1025.1 197.2h0M1016.0 210.5h0M1065.3 152.9h0M1060.6 155.8h0M1030.4 196.6h0M1027.5 191.1h0M1041.9 177.0h0M1020.8 204.7h0M1024.2 194.0h0M1044.0 176.9h0M1032.0 189.8h0M1052.9 161.4h0M1019.9 199.1h0M1002.6 226.1h0M1026.4 200.2h0M1042.2 182.6h0M1033.4 191.5h0M1032.8 190.9h0M1030.6 202.8h0M1046.7 177.1h0M1010.8 214.9h0M1019.0 213.8h0M1024.5 196.5h0M1039.5 189.5h0M1042.0 177.8h0M1034.4 176.9h0M1032.2 194.1h0M1027.6 196.0h0M1040.4 187.6h0M1059.5 156.1h0M1053.4 156.4h0M1039.0 187.1h0M1048.3 165.5h0M1032.8 185.5h0M1040.3 177.7h0M1006.9 217.6h0M1036.5 190.1h0M1059.6 159.1h0M991.1 247.0h0M1024.7 206.5h0M1021.2 205.6h0M1020.1 202.4h0M1012.5 209.5h0M1014.2 210.5h0M1026.9 200.1h0M1013.7 206.4h0M1010.4 211.5h0M1026.0 196.6h0M1031.9 191.2h0M1020.2 210.6h0M1014.6 212.3h0M1038.5 188.0h0M1026.3 201.5h0M1050.5 153.8h0M1041.4 168.6h0M1020.5 204.8h0M1019.4 205.5h0M1071.3 137.4h0M1019.6 208.5h0M997.7 234.7h0M1047.4 161.2h0M1023.4 194.1h0M1030.0 188.6h0M1022.6 199.6h0M1036.5 180.6h0M1030.2 197.5h0M1014.2 200.7h0M1038.3 189.2h0M1047.1 169.3h0M1026.4 199.8h0M1054.9 159.6h0M1022.1 200.3h0M1017.4 210.1h0M1072.8 144.1h0M1012.5 212.6h0M1058.7 161.3h0M1019.5 198.7h0M1027.8 195.0h0M1011.3 210.6h0M1014.4 208.7h0M1060.3 146.7h0M1047.4 171.5h0M1055.7 164.6h0M1032.7 187.2h0M1038.4 173.4h0M1008.5 223.8h0M1022.8 203.9h0M1006.9 218.7h0M1055.6 162.7h0M1038.6 181.7h0M1010.8 220.8h0M1042.9 178.4h0M1023.4 203.9h0M1026.1 193.8h0M1008.5 218.1h0M1055.0 159.8h0M1038.4 180.5h0M1019.0 210.4h0M1037.2 180.1h0M1004.2 220.5h0M1037.4 188.7h0M1031.3 199.4h0"/><path stroke="#a2ffbc" d="M1047.3 169.9h0M1055.8 166.3h0M1072.2 133.6h0M1077.0 132.9h0M1053.2 160.5h0M1036.0 185.4h0M1045.2 177.0h0M1044.8 161.5h0M1066.1 147.6h0M1054.9 165.4h0M1079.3 130.8h0M1018.6 203.5h0M1027.2 200.8h0M1026.9 198.7h0M1033.3 185.4h0M1049.0 160.5h0M1026.6 194.3h0M1036.7 184.8h0M1015.4 202.2h0M1070.5 148.6h0M1039.0 185.3h0M1031.7 189.4h0M1055.1 155.7h0M1016.3 206.3h0M1055.4 163.8h0M1057.9 159.5h0M1026.8 189.5h0M1053.7 156.0h0M1056.0 180.6h0M1035.0 187.3h0M1070.2 146.0h0M1076.1 135.7h0M1047.5 167.1h0M1029.4 186.3h0M1015.5 202.3h0M1018.9 208.8h0M1066.8 150.9h0M1037.0 173.3h0M1014.7 205.2h0M1043.7 161.2h0M1056.0 159.7h0M1048.2 166.0h0M1040.5 180.4h0M1072.2 143.9h0M1030.7 194.0h0M1019.7 208.3h0M1069.5 136.7h0M1062.3 155.0h0M1022.8 194.5h0M1040.1 186.9h0M1039.1 185.2h0M1019.9 204.2h0M1049.3 163.6h0M1061.2 142.1h0M1024.0 193.1h0M1075.2 128.8h0M1015.6 199.1h0M1036.0 179.7h0M1050.6 160.8h0M1039.8 167.9h0M1052.8 162.7h0M1071.4 145.4h0M1063.9 152.9h0M1043.4 170.6h0M1034.2 181.8h0M1059.8 158.4h0M1066.0 151.0h0M1063.8 140.5h0M1056.1 166.0h0M1056.3 150.5h0M1059.6 156.7h0M1012.0 204.6h0M1043.8 171.1h0M1050.7 162.4h0M1051.7 168.0h0M1021.8 202.5h0M1029.6 196.4h0M1053.2 168.1h0M1026.8 188.6h0M1037.1 182.5h0M1023.7 202.6h0M1044.5 168.9h0M1063.9 157.6h0M1014.2 204.9h0M1044.0 178.0h0M1018.2 211.5h0M1045.3 172.3h0M1006.2 221.1h0M1030.7 185.6h0M1049.2 168.1h0M1042.4 184.1h0M1046.7 166.9h0M1008.5 222.8h0M1065.6 151.3h0M1054.6 153.1h0M1011.2 217.2h0M1058.3 163.8h0M1053.5 164.3h0M1037.0 190.4h0M1063.6 148.6h0M1035.0 178.8h0M1039.7 174.5h0M1013.3 202.8h0M1042.0 176.6h0M1060.0 152.7h0M1035.8 182.2h0M1043.4 171.6h0M1031.6 188.2h0M1052.6 158.2h0M1047.6 172.0h0M1018.0 201.2h0M1071.6 142.2h0M1031.9 182.7h0M1015.7 201.3h0M1075.7 140.0h0M1032.2 185.9h0M1021.0 205.6h0M1046.0 177.0h0M1037.3 177.7h0M1016.0 207.0h0M1047.2 158.8h0M1055.9 162.6h0M1038.2 179.0h0M1046.4 177.0h0M1069.7 147.0h0M1040.2 184.8h0M1013.0 202.4h0M1037.3 180.7h0M1061.5 156.9h0M1043.8 163.7h0M1041.3 174.1h0M1029.8 202.4h0M1057.0 157.3h0M1040.2 165.7h0M1015.2 199.4h0M1034.8 176.9h0M1040.7 168.6h0M1059.4 156.9h0M1051.4 155.4h0M1040.5 180.7h0M1044.6 160.9h0M1074.0 132.9h0M1043.5 173.4h0"/><path stroke="#a9ffb3" d="M1061.5 139.6h0M1066.6 143.7h0M1062.4 150.2h0M1028.5 186.8h0M1039.6 180.6h0M1061.0 150.7h0M1048.5 169.8h0M1056.8 154.7h0M1039.5 172.5h0M1078.4 129.6h0M1012.0 206.2h0M1047.5 157.9h0M1072.5 135.7h0M1030.3 189.0h0M1064.5 141.3h0M1031.3 185.5h0M1064.1 156.2h0M1062.6 155.3h0M1071.1 143.6h0M1076.5 128.9h0M1040.5 181.1h0M1032.8 185.8h0M1058.7 154.8h0M1054.0 157.5h0M1071.0 143.1h0M1070.8 142.8h0M1041.6 169.3h0M1058.0 157.1h0M1065.0 137.5h0M1031.8 187.1h0M1019.9 202.1h0M1068.8 143.7h0M1010.1 214.8h0M1058.5 154.7h0M1033.9 180.6h0M1044.5 171.1h0M1072.3 142.2h0M1091.1 113.4h0M1072.0 127.6h0M1042.7 177.9h0M1020.0 197.2h0M1030.1 186.4h0M1051.1 162.7h0M1044.0 171.1h0M1036.3 179.7h0M1078.5 130.7h0M1037.7 179.7h0M1063.6 156.8h0M1062.4 136.2h0M1059.8 148.0h0M1056.0 162.5h0M1049.6 172.7h0M1035.0 184.1h0M1025.5 200.5h0M1028.8 189.5h0M1072.8 144.7h0M1032.7 183.0h0M1036.4 171.8h0M1028.2 192.9h0M1036.0 170.7h0M1053.0 166.1h0M1046.6 167.4h0M1043.4 165.0h0M1066.0 146.9h0M1066.2 141.1h0M1035.9 171.3h0M1077.6 127.7h0M1045.1 158.1h0M1028.6 186.9h0M1065.1 155.7h0M1054.1 164.1h0M1093.9 112.0h0M1075.5 129.2h0M1069.6 137.6h0M1040.8 174.6h0M1050.9 164.1h0M1047.8 166.0h0M1041.5 175.0h0M1055.3 149.2h0M1043.9 160.8h0M1012.0 211.9h0M1041.2 170.0h0M1092.6 107.7h0M1076.1 139.7h0M1037.8 186.7h0M1076.8 139.4h0M1032.7 186.7h0M1057.8 159.0h0M1043.1 171.6h0M1054.5 151.8h0M1077.6 127.9h0M1063.0 148.6h0M1049.5 154.7h0M1053.9 156.7h0M1071.9 138.5h0M1058.7 154.6h0M1058.6 140.3h0M1049.6 157.0h0M1036.9 185.4h0M1029.8 194.0h0M1027.9 186.7h0M1087.9 108.6h0M1056.1 153.2h0M1051.1 157.8h0M1077.9 130.8h0M1047.4 164.8h0M1016.3 205.0h0M1074.4 138.2h0M1058.0 145.5h0M1026.0 194.7h0M1040.7 184.6h0M1063.9 137.3h0M1060.2 154.2h0M1038.9 168.5h0M1022.5 196.5h0M1061.2 142.3h0M1058.5 147.4h0M1068.4 133.5h0M1013.9 207.1h0M1048.1 171.0h0M1063.6 153.4h0M1079.4 129.0h0M1077.3 135.2h0M1037.7 179.2h0M1040.7 181.6h0M1090.9 113.6h0M1048.7 156.9h0M1074.8 126.2h0M1048.0 154.7h0M1045.9 165.2h0M1019.0 200.2h0M1021.3 196.0h0M1033.1 181.7h0M1040.5 169.4h0M1007.2 222.6h0M1046.1 169.1h0M1055.0 145.3h0M1059.5 141.4h0M1026.1 198.6h0"/><path stroke="#affeaa" d="M1032.1 186.5h0M1039.7 169.2h0M1022.7 198.7h0M1053.7 145.1h0M1051.8 155.8h0M1067.6 130.3h0M1056.8 163.7h0M1051.6 157.0h0M1044.5 163.9h0M1031.7 185.9h0M1068.0 134.8h0M1048.3 153.0h0M1048.1 153.4h0M1032.6 177.8h0M1061.7 152.5h0M1047.9 163.9h0M1070.7 144.3h0M1056.0 148.2h0M1015.0 211.6h0M1056.0 153.7h0M1062.7 136.3h0M1060.4 139.3h0M1054.1 159.6h0M1048.0 155.4h0M1053.7 150.1h0M1037.5 176.6h0M1049.4 171.7h0M1058.8 143.2h0M1048.0 154.7h0M1071.3 128.0h0M1058.4 140.6h0M1020.5 197.6h0M1070.0 133.5h0M1046.2 157.0h0M1054.5 153.0h0M1074.6 136.2h0M1049.7 157.3h0M1078.4 124.6h0M1033.9 176.3h0M1063.3 133.1h0M1039.2 169.6h0M1043.5 171.1h0M1058.3 142.8h0M1080.5 126.8h0M1037.8 173.6h0M1067.7 150.1h0M1078.9 124.7h0M1063.3 145.0h0M1057.2 151.6h0M1074.5 126.4h0M1060.1 151.6h0M1041.3 163.3h0M1068.2 136.5h0M1069.8 128.5h0M1038.1 178.4h0M1073.3 137.2h0M1064.4 150.1h0M1056.7 143.2h0M1068.6 130.4h0M1076.6 134.2h0M1051.8 146.7h0M1053.8 152.2h0M1035.4 176.8h0M1048.2 168.3h0M1055.3 147.4h0M1077.1 130.4h0M1057.4 151.3h0M1052.7 166.8h0M1037.8 174.1h0M1069.3 138.0h0M1070.8 123.6h0M1078.6 132.8h0M1059.4 137.2h0M1016.0 209.2h0M1052.0 163.7h0M1067.4 137.3h0M1060.2 152.7h0M1097.6 112.8h0M1051.7 154.7h0M1031.7 186.4h0M1052.3 161.0h0M1079.7 131.6h0M1058.3 147.9h0M1045.7 161.2h0M1062.4 141.9h0M1011.6 209.6h0M1034.7 175.2h0M1067.5 131.7h0M1074.0 126.2h0M1063.1 145.4h0M1026.7 190.8h0M1077.3 132.2h0M1062.2 138.6h0M1044.7 160.4h0M1071.9 138.4h0M1078.0 131.5h0M1065.2 140.0h0M1078.2 124.1h0M1051.5 164.1h0M1059.7 151.7h0M1064.5 131.7h0M1075.0 131.5h0M1065.7 134.7h0M1072.1 135.6h0M1050.6 168.0h0M1075.6 134.3h0M1073.3 134.7h0M1059.9 149.2h0M1074.8 132.3h0M1030.0 183.7h0M1060.2 152.0h0M1060.9 150.6h0M1047.5 163.7h0M1062.3 144.9h0M1047.5 157.6h0M1064.6 138.1h0M1070.3 137.3h0M1095.4 110.1h0M1054.6 156.2h0M1060.1 149.7h0M1089.9 114.8h0M1061.5 148.9h0M1046.3 168.0h0M1065.7 139.4h0M1056.3 148.2h0"/><path stroke="#b5fda1" d="M1050.8 148.1h0M1052.4 145.5h0M1044.5 163.3h0M1071.9 141.5h0M1074.4 135.2h0M1076.2 121.3h0M1061.7 135.5h0M1065.6 133.4h0M1063.6 140.0h0M1060.2 142.6h0M1077.2 130.8h0M1058.8 144.5h0M1073.4 138.0h0M1058.7 143.2h0M1057.4 153.7h0M1081.6 111.4h0M1034.3 174.9h0M1061.2 148.6h0M1048.0 160.0h0M1067.6 141.2h0M1026.7 191.4h0M1079.9 130.4h0M1090.0 112.5h0M1051.0 161.4h0M1050.1 148.8h0M1079.5 132.2h0M1059.0 162.7h0M1047.2 155.6h0M1035.4 178.7h0M1071.8 124.0h0M1035.0 186.6h0M1068.9 134.4h0M1110.6 77.6h0M1055.4 144.0h0M1056.3 143.5h0M1066.2 132.0h0M1074.1 134.3h0M1046.9 154.8h0M1045.5 161.1h0M1014.3 205.7h0M1072.1 140.8h0M1038.4 175.0h0M1066.8 140.5h0M1073.5 125.2h0M1054.7 154.7h0M1068.8 132.4h0M1069.2 133.8h0M1064.7 146.3h0M1045.4 156.9h0M1080.3 126.2h0M1065.5 138.4h0M1050.4 153.3h0M1065.7 138.9h0M1060.4 141.2h0M1055.8 143.6h0M1059.2 137.0h0M1055.4 151.3h0M1050.2 152.5h0M1041.4 164.8h0M1076.9 124.8h0M1067.5 137.8h0M1066.3 150.7h0M1044.0 160.1h0M1077.8 134.2h0M1048.0 153.2h0M1053.1 150.7h0M1061.4 146.5h0M1078.5 133.4h0M1075.1 135.2h0M1055.4 151.8h0M1043.9 166.8h0M1079.1 129.7h0M1070.2 126.5h0M1057.5 143.0h0M1069.9 140.6h0M1069.3 131.5h0M1067.8 138.2h0M1080.2 124.8h0M1063.9 132.1h0M1072.0 137.0h0M1075.4 123.7h0M1015.5 201.7h0M1053.4 152.2h0M1068.5 139.7h0M1063.8 152.6h0M1055.2 149.7h0M1102.5 67.2h0M1148.9 67.8h0M1065.8 137.2h0M1071.3 130.9h0M1060.6 155.0h0M1073.8 137.2h0M1073.7 131.6h0M1106.5 76.0h0M1067.0 142.4h0M1069.8 136.9h0M1056.3 144.9h0M1047.9 152.9h0M1068.9 125.5h0M1057.9 143.4h0M1070.4 132.6h0M1068.0 152.8h0M1058.6 148.6h0M1080.2 126.7h0M1061.9 144.9h0"/><path stroke="#bbfc98" d="M1090.3 110.7h0M1190.8 63.3h0M1075.7 128.7h0M1066.5 133.9h0M1056.6 139.9h0M1078.1 122.6h0M1074.4 140.1h0M1052.2 160.1h0M1091.9 103.7h0M1056.7 145.0h0M1080.7 127.5h0M1064.8 137.4h0M1087.7 114.5h0M1068.7 135.8h0M1051.9 157.0h0M1068.8 126.1h0M1057.7 139.6h0M1094.2 110.3h0M1086.4 111.8h0M1073.5 126.8h0M1072.3 126.4h0M1073.9 123.3h0M1067.4 132.2h0M1069.7 138.7h0M1074.4 124.9h0M1076.6 121.3h0M1058.2 138.0h0M1054.6 147.2h0M1052.9 148.2h0M1047.4 156.0h0M1083.1 112.7h0M1075.9 122.2h0M1059.1 138.9h0M1076.5 123.8h0M1083.3 108.7h0M1064.7 135.9h0M1101.6 75.2h0M1066.1 135.0h0M1041.0 168.6h0M1085.9 112.6h0M1062.7 142.3h0M1095.1 107.0h0M1063.4 132.2h0M1072.5 123.4h0M1074.4 125.6h0M1095.4 111.4h0M1064.2 133.8h0M1059.8 137.9h0M1073.7 143.2h0M1076.3 121.1h0M1077.0 123.3h0"/><path stroke="#c2f690" d="M1064.1 135.6h0M1051.3 151.8h0M1083.8 108.9h0M1066.5 140.0h0M1095.3 109.7h0M1080.2 103.3h0M1075.8 128.6h0M1055.9 146.5h0M1101.6 70.4h0M1071.7 132.8h0M1051.1 148.5h0M1093.6 104.4h0M1064.5 146.8h0M1072.2 124.5h0M1055.9 150.5h0M1094.8 105.8h0M1061.5 141.7h0M1089.8 104.3h0M1060.0 140.5h0M1076.0 124.0h0M1075.6 123.6h0M1070.1 128.3h0M1063.3 133.8h0M1066.7 134.4h0M1058.9 137.3h0M1058.7 140.6h0M1066.7 129.9h0M1103.3 78.1h0M1070.8 125.1h0M1088.6 99.7h0M1069.2 128.6h0M1045.9 157.6h0M1049.7 149.8h0M1067.0 133.3h0M1068.1 127.1h0M1038.2 169.2h0"/><path stroke="#c9ef89" d="M1119.8 67.7h0M1092.8 106.6h0M1112.9 73.3h0M1084.5 104.3h0M1095.7 106.2h0M1091.6 111.6h0M1070.1 130.2h0M1099.5 76.9h0M1093.5 99.5h0M1062.5 141.5h0M1100.3 63.2h0M1090.8 111.8h0M1094.2 110.5h0M1079.5 103.3h0M1068.9 127.3h0M1082.5 107.5h0M1083.4 97.6h0M1082.7 106.6h0M1072.6 136.4h0M1085.1 105.8h0M1107.2 63.3h0M1059.0 139.3h0M1067.3 132.3h0M1081.4 110.7h0M1107.1 75.8h0M1070.2 127.5h0M1104.3 72.4h0M1105.0 76.4h0M1072.1 136.3h0M1084.0 111.2h0"/><path stroke="#d0e882" d="M1112.7 68.7h0M1086.8 103.1h0M1111.2 68.7h0M1099.4 66.8h0M1093.1 108.2h0M1102.6 64.4h0M1096.0 105.8h0M1080.7 106.5h0M1121.2 65.4h0M1107.1 77.3h0M1124.3 63.3h0M1090.8 106.0h0M1080.5 108.2h0M1115.4 73.1h0"/><path stroke="#d6db79" d="M1114.8 67.2h0M1087.0 101.5h0M1100.7 65.1h0M1117.9 61.9h0M1089.5 98.8h0M1109.9 65.3h0M1103.4 63.1h0M1113.0 69.4h0M1133.1 59.4h0M1097.0 105.5h0M1087.6 104.7h0M1043.0 156.8h0M1126.0 70.0h0M1095.3 108.9h0M1087.6 113.5h0M1111.9 66.2h0M1071.5 118.0h0M1094.7 100.5h0M1107.2 70.3h0M1085.3 99.0h0"/><path stroke="#dcce70" d="M1088.5 94.2h0M1133.0 65.0h0M1051.7 143.8h0M1084.2 100.4h0M1099.5 53.5h0M1094.6 94.4h0M1107.2 65.1h0M1106.6 69.6h0M1107.2 68.9h0M1083.1 96.3h0M1108.6 68.0h0M1112.6 62.6h0M1097.0 99.4h0M1080.5 100.8h0M1125.7 45.1h0M1094.7 110.6h0M1113.2 73.5h0M1111.1 69.7h0M1086.8 97.9h0M1091.1 95.5h0M1087.6 99.6h0M1107.4 65.5h0M1099.0 68.9h0M1115.0 65.8h0"/><path stroke="#e2c068" d="M1110.3 64.8h0M1130.2 61.4h0M1154.7 45.2h0M1106.2 66.9h0M1083.1 103.7h0M1087.7 97.6h0M1110.9 59.0h0M1111.8 67.0h0M1123.7 54.1h0M1088.7 101.1h0M1103.4 56.5h0M1115.7 68.9h0M1087.7 94.4h0M1120.2 68.4h0M1119.1 71.5h0M1151.8 47.8h0M1113.8 54.4h0M1123.1 57.6h0M1101.1 58.9h0M1094.8 95.9h0M1082.9 96.7h0M1090.9 100.6h0M1119.4 56.9h0M1126.7 47.6h0M1106.0 72.7h0M1133.0 59.7h0M1140.0 62.0h0M1124.4 59.9h0M1098.4 67.0h0M1127.9 59.4h0M1133.3 51.1h0M1101.4 63.5h0"/><path stroke="#e6b05f" d="M1121.8 67.7h0M1108.8 67.4h0M1112.1 50.8h0M1100.1 56.1h0M1058.0 135.6h0M1104.8 57.6h0M1125.3 66.1h0M1139.0 45.2h0M1111.6 64.1h0M1122.1 64.7h0M1080.7 98.5h0M1105.8 57.2h0M1109.2 63.4h0M1146.5 42.0h0M1118.3 67.1h0M1153.9 44.9h0M1107.9 59.6h0M1123.7 57.0h0M1137.0 38.5h0M1131.8 60.0h0M1108.8 62.6h0M1094.8 95.4h0M1129.1 42.9h0M1119.2 50.1h0M1100.3 53.3h0M1160.3 53.3h0M1117.5 60.4h0M1093.2 95.9h0"/><path stroke="#eba156" d="M1110.3 54.8h0M1124.0 44.5h0M1096.5 95.3h0M1154.5 33.1h0M1148.2 35.1h0M1137.1 51.9h0M1113.5 53.3h0M1159.5 38.5h0M1121.7 57.2h0M1105.1 63.3h0M1144.3 46.9h0M1124.5 67.1h0M1129.6 55.5h0M1134.9 48.9h0M1124.4 66.3h0M1135.7 41.7h0M1115.3 50.4h0M1109.9 58.4h0"/><path stroke="#ef924e" d="M1133.0 54.3h0M1127.8 52.5h0M1155.9 35.6h0M1104.4 58.1h0M1136.8 52.6h0M1152.2 33.7h0M1129.4 54.9h0M1147.2 50.6h0M1129.3 46.2h0M1129.3 53.7h0M1126.4 60.9h0M1104.0 53.2h0M1142.5 52.5h0M1137.8 52.7h0M1106.9 68.0h0M1101.4 59.3h0M1098.8 55.5h0M1104.8 52.2h0M1133.2 43.9h0M1113.8 57.8h0M1154.5 36.1h0M1130.4 53.6h0M1127.3 64.6h0M1133.0 48.1h0M1145.0 58.0h0M1130.7 54.2h0M1129.6 57.1h0M1146.3 43.0h0M1131.7 56.3h0M1133.3 53.9h0M1106.5 51.2h0M1133.7 57.6h0M1113.4 51.0h0M1136.1 54.4h0"/><path stroke="#f08848" d="M1131.3 56.0h0M1127.9 52.8h0M1128.3 57.7h0M1134.3 47.0h0M1127.7 48.6h0M1131.5 60.2h0M1137.9 53.5h0M1138.0 50.0h0M1126.4 54.0h0M1134.1 49.7h0M1136.4 48.7h0M1127.9 50.7h0M1147.8 43.4h0M1123.5 54.3h0M1144.6 42.3h0M1122.7 51.0h0M1105.1 61.6h0M1139.3 48.1h0M1130.6 55.6h0M1108.6 50.8h0M1116.1 50.2h0M1136.1 40.4h0M1146.0 50.0h0M1151.3 54.7h0"/><path stroke="#f27d42" d="M1144.2 41.4h0M1118.4 47.7h0M1137.3 54.9h0M1138.4 55.2h0M1122.2 46.3h0M1155.0 50.0h0M1145.1 45.8h0M1141.3 43.9h0M1137.2 49.9h0M1120.5 53.9h0M1134.8 47.7h0M1136.9 46.3h0M1122.5 45.2h0M1125.2 42.5h0M1142.0 46.0h0M1140.3 42.7h0M1150.0 47.0h0M1122.0 47.8h0M1136.3 41.6h0M1148.0 48.1h0M1125.5 55.6h0M1120.2 48.0h0M1127.5 48.7h0M1139.8 42.3h0M1134.4 48.5h0M1160.3 38.4h0M1125.1 58.3h0"/><path stroke="#f4723c" d="M1141.1 40.4h0M1129.7 45.5h0M1156.6 36.8h0M1125.4 51.1h0M1133.9 43.0h0M1141.8 40.6h0M1127.4 46.6h0M1177.2 53.7h0M1155.3 40.8h0M1124.3 47.2h0M1134.3 41.2h0M1160.0 47.0h0M1146.9 43.3h0M1117.1 58.9h0M1131.9 40.7h0M1128.3 48.7h0M1137.0 40.6h0M1152.6 36.8h0M1140.6 41.4h0M1144.3 39.9h0M1177.4 54.0h0M1127.0 42.9h0M1151.8 43.9h0M1157.0 45.0h0M1140.4 44.5h0M1152.0 44.1h0"/><path stroke="#f66434" d="M1164.0 45.0h0M1151.7 44.5h0M1142.4 47.3h0M1143.0 44.4h0M1127.0 47.5h0M1147.7 43.3h0"/><path stroke="#f8562c" d="M1139.2 40.4h0M1177.2 35.5h0M1177.2 43.4h0M1139.3 42.4h0M1178.2 44.2h0M1178.5 44.1h0M1135.7 47.3h0M1134.4 42.9h0M1146.6 40.8h0"/><path stroke="#fa4824" d="M1134.8 43.1h0M1197.7 43.0h0M1134.4 41.4h0M1163.5 34.4h0M1176.9 35.2h0M1145.1 40.9h0M1139.8 42.8h0M1163.9 31.5h0M1134.5 39.7h0M1138.3 39.4h0M1180.7 28.2h0M1179.4 29.5h0"/><path stroke="#fc3a1c" d="M1135.5 36.1h0M1167.9 41.4h0M1169.2 36.1h0M1168.5 34.1h0"/><path stroke="#fe2b14" d="M1168.4 34.4h0M1170.4 55.6h0M1170.5 42.7h0M1144.3 32.3h0M1167.6 41.0h0M1171.2 38.8h0M1170.1 55.6h0M1184.7 32.2h0M1179.0 28.7h0M1184.7 34.1h0M1171.7 38.5h0M1169.2 37.7h0M1171.2 43.4h0M1164.4 34.4h0"/><path stroke="#ff1f0e" d="M1200.3 25.5h0M1170.9 42.6h0M1163.9 31.2h0M1195.7 32.8h0M1190.4 23.8h0M1205.4 22.0h0"/></g>
<path d="M790.6 413.9V2.3M983.1 413.9V2.3M1175.6 413.9V2.3M790.6 368.9H1214.1M790.6 250.7H1214.1M790.6 132.5H1214.1M790.6 14.3H1214.1" stroke="#b0b0b0" stroke-opacity="0.7" stroke-width="1.2" stroke-dasharray="3 2" fill="none"/>
<path d="M790.6 413.9v4.6M983.1 413.9v4.6M1175.6 413.9v4.6M790.6 368.9h-4.6M790.6 250.7h-4.6M790.6 132.5h-4.6M790.6 14.3h-4.6" stroke="#000" stroke-width="1.2" fill="none"/>
<rect x="790.6" y="2.3" width="423.5" height="411.6" fill="none" stroke="#000" stroke-width="1.2"/>
<text x="790.6" y="441.9" font-size="29.6" text-anchor="middle">−50</text>
<text x="983.1" y="441.9" font-size="29.6" text-anchor="middle">0</text>
<text x="1175.6" y="441.9" font-size="29.6" text-anchor="middle">50</text>
<text x="781.6" y="378.8" font-size="29.6" text-anchor="end">−0.01</text>
<text x="781.6" y="260.6" font-size="29.6" text-anchor="end">0.00</text>
<text x="781.6" y="142.4" font-size="29.6" text-anchor="end">0.01</text>
<text x="781.6" y="24.2" font-size="29.6" text-anchor="end">0.02</text>
<text x="1003.8" y="481" font-size="41.4" text-anchor="middle">VSP(kW/t)</text>
<text transform="translate(702.7 211.5) rotate(-90)" font-size="41.4" text-anchor="middle">Contribution</text>
<text x="798.4" y="37.8" font-size="41.4">b)</text>
<rect x="1240.4" y="2.3" width="27.3" height="411.6" fill="url(#rb)" stroke="#000" stroke-width="1.0"/>
<text x="1275.7" y="402.2" font-size="23.7">−0.02</text>
<text x="1275.7" y="328.0" font-size="23.7">−0.01</text>
<text x="1275.7" y="253.8" font-size="23.7">0.00</text>
<text x="1275.7" y="179.6" font-size="23.7">0.01</text>
<text x="1275.7" y="105.4" font-size="23.7">0.02</text>
<text x="1275.7" y="31.2" font-size="23.7">0.03</text>
<path d="M1267.7 394.2h4.6M1267.7 320.0h4.6M1267.7 245.8h4.6M1267.7 171.6h4.6M1267.7 97.4h4.6M1267.7 23.2h4.6" stroke="#000" stroke-width="1.2" fill="none"/>
<g fill="none" stroke-width="3.50" stroke-linecap="round"><path stroke="#8000ff" d="M1605.0 377.4h0M1576.0 392.5h0M1617.0 376.4h0M1569.1 390.1h0M1588.6 390.6h0M1571.3 387.3h0M1552.0 386.2h0M1611.2 376.9h0M1602.3 383.6h0M1585.5 386.6h0M1589.5 385.8h0M1623.2 370.2h0M1591.3 389.2h0M1570.5 392.9h0M1591.9 389.6h0M1589.1 389.7h0M1598.2 385.0h0M1593.6 374.0h0M1609.2 378.2h0M1630.2 359.6h0M1604.5 375.2h0M1580.5 392.9h0M1570.2 389.4h0M1606.1 378.8h0M1568.2 387.4h0M1552.9 391.8h0M1587.0 392.8h0M1605.6 375.6h0M1603.8 373.9h0M1579.7 394.2h0M1586.6 390.9h0M1587.0 389.0h0M1611.5 380.5h0M1579.6 393.8h0M1585.7 387.9h0M1609.2 374.1h0M1608.3 379.4h0M1581.5 385.6h0M1586.2 388.5h0M1574.6 383.2h0M1611.0 377.5h0M1601.2 383.6h0M1589.5 389.1h0M1594.7 383.5h0M1582.4 381.6h0M1578.0 393.5h0M1599.4 383.2h0M1559.5 391.2h0M1583.8 390.8h0M1595.8 384.8h0M1603.4 384.7h0M1581.4 387.5h0M1581.2 388.5h0M1581.4 391.6h0M1598.8 378.9h0M1598.1 388.1h0M1579.6 394.2h0M1610.6 376.6h0M1589.6 382.7h0M1578.5 384.4h0M1603.4 380.7h0M1594.1 381.9h0M1583.7 394.6h0M1602.1 384.3h0M1579.7 384.2h0M1583.8 388.3h0M1588.0 392.2h0M1597.2 384.9h0M1582.0 393.8h0M1582.4 385.1h0M1592.1 390.9h0M1586.1 389.9h0M1591.6 377.2h0M1569.2 388.8h0M1607.3 384.0h0M1610.6 376.6h0M1611.2 380.7h0M1615.5 370.3h0M1563.0 391.1h0M1567.9 388.5h0M1581.8 393.3h0M1578.0 391.1h0M1588.0 388.4h0M1643.4 343.5h0M1590.3 386.9h0M1546.2 392.1h0M1589.9 388.3h0M1585.9 385.5h0M1623.6 370.7h0M1572.6 391.4h0M1598.7 378.8h0M1594.2 380.3h0M1594.8 385.4h0M1585.5 388.9h0M1600.1 386.0h0M1571.4 383.5h0M1590.9 390.6h0M1577.2 392.4h0M1596.7 385.9h0M1568.6 392.5h0M1567.8 388.6h0M1588.1 391.4h0M1585.2 380.9h0M1599.4 375.8h0M1632.2 361.3h0M1572.0 393.0h0M1551.1 392.6h0M1582.5 390.9h0M1576.5 390.4h0M1595.3 376.3h0M1599.8 383.1h0M1597.6 379.0h0M1600.2 383.4h0M1604.5 382.7h0M1595.9 388.1h0M1589.1 389.2h0M1585.7 386.6h0M1604.3 374.7h0M1610.4 377.4h0M1589.1 391.7h0M1576.8 393.6h0M1618.9 373.1h0M1577.9 392.8h0M1591.8 384.3h0M1600.1 385.0h0M1588.5 388.6h0"/><path stroke="#7c0eff" d="M1613.2 375.1h0M1611.3 377.1h0M1591.6 389.0h0M1609.8 381.0h0M1639.1 353.5h0M1598.5 375.1h0M1606.1 378.9h0M1571.5 384.1h0M1614.6 367.0h0M1611.0 369.1h0M1578.6 382.5h0M1591.1 387.7h0M1597.4 374.9h0M1631.8 364.0h0M1608.5 377.5h0M1580.5 379.8h0M1553.5 392.3h0M1567.6 383.0h0M1593.6 378.4h0M1612.4 380.2h0M1572.4 384.0h0M1583.9 389.3h0M1587.1 377.8h0M1603.0 377.0h0M1585.8 384.6h0M1613.4 369.9h0M1594.7 379.5h0M1578.1 387.0h0M1602.3 383.1h0M1592.3 389.5h0M1585.0 392.3h0M1612.0 368.1h0M1620.2 366.4h0M1592.6 379.8h0M1559.8 386.1h0M1642.5 348.1h0M1587.5 392.4h0M1594.0 378.8h0M1560.6 389.6h0M1611.4 380.0h0M1569.5 388.4h0M1623.9 370.8h0M1584.1 382.8h0M1607.7 381.8h0M1610.5 379.9h0M1621.1 373.4h0M1554.7 388.3h0M1588.8 384.1h0M1614.0 363.2h0M1590.8 388.4h0M1639.6 350.4h0M1598.0 383.5h0M1630.8 358.2h0M1597.5 382.9h0M1642.7 346.5h0M1564.1 389.5h0M1607.6 381.7h0M1568.9 389.2h0M1621.1 366.8h0M1591.0 385.2h0M1601.9 380.0h0M1583.3 381.3h0M1604.8 376.3h0M1587.7 377.6h0M1589.6 385.0h0M1577.1 380.5h0M1584.6 389.3h0M1635.1 357.7h0M1592.0 373.5h0M1616.9 374.7h0M1618.1 367.9h0M1616.0 375.4h0M1589.3 391.0h0M1599.6 376.7h0M1603.6 382.3h0M1632.3 353.4h0M1582.8 385.8h0M1572.2 392.1h0M1633.0 362.8h0M1604.4 379.8h0M1584.8 389.6h0M1625.8 361.3h0M1584.0 391.9h0M1548.8 390.3h0M1564.1 384.9h0M1619.3 373.9h0M1600.1 379.6h0M1597.1 383.7h0M1585.6 383.2h0M1588.6 388.3h0M1582.8 390.8h0M1597.3 383.0h0M1620.7 365.6h0M1594.9 383.1h0M1623.2 367.9h0M1577.5 393.9h0M1635.0 351.8h0M1591.7 391.0h0M1578.2 387.3h0M1575.8 383.0h0M1568.3 385.5h0M1594.2 387.2h0M1579.8 386.7h0M1609.7 373.1h0M1573.0 385.3h0M1583.1 391.3h0M1582.4 389.9h0M1586.8 390.3h0M1580.7 392.5h0M1620.7 363.6h0M1619.0 371.9h0M1621.3 371.8h0M1628.9 358.4h0M1637.2 352.0h0M1548.1 389.3h0M1618.0 372.4h0M1548.7 388.3h0M1586.8 379.9h0M1570.0 384.1h0M1580.7 394.1h0M1611.8 370.6h0M1603.7 379.1h0M1561.1 392.4h0M1627.9 367.5h0M1638.2 355.8h0M1614.5 364.5h0M1605.6 376.2h0M1635.0 353.0h0M1596.9 380.1h0M1601.8 381.9h0M1594.8 388.3h0M1573.3 386.3h0M1589.6 375.1h0M1604.6 382.3h0M1571.0 383.3h0M1625.9 351.7h0M1560.4 388.1h0M1584.3 391.6h0M1597.0 386.6h0M1605.9 381.8h0M1608.4 371.9h0M1623.6 362.4h0M1604.3 374.7h0M1589.4 390.9h0M1608.4 373.2h0M1613.3 362.7h0M1575.5 392.4h0M1612.6 363.7h0M1604.7 381.3h0M1624.2 367.2h0M1627.1 365.1h0M1606.4 377.6h0M1632.0 362.8h0M1603.0 371.1h0M1605.7 383.9h0M1628.3 362.2h0M1589.6 385.5h0M1621.2 363.0h0M1625.6 355.6h0M1565.2 386.6h0M1623.9 369.4h0M1633.0 359.1h0M1593.5 384.3h0M1602.3 378.9h0M1597.2 382.6h0M1596.9 375.4h0M1606.6 383.4h0M1586.9 378.8h0M1600.4 378.4h0M1591.0 381.6h0M1610.5 381.5h0"/><path stroke="#731dff" d="M1601.6 376.0h0M1602.9 371.5h0M1644.7 347.9h0M1587.7 380.9h0M1556.4 391.7h0M1575.8 380.6h0M1633.0 361.1h0M1640.4 355.2h0M1622.4 372.1h0M1612.7 378.4h0M1557.2 387.4h0M1606.8 375.9h0M1619.9 367.5h0M1610.8 375.2h0M1600.9 379.0h0M1607.2 373.1h0M1615.0 373.7h0M1582.5 387.9h0M1614.4 364.9h0M1609.7 381.1h0M1607.2 370.0h0M1632.6 358.8h0M1601.2 373.5h0M1585.9 384.8h0M1615.1 378.2h0M1591.4 382.1h0M1604.1 384.3h0M1572.0 390.6h0M1604.7 384.0h0M1591.6 383.8h0M1639.4 354.2h0M1597.2 372.4h0M1594.7 381.1h0M1605.7 372.3h0M1622.2 365.2h0M1629.4 360.3h0M1595.9 387.9h0M1559.3 389.9h0M1568.9 382.0h0M1595.3 376.9h0M1596.1 375.1h0M1655.9 337.4h0M1593.3 378.1h0M1590.4 388.2h0M1546.0 391.0h0M1599.0 383.8h0M1573.8 384.6h0M1609.6 376.6h0M1599.8 383.7h0M1559.1 385.7h0M1592.5 382.1h0M1615.2 370.1h0M1650.7 344.3h0M1593.1 379.5h0M1643.8 351.8h0M1578.8 383.4h0M1586.5 389.7h0M1547.2 390.9h0M1626.2 366.1h0M1481.5 390.4h0M1572.3 381.2h0M1468.1 388.5h0M1623.5 364.2h0M1603.4 385.7h0M1596.8 384.6h0M1585.7 386.5h0M1593.4 377.4h0M1646.1 348.8h0M1595.0 385.0h0M1638.0 359.0h0M1629.4 364.5h0M1575.5 384.8h0M1616.3 375.0h0M1596.0 379.8h0M1542.0 384.0h0M1621.9 368.3h0M1586.3 390.4h0M1585.7 388.1h0M1605.4 375.4h0M1595.1 373.2h0M1592.9 381.4h0M1647.9 345.6h0M1580.1 382.4h0M1638.8 347.2h0M1525.9 393.0h0M1638.2 350.4h0M1574.7 384.0h0M1571.9 385.1h0M1583.9 393.2h0M1561.3 384.9h0M1601.7 386.0h0M1611.0 366.6h0M1590.2 375.5h0M1608.0 380.3h0M1582.2 386.6h0M1613.6 376.1h0M1599.8 382.2h0M1588.0 383.9h0M1556.0 390.0h0M1571.7 384.9h0M1611.1 373.5h0M1595.2 377.4h0M1657.7 339.3h0M1559.0 389.4h0M1625.5 367.4h0M1557.7 389.6h0M1585.8 387.3h0M1605.6 374.0h0M1644.7 352.0h0M1586.6 380.8h0M1644.4 342.2h0M1609.5 382.2h0M1608.9 374.3h0M1616.4 372.5h0M1551.0 388.0h0M1614.0 361.2h0M1620.1 366.4h0M1590.4 379.8h0M1642.9 352.2h0M1577.3 384.3h0M1603.5 381.7h0M1540.0 386.0h0M1655.5 339.6h0M1621.4 362.7h0M1501.7 387.9h0M1640.7 351.4h0M1629.1 353.6h0M1546.0 387.6h0M1653.0 338.5h0M1621.2 367.2h0M1596.9 378.6h0M1606.4 383.8h0M1585.0 379.7h0M1558.0 387.0h0M1631.2 364.4h0M1637.6 353.5h0M1583.0 381.6h0M1627.2 366.3h0M1628.8 362.2h0M1596.8 371.8h0M1611.1 376.6h0M1614.0 369.4h0M1577.2 383.9h0M1587.3 391.1h0M1575.3 390.8h0M1625.6 358.6h0M1603.8 375.2h0M1596.2 379.2h0M1548.0 385.0h0M1631.8 360.3h0M1593.4 386.0h0M1614.1 366.4h0M1550.5 387.9h0M1553.0 386.0h0M1623.9 361.3h0M1618.8 374.2h0M1615.8 375.6h0M1588.5 379.5h0M1588.3 384.6h0M1593.7 389.5h0M1595.7 389.3h0M1608.5 367.0h0M1609.2 372.5h0M1586.8 387.4h0M1600.8 385.8h0M1612.2 375.5h0M1593.9 385.3h0M1641.9 348.7h0M1575.5 389.3h0M1635.3 360.4h0M1571.5 384.6h0M1593.1 381.6h0M1627.4 360.1h0M1590.8 383.3h0M1571.0 393.0h0M1625.4 354.0h0M1614.4 374.8h0M1600.8 382.9h0M1561.7 383.8h0M1612.6 372.6h0M1601.1 383.9h0M1624.9 367.0h0M1573.4 393.0h0M1594.7 372.5h0M1551.1 389.7h0M1587.0 376.5h0M1627.7 366.3h0M1499.2 388.7h0M1560.9 392.0h0M1597.3 379.3h0M1596.7 373.3h0M1632.3 356.1h0M1589.7 374.3h0M1634.2 360.8h0M1644.3 346.4h0M1622.5 369.7h0M1545.0 387.0h0M1638.9 354.4h0M1611.5 374.4h0M1563.6 388.6h0M1613.8 369.9h0M1616.0 369.9h0M1593.1 376.0h0M1629.9 355.6h0M1622.2 369.7h0M1630.0 351.9h0M1644.0 353.1h0M1589.9 377.6h0M1547.2 386.8h0M1550.0 389.0h0M1609.4 373.7h0M1597.8 387.4h0M1629.4 362.2h0M1567.9 384.8h0M1626.2 358.5h0M1608.6 379.3h0M1591.3 382.6h0"/><path stroke="#682dff" d="M1638.2 351.4h0M1594.6 374.8h0M1594.7 372.8h0M1584.3 384.6h0M1630.1 365.1h0M1620.6 360.7h0M1630.9 364.9h0M1613.2 368.7h0M1551.9 391.2h0M1597.0 373.9h0M1582.9 394.1h0M1580.8 386.1h0M1651.4 342.3h0M1589.5 382.7h0M1644.7 342.8h0M1600.0 381.1h0M1599.7 381.6h0M1626.1 357.8h0M1570.9 383.8h0M1602.5 372.4h0M1593.2 377.1h0M1580.0 388.8h0M1633.3 349.2h0M1565.7 389.9h0M1613.5 362.6h0M1599.9 375.4h0M1643.7 353.7h0M1653.4 331.9h0M1590.7 380.1h0M1602.6 375.2h0M1617.9 374.8h0M1621.1 367.8h0M1601.4 382.1h0M1629.4 357.7h0M1641.4 356.5h0M1616.3 363.5h0M1637.0 350.8h0M1620.5 361.1h0M1615.7 371.7h0M1573.9 385.2h0M1609.5 370.6h0M1631.1 359.2h0M1632.4 361.8h0M1607.4 375.5h0M1648.5 338.4h0M1627.2 357.5h0M1634.0 358.6h0M1612.4 369.8h0M1624.4 363.8h0M1574.6 390.9h0M1601.5 375.6h0M1617.0 362.8h0M1563.2 383.3h0M1596.2 389.1h0M1635.1 352.7h0M1593.9 373.2h0M1641.8 351.2h0M1623.7 354.9h0M1631.2 354.4h0M1645.6 340.9h0M1549.2 385.8h0M1590.3 377.8h0M1614.6 366.2h0M1618.1 358.1h0M1608.1 368.9h0M1591.6 383.9h0M1651.2 341.1h0M1580.8 390.8h0M1656.7 337.4h0M1572.8 388.7h0M1611.9 371.1h0M1560.6 390.9h0M1625.9 349.4h0M1607.0 375.6h0M1606.8 373.6h0M1603.1 371.5h0M1628.7 365.1h0M1566.8 382.2h0M1650.9 345.4h0M1644.5 349.5h0M1634.6 360.4h0M1590.1 380.3h0M1600.9 373.4h0M1651.4 343.4h0M1623.0 366.6h0M1621.2 367.7h0M1651.0 340.8h0M1598.5 377.3h0M1659.5 333.9h0M1621.3 359.9h0M1618.8 372.9h0M1559.6 388.4h0M1596.5 378.8h0M1590.6 382.3h0M1621.1 360.8h0M1583.0 386.6h0M1620.1 369.9h0M1594.7 375.4h0M1630.7 348.2h0M1643.7 345.8h0M1609.0 373.0h0M1627.1 364.6h0M1589.4 380.4h0M1616.3 373.4h0M1593.6 384.0h0M1605.8 380.5h0M1650.5 336.5h0M1614.7 371.4h0M1637.5 344.4h0M1574.6 387.8h0M1585.7 382.0h0M1614.4 366.4h0M1572.1 384.3h0M1589.1 375.7h0M1643.1 347.7h0M1637.0 358.1h0M1570.5 381.9h0M1599.9 371.7h0M1583.1 376.9h0M1638.8 344.8h0M1624.6 358.9h0M1642.0 352.8h0M1598.1 379.6h0M1621.7 360.1h0M1606.1 372.5h0M1580.5 380.1h0M1589.7 374.1h0M1589.5 376.2h0M1615.0 373.3h0M1628.8 352.5h0M1584.5 384.4h0M1604.6 385.2h0M1600.1 371.5h0M1630.4 360.3h0M1573.7 383.3h0M1649.7 346.8h0M1645.1 351.9h0M1649.5 346.1h0M1631.3 354.9h0M1612.2 372.8h0M1564.8 386.9h0M1635.5 361.3h0M1640.8 356.5h0M1617.3 371.9h0M1633.0 352.6h0M1620.7 366.7h0M1650.5 334.8h0M1618.0 367.7h0M1594.2 382.7h0M1593.8 383.6h0M1606.7 378.2h0M1652.8 343.5h0M1573.3 384.4h0M1612.2 368.8h0M1654.6 331.9h0M1597.9 383.7h0M1607.9 373.3h0M1627.7 363.2h0M1560.6 386.8h0M1607.9 372.2h0M1589.1 388.9h0M1571.6 388.6h0M1620.6 358.7h0M1621.7 357.2h0M1578.6 382.9h0M1571.5 389.8h0M1569.1 382.5h0M1634.6 354.7h0M1654.1 340.2h0M1632.8 360.6h0M1635.3 358.6h0M1655.0 340.7h0M1599.8 375.7h0M1643.2 351.7h0M1612.3 375.7h0M1596.2 376.5h0M1590.4 375.1h0M1649.0 344.2h0M1623.0 357.9h0M1633.2 349.0h0M1607.1 371.9h0M1645.8 350.0h0M1533.3 392.6h0M1593.2 384.6h0M1654.1 341.8h0M1611.0 368.3h0M1648.3 338.2h0M1593.4 380.1h0M1629.1 352.8h0M1609.7 371.9h0M1635.8 351.9h0M1641.7 352.8h0M1561.9 384.0h0M1646.3 350.1h0M1606.5 380.6h0M1588.7 376.1h0M1613.6 363.3h0M1511.4 388.5h0M1601.6 379.9h0M1632.3 358.7h0M1658.8 337.1h0M1560.3 387.6h0M1612.7 372.8h0M1642.8 351.5h0M1632.6 348.5h0M1629.0 358.8h0M1574.2 387.4h0M1661.3 332.9h0M1613.8 370.7h0M1639.0 354.0h0M1574.2 391.8h0M1633.0 361.5h0M1631.7 359.9h0M1639.5 346.1h0M1512.9 390.2h0M1645.1 349.7h0M1639.3 357.2h0M1641.6 355.3h0M1621.6 370.7h0M1615.3 372.7h0M1633.2 353.6h0M1636.4 344.9h0M1553.5 385.0h0M1637.8 355.6h0M1547.6 391.3h0M1581.2 394.1h0M1559.1 388.1h0M1642.0 351.9h0M1606.8 377.7h0M1584.9 382.0h0M1551.0 390.4h0M1621.2 357.0h0M1547.4 385.2h0M1579.6 382.3h0M1647.9 343.1h0M1654.1 342.7h0M1644.4 350.4h0M1595.3 389.2h0M1583.1 393.9h0M1572.3 389.3h0M1634.2 347.5h0M1611.5 370.0h0M1566.3 383.8h0M1659.5 337.1h0M1646.5 349.2h0M1632.4 360.5h0M1644.5 338.9h0M1594.5 378.0h0M1604.1 372.9h0M1623.3 360.1h0M1639.4 351.4h0M1588.4 382.7h0M1575.6 386.6h0M1615.9 371.8h0M1565.1 386.9h0M1654.2 339.3h0M1592.0 375.2h0M1630.3 350.0h0M1569.2 384.6h0"/><path stroke="#5d3dff" d="M1622.1 367.9h0M1636.2 346.9h0M1669.7 306.8h0M1614.1 373.9h0M1614.8 361.1h0M1620.3 357.2h0M1636.5 347.4h0M1658.6 334.8h0M1634.7 355.3h0M1617.3 362.8h0M1510.4 382.6h0M1643.8 352.9h0M1598.8 373.5h0M1639.3 351.5h0M1561.0 390.8h0M1626.8 361.9h0M1598.4 378.4h0M1659.0 331.3h0M1607.7 368.3h0M1617.4 370.1h0M1579.3 384.6h0M1639.1 342.4h0M1631.6 357.8h0M1624.8 361.3h0M1594.4 375.1h0M1603.3 370.5h0M1581.4 380.8h0M1623.0 371.5h0M1621.2 372.5h0M1660.3 334.6h0M1644.3 342.5h0M1665.9 317.8h0M1609.3 368.6h0M1642.4 351.1h0M1635.6 351.7h0M1618.4 373.0h0M1590.6 384.5h0M1651.6 332.9h0M1534.8 379.5h0M1665.9 314.4h0M1583.1 382.9h0M1627.8 363.3h0M1625.8 351.7h0M1603.7 372.2h0M1615.2 371.7h0M1600.8 372.2h0M1648.0 346.8h0M1638.9 353.1h0M1623.9 357.4h0M1636.4 344.4h0M1660.7 330.7h0M1626.8 348.6h0M1639.6 347.9h0M1654.3 334.3h0M1623.8 360.5h0M1644.9 350.3h0M1611.3 363.1h0M1648.1 342.7h0M1599.7 374.0h0M1613.5 366.8h0M1630.1 357.3h0M1627.7 353.3h0M1621.5 357.6h0M1612.4 372.6h0M1591.6 374.7h0M1611.4 367.4h0M1647.2 348.3h0M1632.6 347.9h0M1656.0 340.9h0M1590.0 384.8h0M1636.1 358.7h0M1629.2 359.1h0M1614.7 377.4h0M1651.4 343.7h0M1625.5 354.3h0M1634.2 351.3h0M1611.4 370.4h0M1621.6 366.8h0M1626.2 351.3h0M1602.1 375.6h0M1604.5 369.2h0M1562.0 383.8h0M1565.5 386.9h0M1589.5 381.0h0M1595.9 380.4h0M1602.1 372.8h0M1652.6 342.1h0M1602.3 378.0h0M1633.3 351.9h0M1649.3 337.1h0M1640.3 346.3h0M1642.1 339.1h0M1543.4 395.1h0M1577.5 392.5h0M1640.1 349.9h0M1646.0 343.5h0M1653.1 339.4h0M1638.4 343.3h0M1638.7 355.6h0M1641.3 347.7h0M1624.7 367.2h0M1656.3 334.2h0M1575.7 390.2h0M1618.3 367.3h0M1599.6 374.3h0M1613.2 369.6h0M1647.2 346.2h0M1621.4 362.8h0M1642.2 342.6h0M1656.8 338.4h0M1551.6 381.6h0M1596.2 381.0h0M1638.2 353.9h0M1642.4 351.2h0M1603.9 370.3h0M1573.6 381.7h0M1630.6 351.9h0M1629.1 360.7h0M1647.7 346.1h0M1619.1 372.9h0M1608.2 366.6h0M1621.3 368.7h0M1621.5 361.0h0M1658.1 338.2h0M1609.6 366.7h0M1623.4 357.0h0M1627.1 362.4h0M1632.6 356.5h0M1573.0 386.5h0M1512.9 393.8h0M1572.8 382.6h0M1636.4 345.1h0M1643.1 346.1h0M1639.6 351.4h0M1616.5 365.4h0M1608.8 380.9h0M1646.0 345.8h0M1591.9 377.7h0M1647.1 342.2h0M1643.9 349.9h0M1591.8 375.8h0M1640.2 343.0h0M1642.2 342.6h0M1619.7 368.8h0M1635.3 349.5h0M1625.5 363.7h0M1635.0 352.7h0M1550.5 390.7h0M1556.9 391.6h0M1659.8 335.7h0M1624.9 350.5h0M1647.7 347.5h0M1647.0 342.9h0M1592.1 378.2h0M1555.7 378.5h0M1556.5 385.6h0M1610.8 379.7h0M1626.9 353.4h0M1627.8 353.7h0M1627.2 367.7h0M1638.8 346.6h0M1636.8 350.1h0M1624.2 358.7h0M1590.0 381.9h0M1639.4 355.9h0M1621.9 357.6h0M1609.4 378.3h0M1632.4 359.2h0M1582.9 381.7h0M1633.9 345.9h0M1641.8 351.8h0M1547.0 377.7h0M1615.0 367.9h0M1606.4 367.7h0M1655.6 341.6h0M1626.0 364.4h0M1625.9 368.9h0M1637.1 344.5h0M1608.2 365.7h0M1617.9 363.8h0M1625.4 363.5h0M1617.8 362.2h0M1605.3 369.2h0M1554.2 391.1h0M1667.1 314.2h0M1633.7 350.3h0M1618.2 357.2h0M1633.9 346.8h0M1637.1 348.2h0M1637.7 345.9h0M1578.7 381.2h0M1604.3 383.3h0"/><path stroke="#5751ff" d="M1635.0 355.7h0M1636.4 350.0h0M1638.9 343.1h0M1632.1 353.9h0M1595.0 375.7h0M1648.9 336.7h0M1636.6 356.5h0M1629.2 351.0h0M1523.3 387.5h0M1648.9 339.3h0M1661.6 333.1h0M1648.6 337.2h0M1639.3 340.2h0M1658.5 335.2h0M1655.3 337.4h0M1609.3 368.6h0M1661.9 332.6h0M1634.2 347.6h0M1662.4 328.6h0M1645.8 346.7h0M1650.2 334.8h0M1657.0 335.4h0M1632.6 356.7h0M1650.3 339.3h0M1653.5 341.9h0M1654.2 331.9h0M1642.4 340.8h0M1602.3 371.4h0M1667.6 312.9h0M1644.5 340.4h0M1658.5 335.2h0M1580.5 378.4h0M1639.4 355.2h0M1627.8 355.4h0M1626.7 349.1h0M1662.3 330.0h0M1668.4 317.4h0M1660.0 327.6h0M1596.3 377.8h0M1601.5 377.4h0M1634.7 349.2h0M1645.2 338.5h0M1638.1 343.5h0M1668.0 308.1h0M1598.3 372.9h0M1625.5 354.1h0M1657.9 333.6h0M1626.8 353.8h0M1666.8 316.0h0M1641.2 353.9h0M1628.7 357.8h0M1656.0 339.2h0M1611.0 379.4h0M1585.9 380.7h0M1627.7 357.3h0M1665.1 323.9h0M1628.0 356.5h0M1655.7 335.4h0M1644.6 343.9h0M1624.0 354.6h0M1655.3 336.5h0M1657.1 335.0h0M1523.1 386.2h0M1632.4 352.0h0M1653.8 335.5h0M1624.6 367.2h0M1642.3 340.5h0M1641.2 342.6h0M1643.1 339.4h0M1636.2 346.2h0M1625.4 350.5h0M1636.2 345.7h0M1647.8 343.9h0M1637.9 350.7h0M1635.3 353.5h0M1656.2 335.6h0M1645.1 349.4h0M1636.2 344.9h0M1663.8 321.9h0M1618.9 357.6h0M1606.6 380.3h0M1574.8 381.8h0M1661.6 329.4h0M1603.9 370.9h0M1631.3 354.8h0M1606.6 371.6h0M1636.4 347.6h0M1664.4 323.1h0M1611.3 367.6h0M1611.7 365.4h0M1658.8 333.2h0M1608.2 367.3h0M1647.7 339.7h0M1637.6 345.5h0M1664.1 322.4h0M1629.3 347.6h0M1621.0 357.6h0M1623.2 354.0h0M1639.1 346.2h0M1650.0 342.5h0M1612.9 371.2h0M1656.5 340.9h0M1628.8 349.3h0M1630.4 352.9h0M1636.9 356.2h0M1627.2 362.0h0M1597.9 372.8h0M1615.4 365.6h0M1638.8 342.0h0M1648.3 338.8h0M1611.5 366.3h0M1657.3 338.4h0M1626.5 356.5h0M1585.3 382.2h0M1618.2 361.2h0M1616.9 370.6h0M1638.0 346.8h0M1631.6 351.6h0M1633.3 347.9h0M1654.0 332.4h0M1635.3 347.0h0M1650.4 343.4h0M1662.4 326.5h0M1578.8 379.4h0M1613.7 362.3h0M1616.3 362.1h0"/><path stroke="#5367ff" d="M1629.7 352.7h0M1620.2 360.8h0M1661.6 326.8h0M1653.0 338.2h0M1647.3 344.1h0M1648.7 336.3h0M1639.1 347.0h0M1642.5 338.6h0M1661.9 328.6h0M1683.3 283.0h0M1664.5 317.0h0M1658.3 333.5h0M1632.5 347.4h0M1652.6 341.3h0M1623.3 358.8h0M1670.6 309.8h0M1638.0 349.3h0M1651.9 341.9h0M1632.2 349.7h0M1658.6 332.8h0M1581.7 381.8h0M1640.7 350.5h0M1622.9 356.9h0M1648.6 340.9h0M1656.6 334.4h0M1636.7 350.0h0M1664.9 316.1h0M1659.7 325.7h0M1621.5 354.8h0M1660.1 331.8h0M1611.2 363.3h0M1646.5 342.0h0M1630.3 348.2h0M1623.0 353.4h0M1619.5 355.7h0M1646.6 338.0h0M1627.6 349.3h0M1627.4 352.0h0M1614.4 368.6h0M1642.6 345.5h0M1627.3 349.2h0M1648.7 339.8h0M1643.3 345.0h0M1633.4 348.0h0M1661.2 322.9h0M1658.5 336.0h0M1646.4 336.2h0M1664.2 314.8h0M1664.9 313.7h0M1628.4 353.8h0M1660.8 329.2h0M1670.5 305.7h0M1652.7 332.6h0M1663.1 324.1h0M1679.0 289.7h0M1660.0 326.5h0M1647.6 345.6h0M1635.9 345.0h0M1635.4 344.8h0M1654.9 330.9h0M1651.7 337.8h0M1644.1 350.1h0M1666.5 314.5h0M1637.2 348.6h0M1646.9 340.5h0M1607.0 372.6h0M1655.4 333.5h0M1640.6 346.2h0M1652.9 339.2h0M1667.5 317.9h0M1626.4 349.5h0M1624.0 357.4h0M1630.9 350.4h0M1675.1 301.8h0M1601.5 384.8h0M1656.0 332.6h0M1627.5 357.4h0M1687.6 276.2h0M1671.3 305.2h0M1603.0 369.7h0M1640.9 346.3h0M1639.6 345.6h0M1664.0 325.8h0M1628.1 354.2h0M1653.5 337.4h0M1624.6 351.1h0M1629.9 352.7h0M1645.7 338.7h0M1619.3 358.2h0M1646.9 343.6h0M1666.1 313.3h0M1642.9 338.1h0M1645.9 336.5h0M1624.7 351.8h0M1660.2 326.3h0M1653.6 331.6h0M1673.3 301.9h0M1662.8 325.5h0M1627.6 359.0h0M1659.7 329.9h0M1648.3 334.2h0M1629.9 354.4h0M1655.6 330.9h0M1663.4 316.1h0M1645.1 336.4h0M1679.7 291.7h0M1603.1 378.9h0M1670.4 307.7h0M1543.4 389.7h0M1641.6 340.3h0M1636.9 347.9h0M1641.0 348.6h0"/><path stroke="#4f7cff" d="M1678.3 294.8h0M1636.8 341.9h0M1651.2 334.7h0M1647.9 336.0h0M1640.4 346.8h0M1631.6 354.1h0M1619.5 356.7h0M1672.1 306.3h0M1666.4 320.0h0M1667.5 315.9h0M1638.6 342.9h0M1669.2 315.9h0M1666.0 318.9h0M1615.9 360.8h0M1632.0 346.5h0M1664.2 325.6h0M1658.1 333.9h0M1640.6 347.8h0M1648.4 343.7h0M1680.2 289.3h0M1675.0 301.2h0M1636.5 347.2h0M1687.9 276.6h0M1669.2 303.2h0M1660.9 330.6h0M1637.3 345.7h0M1664.9 323.2h0M1644.3 345.5h0M1663.3 318.7h0M1668.6 311.7h0M1658.1 335.0h0M1647.4 340.8h0M1663.5 317.7h0M1665.7 322.1h0M1621.0 359.1h0M1658.5 331.7h0M1647.0 341.5h0M1667.8 317.0h0M1669.4 303.9h0M1637.6 346.3h0M1617.7 359.2h0M1670.9 309.1h0M1662.4 322.8h0M1662.2 322.0h0M1662.3 322.3h0M1652.9 336.5h0M1630.3 352.4h0M1661.2 327.3h0M1630.2 349.4h0M1703.0 258.0h0M1698.0 268.0h0M1662.3 322.9h0M1667.0 313.9h0M1670.4 297.8h0M1632.4 360.0h0M1673.4 301.3h0M1668.6 306.0h0M1658.9 328.2h0M1630.3 348.7h0M1630.8 351.6h0M1676.7 297.8h0M1672.9 298.2h0M1668.0 307.9h0M1669.4 307.2h0M1669.3 312.1h0M1672.0 304.8h0M1636.2 346.5h0M1662.3 321.2h0M1655.7 331.6h0M1637.7 342.8h0M1658.2 333.1h0M1623.7 353.6h0M1668.7 316.5h0M1660.8 327.1h0M1671.7 300.9h0M1707.5 243.7h0M1624.8 353.9h0M1638.4 347.9h0M1671.5 303.4h0M1669.6 308.2h0M1687.5 275.4h0M1681.3 283.2h0M1668.9 316.1h0M1613.5 363.6h0"/><path stroke="#4f8cfd" d="M1669.8 300.2h0M1709.0 247.0h0M1686.1 276.4h0M1640.4 340.5h0M1686.1 277.3h0M1673.4 302.8h0M1683.0 281.2h0M1674.9 302.9h0M1670.4 313.2h0M1674.4 291.1h0M1686.3 273.5h0M1672.3 296.9h0M1681.8 282.6h0M1644.7 340.6h0M1669.1 301.6h0M1681.8 288.3h0M1677.1 296.3h0M1638.7 352.0h0M1636.7 345.1h0M1675.9 288.9h0M1679.6 287.8h0M1683.7 283.6h0M1669.2 312.2h0M1651.1 333.2h0M1676.2 296.8h0M1690.4 271.6h0M1719.0 226.0h0M1652.3 332.2h0M1717.0 231.5h0M1670.0 299.4h0M1663.1 319.5h0M1682.0 285.9h0M1684.3 283.6h0M1666.8 314.7h0M1673.1 298.1h0M1695.7 257.4h0M1664.9 314.4h0M1627.4 350.3h0M1686.5 268.4h0M1669.5 315.1h0M1680.6 291.5h0M1665.6 322.2h0M1666.4 318.4h0M1692.0 264.0h0M1684.3 282.5h0M1657.2 335.7h0M1675.9 297.6h0M1672.2 306.4h0M1667.3 310.8h0M1668.4 310.6h0M1666.4 311.8h0M1667.5 304.8h0M1671.6 310.2h0M1668.6 311.8h0M1668.3 312.0h0M1676.6 290.9h0M1648.7 334.6h0M1677.9 294.1h0M1662.7 317.4h0M1674.2 293.0h0M1680.9 290.9h0M1672.5 299.6h0M1667.1 309.5h0M1674.6 296.2h0M1666.5 309.1h0M1649.2 334.3h0M1689.0 268.0h0M1662.2 328.6h0M1666.7 318.6h0M1713.0 238.0h0M1686.9 271.3h0M1666.2 313.9h0M1675.9 298.4h0M1676.5 291.8h0"/><path stroke="#5299fa" d="M1678.4 293.2h0M1682.9 283.1h0M1679.7 282.8h0M1682.1 275.6h0M1671.4 303.0h0M1687.3 268.9h0M1675.6 296.5h0M1728.9 204.6h0M1681.5 288.0h0M1686.2 277.7h0M1671.3 304.5h0M1684.4 283.3h0M1682.3 284.6h0M1689.2 267.8h0M1673.5 299.7h0M1724.0 215.0h0M1682.3 280.9h0M1684.6 278.7h0M1682.2 282.9h0M1677.7 284.3h0M1683.7 283.3h0M1667.9 306.7h0M1670.7 311.6h0M1675.7 297.5h0M1629.3 347.5h0M1680.1 286.2h0M1678.0 292.3h0M1683.3 283.3h0M1672.0 294.9h0M1682.4 279.2h0M1677.1 289.0h0M1674.6 299.2h0M1668.9 306.8h0M1674.7 291.6h0M1720.7 215.2h0M1689.4 272.8h0M1671.3 310.8h0M1671.9 302.1h0M1670.0 303.9h0M1676.2 290.5h0M1664.2 319.6h0M1686.9 269.2h0M1680.7 283.6h0M1684.6 282.1h0M1670.4 301.5h0M1670.3 309.6h0M1671.7 298.1h0M1677.8 296.0h0M1705.5 236.4h0M1668.7 308.6h0M1662.1 323.2h0M1726.8 205.0h0M1677.9 286.2h0M1679.8 288.1h0M1672.8 299.6h0M1688.7 267.8h0M1691.0 267.8h0M1662.4 318.0h0M1673.8 305.4h0M1691.3 269.0h0M1690.2 269.2h0M1723.2 210.3h0M1671.4 300.1h0M1663.9 316.4h0M1664.7 315.8h0"/><path stroke="#54a6f6" d="M1684.8 281.1h0M1668.0 303.9h0M1677.5 293.8h0M1672.0 303.2h0M1678.5 283.3h0M1722.8 207.0h0M1696.7 256.5h0M1679.5 278.0h0M1683.2 284.9h0M1675.9 292.4h0M1681.1 283.3h0M1686.6 274.7h0M1663.1 319.3h0M1682.3 284.6h0M1675.2 293.7h0M1689.8 272.1h0M1683.4 276.3h0M1689.2 252.5h0M1691.9 267.2h0M1677.0 283.3h0M1689.8 262.7h0M1689.5 264.6h0M1703.2 244.7h0M1671.4 304.7h0M1689.0 258.3h0M1681.4 285.5h0M1685.0 278.2h0M1707.9 234.2h0M1679.1 286.4h0M1680.6 280.6h0M1673.4 304.0h0M1685.3 273.6h0M1673.5 295.0h0M1681.8 289.0h0M1687.5 271.4h0M1678.4 282.5h0M1688.7 263.7h0M1687.7 268.8h0M1674.0 293.9h0M1689.3 272.4h0M1677.9 289.5h0M1676.9 285.9h0M1678.6 287.2h0M1666.7 314.9h0M1694.8 253.6h0M1686.7 271.9h0M1676.1 300.5h0M1674.1 301.1h0M1673.4 295.1h0M1674.2 295.7h0M1667.6 315.8h0M1675.7 293.1h0M1684.9 277.1h0M1686.6 277.1h0M1688.7 269.5h0M1679.2 279.0h0M1684.4 275.3h0M1687.4 275.8h0M1685.5 278.6h0M1678.1 283.4h0M1694.5 254.0h0M1662.3 320.1h0M1684.6 266.3h0M1692.8 263.3h0M1675.8 296.1h0M1688.9 269.3h0M1683.1 275.6h0M1702.9 245.2h0"/><path stroke="#59b6f2" d="M1687.8 264.8h0M1672.8 300.9h0M1714.7 222.2h0M1693.7 252.1h0M1687.7 275.7h0M1711.2 223.6h0M1690.3 269.7h0M1675.2 291.3h0M1693.3 263.3h0M1687.4 267.4h0M1695.5 248.9h0M1704.3 236.9h0M1684.2 274.6h0M1689.5 258.9h0M1705.7 231.0h0M1692.9 256.2h0M1667.9 310.5h0M1694.6 252.4h0M1692.5 257.8h0M1675.6 298.8h0M1666.1 307.9h0M1689.3 249.7h0M1698.5 247.9h0M1686.4 275.8h0M1701.4 239.2h0M1681.5 270.2h0M1696.6 247.7h0M1679.8 278.8h0M1676.2 288.1h0M1683.3 279.8h0M1681.8 289.3h0M1688.3 269.4h0M1682.7 276.9h0M1670.1 301.8h0M1688.4 261.4h0M1690.4 267.0h0M1686.3 275.3h0M1691.4 255.1h0M1685.0 275.4h0M1691.5 264.9h0M1686.8 272.2h0M1684.9 272.3h0M1683.2 283.1h0M1684.2 278.4h0M1673.2 296.2h0M1683.2 276.8h0M1695.5 255.7h0M1699.4 251.0h0M1688.4 268.2h0M1679.9 274.9h0M1689.2 266.9h0M1697.2 255.0h0M1669.9 299.1h0M1684.8 269.4h0M1676.3 290.6h0M1682.1 281.2h0M1700.3 246.5h0M1669.3 309.5h0M1671.3 299.0h0M1691.8 256.3h0M1681.6 274.3h0M1683.5 279.6h0M1681.1 272.3h0M1674.8 292.6h0M1678.1 283.0h0M1712.0 224.1h0M1705.4 239.8h0M1688.6 257.1h0M1715.3 215.6h0M1678.3 291.1h0M1701.5 242.9h0M1678.8 288.7h0M1702.8 242.7h0M1679.2 286.4h0M1688.9 269.8h0M1687.3 278.0h0M1705.8 239.4h0M1683.0 278.3h0M1683.5 279.4h0M1687.4 261.6h0"/><path stroke="#5ec7ed" d="M1686.4 267.0h0M1684.9 262.1h0M1696.6 239.3h0M1687.9 257.0h0M1670.9 299.0h0M1685.8 280.1h0M1693.9 255.2h0M1689.8 258.0h0M1684.4 270.9h0M1695.9 248.5h0M1681.5 267.5h0M1680.9 283.0h0M1710.2 226.1h0M1707.6 234.3h0M1680.3 271.9h0M1699.0 242.4h0M1696.5 254.6h0M1681.6 269.6h0M1696.5 244.9h0M1690.8 261.3h0M1708.0 235.5h0M1709.4 230.0h0M1688.4 255.1h0M1693.9 253.1h0M1679.7 284.2h0M1686.4 269.0h0M1703.7 237.6h0M1689.5 256.4h0M1702.5 235.1h0M1684.0 265.6h0M1688.0 259.0h0M1693.5 255.7h0M1692.4 257.5h0M1698.1 246.3h0M1727.0 196.0h0M1706.5 227.5h0M1687.3 260.7h0M1707.1 237.2h0M1693.4 257.0h0M1721.9 202.8h0M1685.8 267.0h0M1680.6 273.5h0M1708.8 222.8h0M1679.1 276.5h0M1691.7 252.7h0M1679.9 278.2h0M1698.5 238.8h0M1683.8 264.3h0M1705.0 241.4h0M1679.5 285.3h0M1712.8 223.7h0M1696.7 251.5h0M1682.8 281.5h0M1680.1 277.6h0M1685.9 272.5h0M1696.4 254.0h0M1692.3 259.6h0M1672.6 294.5h0M1683.8 270.2h0M1699.2 243.4h0M1699.9 249.1h0M1680.6 290.7h0M1683.9 276.6h0M1689.9 259.0h0M1671.6 298.3h0M1695.6 257.4h0M1694.7 255.6h0M1686.6 259.3h0M1698.5 247.0h0M1690.9 260.9h0M1686.2 268.1h0M1692.4 246.1h0M1673.0 292.8h0M1709.5 231.9h0M1712.7 218.4h0M1696.2 249.6h0M1691.8 250.7h0M1688.2 266.1h0M1674.9 298.8h0M1702.5 238.2h0M1676.3 290.3h0M1696.7 254.3h0M1680.8 269.9h0M1686.0 262.3h0M1692.6 254.4h0M1673.3 293.4h0M1690.2 255.7h0M1690.3 259.7h0"/><path stroke="#63d9e9" d="M1681.5 274.4h0M1692.5 251.6h0M1688.3 273.5h0M1683.6 260.6h0M1677.1 285.9h0M1716.1 217.2h0M1715.5 219.5h0M1699.0 248.2h0M1706.8 233.5h0M1695.4 245.2h0M1687.4 266.1h0M1698.6 252.5h0M1699.0 236.6h0M1695.0 246.4h0M1680.9 279.0h0M1698.8 251.7h0M1690.4 262.5h0M1711.5 222.3h0M1724.7 189.0h0M1710.9 218.6h0M1694.9 239.2h0M1726.1 192.3h0M1693.2 252.2h0M1689.6 259.4h0M1684.1 265.0h0M1684.6 266.2h0M1706.7 237.7h0M1687.9 261.1h0M1691.3 252.4h0M1683.9 266.4h0M1708.0 235.6h0M1690.6 266.0h0M1692.3 248.0h0M1697.8 241.5h0M1698.2 250.8h0M1694.4 249.0h0M1689.5 250.7h0M1711.9 222.4h0M1695.8 249.6h0M1710.7 220.5h0M1701.1 241.6h0M1687.5 275.3h0M1696.2 239.5h0M1703.2 225.2h0M1696.7 256.0h0M1729.2 187.7h0M1707.2 224.8h0M1716.2 204.8h0M1718.4 208.7h0M1712.0 216.6h0M1683.0 278.7h0M1707.8 222.3h0M1689.9 247.0h0M1707.7 228.3h0M1720.3 206.7h0M1708.4 230.5h0M1673.2 295.2h0M1705.2 231.2h0M1706.9 223.8h0M1713.3 218.4h0M1688.0 256.9h0M1683.0 278.6h0M1688.0 253.1h0M1691.1 248.0h0M1714.4 211.6h0M1698.9 240.7h0M1690.5 254.4h0M1679.9 282.6h0M1680.1 273.5h0M1680.4 277.8h0M1676.0 289.2h0M1711.7 224.5h0M1703.5 238.5h0M1717.8 207.7h0M1704.7 238.9h0M1679.0 280.4h0M1691.9 258.6h0M1693.2 254.0h0M1703.9 229.7h0M1701.7 237.7h0M1702.4 237.8h0M1701.1 247.0h0M1707.7 224.3h0M1723.0 201.4h0M1686.8 264.3h0M1731.0 188.0h0M1697.6 239.5h0M1708.8 232.1h0M1706.5 237.0h0M1693.6 242.2h0M1697.5 238.0h0M1698.3 238.6h0M1683.9 277.7h0M1695.7 244.5h0M1700.7 234.2h0M1716.1 214.6h0M1701.6 239.1h0M1703.5 237.1h0M1715.5 215.3h0M1693.3 247.9h0"/><path stroke="#6be6e7" d="M1685.6 257.1h0M1729.9 185.6h0M1720.8 205.5h0M1699.1 242.8h0M1708.3 224.0h0M1717.6 212.5h0M1712.5 219.6h0M1713.8 221.7h0M1722.0 198.3h0M1684.1 266.3h0M1701.1 230.1h0M1692.0 248.7h0M1684.4 265.3h0M1710.5 221.9h0M1705.5 237.1h0M1707.9 233.2h0M1697.4 240.8h0M1709.3 213.4h0M1716.4 210.2h0M1681.9 283.1h0M1683.7 262.7h0M1710.3 225.3h0M1683.5 263.3h0M1720.1 203.2h0M1688.4 254.2h0M1702.7 228.7h0M1709.3 229.6h0M1708.8 234.5h0M1719.2 209.9h0M1708.7 231.9h0M1733.0 182.0h0M1703.7 235.9h0M1696.1 249.4h0M1717.4 196.6h0M1687.8 261.0h0M1707.6 235.7h0M1702.6 231.4h0M1686.3 259.9h0M1687.0 264.0h0M1705.9 225.8h0M1686.0 253.9h0M1683.5 264.1h0M1695.0 249.6h0M1700.6 230.6h0M1706.3 236.0h0M1686.0 262.2h0M1688.4 249.9h0M1686.2 255.4h0M1712.6 221.6h0M1704.0 221.5h0M1707.6 226.8h0M1713.9 214.9h0M1699.2 234.1h0M1698.4 230.6h0M1722.2 199.4h0M1722.7 201.5h0M1685.7 277.0h0M1687.7 253.8h0M1694.7 245.2h0M1700.3 242.1h0M1686.7 260.0h0M1714.6 215.3h0M1695.0 250.7h0M1727.5 192.0h0M1683.5 264.4h0M1701.2 236.4h0M1711.0 229.1h0M1695.4 234.6h0M1708.4 226.3h0M1699.1 248.7h0M1715.0 221.1h0M1699.9 239.5h0M1714.8 221.4h0M1695.9 239.7h0M1693.5 248.2h0M1712.7 220.7h0M1694.0 240.9h0M1684.9 257.1h0M1704.3 235.2h0M1701.6 239.7h0M1685.9 263.3h0M1701.5 239.4h0M1722.0 195.8h0M1706.3 230.9h0M1690.9 252.5h0M1704.2 231.8h0M1695.7 247.7h0M1700.4 244.3h0M1691.0 252.3h0M1723.4 198.9h0M1714.3 212.6h0M1696.9 245.8h0M1695.5 237.6h0M1692.9 239.8h0M1706.6 232.8h0M1687.9 261.9h0M1727.2 192.2h0M1720.9 204.7h0M1698.6 240.5h0M1699.0 246.2h0M1698.6 242.9h0M1713.9 222.3h0M1699.4 227.1h0M1714.0 217.7h0M1700.0 234.3h0M1705.2 230.1h0M1701.3 233.5h0M1714.9 221.8h0M1696.1 251.7h0"/><path stroke="#72f2e7" d="M1684.6 264.0h0M1698.4 237.3h0M1716.5 200.2h0M1697.6 231.3h0M1709.4 231.8h0M1684.7 258.6h0M1718.3 201.0h0M1727.7 189.0h0M1711.4 219.6h0M1717.7 211.8h0M1697.6 229.5h0M1692.4 242.2h0M1714.3 211.0h0M1686.6 256.3h0M1691.5 242.5h0M1695.6 240.0h0M1720.2 199.6h0M1689.9 247.7h0M1730.3 177.4h0M1705.3 231.2h0M1705.2 232.8h0M1691.2 243.6h0M1713.7 213.1h0M1707.6 230.5h0M1732.0 174.9h0M1718.3 197.7h0M1708.0 227.0h0M1721.8 196.8h0M1695.0 236.2h0M1711.2 214.5h0M1699.1 224.6h0M1688.4 255.0h0M1708.0 228.9h0M1692.9 243.1h0M1697.4 238.8h0M1703.8 227.4h0M1722.1 203.4h0M1697.3 238.5h0M1697.2 239.0h0M1699.8 240.6h0M1713.8 220.4h0M1721.4 202.0h0M1684.4 260.2h0M1694.1 243.3h0M1727.8 187.1h0M1707.3 233.6h0M1698.6 237.5h0M1713.7 209.7h0M1706.1 224.8h0M1684.0 261.9h0M1717.1 213.1h0M1698.7 244.0h0M1717.0 209.0h0M1699.7 234.6h0M1701.8 228.2h0M1715.9 206.5h0M1700.8 237.1h0M1701.2 244.1h0M1703.4 224.2h0M1692.6 242.5h0M1708.0 232.2h0M1724.5 197.1h0M1728.2 183.0h0M1711.0 211.1h0M1695.5 243.5h0M1725.3 191.2h0M1732.0 177.9h0M1707.0 235.9h0M1722.8 201.3h0M1687.7 257.2h0M1693.9 243.5h0M1698.8 237.8h0M1708.7 224.7h0M1689.5 251.1h0M1687.9 252.8h0M1710.7 215.7h0M1718.0 208.4h0M1730.1 183.6h0M1730.2 185.1h0M1693.7 241.8h0M1711.2 212.9h0M1722.0 197.1h0M1713.4 219.6h0M1719.2 202.2h0M1714.4 214.8h0M1687.7 268.9h0M1703.8 239.4h0M1701.6 232.1h0M1720.5 205.5h0M1728.2 186.2h0M1714.0 223.7h0M1698.5 242.7h0"/><path stroke="#7afde6" d="M1710.4 204.1h0M1726.8 178.9h0M1709.2 221.1h0M1695.9 235.5h0M1712.3 215.0h0M1688.8 250.5h0M1697.2 231.5h0M1695.0 238.7h0M1704.7 228.0h0M1725.2 195.6h0M1714.8 202.8h0M1722.7 193.5h0M1689.3 247.8h0M1724.2 199.4h0M1697.4 237.2h0M1712.7 211.1h0M1733.2 163.9h0M1723.5 189.8h0M1705.3 220.1h0M1697.1 234.8h0M1716.4 203.1h0M1723.3 196.3h0M1703.4 223.6h0M1721.7 188.0h0M1702.9 229.1h0M1699.6 232.1h0M1707.5 222.0h0M1717.2 198.1h0M1724.3 197.0h0M1688.5 255.6h0M1705.6 211.1h0M1701.0 220.1h0M1704.2 220.8h0M1710.4 211.6h0M1720.0 202.4h0M1691.5 245.2h0M1727.3 191.8h0M1717.7 207.2h0M1708.2 219.7h0M1724.5 189.8h0M1728.3 181.2h0M1729.5 186.7h0M1710.6 221.2h0M1717.5 202.7h0M1733.8 169.6h0M1726.4 186.3h0M1718.2 207.5h0M1699.3 227.8h0M1698.2 235.7h0M1698.3 234.3h0M1702.5 222.2h0M1727.6 184.3h0M1702.8 226.7h0M1720.0 196.7h0M1724.3 195.1h0M1712.4 210.5h0M1705.1 226.9h0M1703.1 226.2h0M1706.2 225.6h0M1702.4 225.2h0M1706.5 224.3h0M1710.1 231.5h0M1730.4 177.6h0M1698.5 228.9h0M1699.0 232.6h0M1729.7 183.6h0M1714.2 216.2h0M1717.2 200.4h0M1693.8 247.0h0M1702.9 221.2h0M1723.0 193.7h0M1714.4 211.9h0M1697.2 237.2h0M1730.5 183.6h0M1729.0 181.0h0M1716.2 198.9h0M1705.5 226.4h0M1708.0 211.4h0M1685.2 257.5h0M1687.2 257.9h0M1719.0 206.4h0"/><path stroke="#7ffee4" d="M1715.5 201.4h0M1701.6 233.6h0M1690.9 243.9h0M1717.2 195.5h0M1710.3 217.2h0M1715.8 198.1h0M1683.5 263.2h0M1716.1 201.8h0M1724.7 178.4h0M1714.6 218.3h0M1694.8 236.1h0M1697.4 238.3h0M1698.0 228.5h0M1692.5 242.0h0M1713.7 218.2h0M1714.7 199.9h0M1708.5 208.5h0M1731.5 168.3h0M1700.6 224.3h0M1722.9 186.3h0M1713.5 211.7h0M1712.1 215.8h0M1713.3 204.6h0M1702.7 219.9h0M1729.4 185.7h0M1718.8 198.6h0M1713.9 209.0h0M1713.4 215.5h0M1714.8 201.6h0M1723.9 191.5h0M1730.9 171.1h0M1717.3 202.6h0M1708.2 220.6h0M1689.3 247.3h0M1696.9 231.5h0M1719.7 200.1h0M1725.8 188.3h0M1723.0 184.6h0M1699.5 234.5h0M1704.8 234.6h0M1702.7 224.6h0M1698.3 232.5h0M1729.0 175.0h0M1707.1 209.6h0M1692.4 240.6h0M1692.9 248.6h0M1706.0 217.4h0M1715.3 192.7h0M1692.7 245.0h0M1727.8 179.6h0M1703.1 223.4h0M1731.3 161.4h0M1721.2 187.6h0M1703.6 236.3h0M1726.0 184.3h0M1705.3 220.9h0M1703.1 218.9h0M1711.2 206.3h0M1692.6 239.8h0M1704.0 226.6h0M1698.8 229.9h0M1726.4 186.6h0M1718.9 187.3h0M1706.6 224.2h0M1715.5 193.3h0M1724.3 190.2h0M1719.6 199.3h0M1720.9 192.1h0M1719.8 188.0h0M1722.3 200.3h0M1706.2 221.5h0M1710.2 209.1h0M1702.7 224.3h0M1711.3 208.1h0M1727.4 187.3h0M1728.0 184.7h0M1715.3 206.7h0M1706.4 217.7h0M1703.9 219.1h0M1723.0 196.5h0M1723.2 195.8h0M1699.3 229.5h0M1726.7 181.3h0M1729.6 184.7h0M1707.7 224.7h0M1710.9 210.5h0M1709.6 214.4h0M1693.4 240.0h0M1730.6 169.6h0M1702.8 225.6h0M1730.0 185.5h0M1700.4 227.5h0M1705.0 225.7h0M1727.7 188.2h0M1724.0 193.9h0M1709.5 207.2h0M1700.1 225.9h0M1689.2 248.3h0"/><path stroke="#83fee2" d="M1727.4 180.2h0M1708.0 210.3h0M1703.0 220.0h0M1706.4 214.7h0M1699.4 225.2h0M1708.2 215.0h0M1714.9 211.4h0M1731.1 168.1h0M1715.5 205.4h0M1732.5 162.3h0M1702.2 224.1h0M1723.1 182.1h0M1707.5 214.0h0M1723.8 196.4h0M1703.9 210.8h0M1732.8 171.4h0M1733.3 158.8h0M1730.2 171.0h0M1724.4 173.1h0M1726.0 189.2h0M1721.1 189.6h0M1701.2 220.9h0M1714.9 209.4h0M1705.4 213.1h0M1696.5 236.3h0M1709.8 207.0h0M1725.9 191.3h0M1726.3 193.3h0M1717.6 201.6h0M1715.9 196.4h0M1701.5 227.1h0M1713.1 210.6h0M1712.3 214.1h0M1707.7 204.6h0M1722.2 197.7h0M1713.2 199.6h0M1707.0 217.2h0M1698.0 234.4h0M1716.9 203.5h0M1728.0 182.3h0M1727.5 181.1h0M1693.4 239.5h0M1711.5 206.7h0M1722.9 192.0h0M1702.5 222.4h0M1732.2 163.3h0M1717.7 199.8h0M1711.3 210.1h0M1730.6 169.2h0M1709.2 215.4h0M1707.5 205.2h0M1717.9 199.0h0M1710.3 213.4h0M1704.3 215.6h0M1702.6 214.5h0M1703.0 221.2h0M1703.6 215.9h0M1710.7 213.6h0M1736.3 155.3h0M1738.0 153.3h0M1725.5 194.2h0M1731.9 160.4h0M1707.4 208.2h0M1696.4 230.0h0M1700.7 225.2h0M1713.8 201.2h0M1734.5 160.6h0M1721.3 183.9h0M1714.8 201.7h0"/><path stroke="#88ffe0" d="M1706.4 206.2h0M1722.6 186.8h0M1741.6 143.5h0M1705.8 218.1h0M1720.3 182.1h0M1718.2 191.9h0M1698.4 228.4h0M1720.7 199.3h0M1708.8 198.6h0M1724.8 183.8h0M1715.4 202.7h0M1715.0 194.6h0M1703.7 213.8h0M1735.5 159.6h0M1712.8 198.4h0M1730.0 167.4h0M1710.1 202.0h0M1730.6 172.7h0M1744.2 143.7h0M1735.7 156.7h0M1705.4 208.9h0M1712.8 204.8h0M1718.1 189.8h0M1719.4 188.6h0M1724.4 183.3h0M1704.6 211.8h0M1699.3 230.6h0M1725.0 175.2h0M1742.9 145.8h0M1732.3 166.3h0M1705.0 211.6h0M1719.7 193.4h0M1710.6 201.7h0M1722.2 182.8h0M1713.8 201.1h0M1733.8 164.9h0M1732.4 153.1h0M1720.7 195.3h0M1712.8 203.9h0M1717.5 192.7h0M1708.7 203.9h0M1704.3 214.8h0M1713.7 201.5h0M1708.7 205.5h0M1719.8 189.5h0M1702.1 219.2h0M1730.6 175.1h0M1698.1 226.9h0M1720.8 176.4h0M1722.7 198.5h0M1710.1 206.7h0M1707.8 208.1h0M1722.9 182.3h0M1746.1 142.9h0M1729.6 167.9h0M1734.0 189.7h0M1725.7 177.2h0M1734.7 157.5h0M1700.1 225.0h0M1708.3 199.1h0M1737.3 155.4h0M1724.9 177.3h0M1702.5 225.1h0M1731.0 170.1h0M1719.3 194.2h0M1701.8 217.6h0M1730.3 171.2h0M1733.3 165.3h0M1737.5 151.3h0M1716.4 197.8h0M1716.6 204.2h0M1705.4 208.2h0M1732.2 161.5h0M1716.2 195.6h0"/><path stroke="#8dffda" d="M1704.1 210.2h0M1745.2 170.8h0M1712.6 198.3h0M1721.1 189.9h0M1730.8 173.4h0M1731.0 158.1h0M1733.0 164.6h0M1715.3 189.3h0M1728.6 157.8h0M1738.1 151.5h0M1730.0 164.5h0M1722.2 174.0h0M1751.5 119.9h0M1743.8 142.0h0M1741.4 147.6h0M1708.6 210.4h0M1742.6 140.1h0M1730.1 169.3h0M1727.1 172.5h0M1733.3 162.0h0M1720.3 176.3h0M1724.7 168.2h0M1710.0 202.8h0M1720.1 190.0h0M1728.0 163.3h0M1706.7 203.5h0M1741.1 143.8h0M1728.1 168.8h0M1715.6 194.3h0M1737.7 150.5h0M1725.6 172.8h0M1728.6 177.7h0M1721.0 178.2h0M1728.0 175.3h0M1726.9 179.7h0M1724.1 182.9h0M1704.3 211.8h0M1717.0 187.8h0M1732.1 160.7h0M1717.8 189.5h0M1711.6 210.3h0M1710.2 206.0h0M1718.1 176.6h0M1743.6 145.4h0M1735.7 152.1h0M1734.7 153.6h0M1718.9 187.4h0M1721.8 175.5h0M1749.2 133.4h0M1748.8 136.4h0M1732.9 158.4h0M1731.5 161.6h0M1742.3 147.1h0M1707.0 214.1h0M1703.8 213.1h0M1725.8 177.6h0M1732.7 160.1h0M1706.3 207.2h0M1724.3 172.6h0M1744.1 139.9h0M1721.1 185.3h0M1741.6 144.2h0M1722.1 177.4h0M1706.8 207.2h0M1710.9 200.8h0M1721.7 181.8h0M1731.9 171.7h0M1733.3 164.2h0M1711.2 200.8h0M1724.5 164.2h0M1710.9 203.2h0M1728.9 178.4h0M1724.6 184.4h0M1727.6 172.6h0M1716.5 203.0h0M1712.3 201.3h0"/><path stroke="#91ffd4" d="M1749.6 135.2h0M1748.9 136.9h0M1717.0 184.4h0M1718.6 193.3h0M1720.1 191.0h0M1708.9 197.8h0M1733.7 160.0h0M1720.1 191.5h0M1721.8 178.8h0M1730.3 163.2h0M1705.7 208.1h0M1731.2 164.8h0M1713.8 189.9h0M1749.8 136.0h0M1720.9 178.8h0M1738.6 148.6h0M1715.6 183.7h0M1717.6 175.9h0M1738.8 147.5h0M1741.9 144.7h0M1728.2 165.3h0M1711.1 196.5h0M1722.5 181.8h0M1746.6 130.8h0M1739.8 147.7h0M1746.5 139.8h0M1726.8 168.7h0M1737.2 151.5h0M1720.2 168.8h0M1749.7 136.3h0M1718.2 181.3h0M1716.6 189.6h0M1719.9 185.3h0M1730.6 164.1h0M1714.0 192.4h0M1755.0 150.7h0M1753.5 118.5h0M1736.4 156.2h0M1751.0 159.0h0M1714.6 194.5h0M1742.4 143.4h0M1734.9 151.9h0M1718.2 184.8h0M1730.2 160.4h0M1721.0 190.3h0M1711.6 192.0h0M1714.1 193.7h0M1731.8 162.0h0M1729.1 171.4h0M1722.2 179.0h0M1734.8 154.9h0M1735.8 153.3h0M1732.8 161.9h0M1731.8 155.2h0M1723.1 182.3h0M1715.7 190.3h0M1722.9 163.1h0M1729.3 157.9h0M1743.0 141.1h0M1716.0 185.4h0M1747.0 162.0h0M1725.6 166.8h0M1743.9 137.1h0M1728.5 166.2h0M1733.1 150.9h0M1724.0 173.8h0M1746.1 142.1h0M1740.1 150.0h0M1752.3 156.2h0M1719.3 173.3h0M1714.1 191.0h0M1746.1 138.6h0M1728.9 172.8h0M1715.1 186.8h0M1746.6 134.1h0M1722.2 181.4h0M1728.8 169.5h0M1739.4 144.5h0M1753.2 145.2h0M1741.9 147.0h0M1711.5 196.9h0M1731.0 165.8h0M1744.0 140.4h0M1730.9 156.2h0M1737.7 146.3h0"/><path stroke="#96ffce" d="M1722.7 178.3h0M1760.6 94.8h0M1765.1 91.1h0M1746.1 138.1h0M1728.0 155.0h0M1746.0 152.0h0M1709.4 207.1h0M1725.8 159.5h0M1727.1 164.2h0M1714.8 194.7h0M1731.5 150.4h0M1718.2 177.1h0M1731.8 153.3h0M1747.0 138.6h0M1722.6 166.4h0M1741.4 141.8h0M1721.1 173.4h0M1731.6 156.2h0M1732.1 158.9h0M1724.5 167.9h0M1740.6 138.9h0M1730.1 165.2h0M1744.1 143.4h0M1726.5 167.0h0M1702.5 218.7h0M1716.2 190.6h0M1763.3 88.3h0M1723.6 169.3h0M1756.9 92.9h0M1733.0 150.0h0M1735.1 154.6h0M1721.0 169.6h0M1740.9 141.4h0M1719.0 177.6h0M1747.6 137.7h0M1743.5 140.7h0M1724.9 168.5h0M1722.5 176.1h0M1719.1 180.4h0M1736.4 152.3h0M1733.2 157.5h0M1770.6 95.7h0M1711.4 193.9h0M1730.9 154.3h0M1713.7 190.4h0M1740.0 141.2h0M1740.9 145.9h0M1733.3 148.3h0M1725.5 167.4h0M1718.3 185.9h0M1742.1 142.1h0M1750.9 126.9h0M1717.9 176.8h0M1719.3 180.4h0M1742.0 152.0h0M1747.3 136.9h0M1725.4 163.3h0M1732.1 155.2h0M1740.3 146.3h0M1740.8 143.1h0M1713.2 194.6h0M1719.3 170.5h0M1720.8 183.2h0M1751.5 129.6h0M1714.0 193.5h0M1721.3 181.3h0M1708.6 199.3h0M1728.5 156.1h0M1707.0 204.3h0M1727.5 166.3h0M1726.3 162.6h0M1718.6 180.3h0M1738.3 151.5h0M1723.7 186.9h0M1725.7 166.8h0M1714.2 198.4h0M1711.2 193.4h0M1721.7 175.8h0M1728.2 166.4h0M1704.2 213.3h0M1738.4 151.2h0M1745.2 137.0h0"/><path stroke="#9cffc5" d="M1726.9 152.3h0M1718.5 176.9h0M1732.0 152.7h0M1749.1 128.7h0M1746.8 135.3h0M1715.5 192.0h0M1711.9 193.2h0M1727.2 153.9h0M1753.8 117.5h0M1750.4 124.6h0M1753.2 125.5h0M1725.4 165.8h0M1718.1 181.7h0M1751.2 122.6h0M1720.8 183.2h0M1743.1 138.2h0M1726.9 169.4h0M1731.3 149.6h0M1738.4 146.3h0M1722.5 160.6h0M1712.8 191.4h0M1717.1 179.4h0M1721.6 164.2h0M1752.6 124.4h0M1719.9 168.2h0M1736.2 148.2h0M1729.7 150.1h0M1751.3 131.2h0M1752.2 123.8h0M1734.5 146.7h0M1724.8 169.3h0M1721.7 182.9h0M1746.3 130.4h0M1704.1 211.6h0M1725.6 164.0h0M1725.1 160.0h0M1743.5 142.4h0M1719.5 175.5h0M1718.7 173.8h0M1750.3 130.4h0M1724.4 164.1h0M1747.3 138.9h0M1742.6 131.6h0M1719.9 177.2h0M1754.0 152.0h0M1733.4 145.1h0M1721.1 173.4h0M1705.1 211.2h0M1738.6 146.0h0M1720.4 174.9h0M1731.1 152.8h0M1730.4 149.5h0M1703.9 214.3h0M1762.4 58.0h0M1746.8 127.4h0M1723.1 169.8h0M1722.0 171.0h0M1762.5 59.2h0M1735.0 145.6h0M1753.0 126.4h0M1725.4 157.1h0M1739.2 143.6h0M1718.3 176.2h0M1753.7 118.5h0M1732.8 155.8h0M1714.9 189.2h0M1711.4 197.4h0M1752.9 125.0h0M1736.0 147.6h0M1752.2 120.1h0M1742.3 138.8h0"/><path stroke="#a2ffbc" d="M1749.4 125.5h0M1749.9 132.9h0M1746.9 133.8h0M1731.9 145.6h0M1736.4 139.0h0M1735.2 144.7h0M1738.2 144.6h0M1732.8 143.9h0M1753.4 117.8h0M1721.7 167.7h0M1743.9 133.5h0M1753.0 122.5h0M1745.5 130.2h0M1746.0 129.0h0M1708.2 200.0h0M1723.1 168.2h0M1757.8 79.2h0M1722.5 168.4h0M1742.2 125.5h0M1751.3 125.5h0M1747.4 131.4h0M1759.6 81.0h0M1737.8 149.8h0M1743.3 135.2h0M1734.0 148.3h0M1720.2 169.2h0M1752.9 123.5h0M1759.6 83.8h0M1738.6 139.5h0M1732.0 149.2h0M1731.7 146.9h0M1749.6 135.9h0M1746.6 130.7h0M1720.4 173.8h0M1730.2 157.0h0M1751.5 122.5h0M1723.9 159.6h0M1721.1 168.8h0M1721.3 164.8h0M1719.9 177.3h0M1750.6 121.3h0M1755.0 78.3h0M1751.9 124.5h0M1742.5 121.7h0M1722.2 168.3h0M1741.7 133.3h0M1741.7 136.9h0M1735.2 145.8h0M1722.8 167.6h0M1752.4 123.7h0M1723.8 164.4h0M1743.5 142.0h0M1743.6 142.4h0M1760.1 57.5h0M1725.1 163.7h0M1733.7 148.6h0M1735.3 141.5h0M1728.2 153.5h0M1745.0 130.8h0M1749.6 125.2h0M1753.6 117.9h0M1749.1 127.5h0M1749.2 122.1h0M1721.8 164.9h0M1717.5 176.8h0M1751.8 121.0h0M1762.8 89.0h0"/><path stroke="#a9ffb3" d="M1732.6 145.5h0M1709.4 196.7h0M1724.7 155.0h0M1754.0 119.9h0M1753.1 122.8h0M1751.8 117.3h0M1754.0 54.1h0M1766.9 80.8h0M1723.1 170.3h0M1751.1 113.2h0M1718.5 172.9h0M1751.6 123.7h0M1730.7 145.2h0M1738.0 138.5h0M1740.1 131.2h0M1744.2 130.9h0M1758.7 83.3h0M1757.1 77.6h0M1734.5 137.0h0M1741.2 140.9h0M1747.0 126.5h0M1731.3 150.2h0M1724.0 158.6h0M1736.7 141.1h0M1759.5 80.0h0M1725.7 154.2h0M1740.9 133.6h0M1757.2 64.2h0M1739.7 141.4h0M1749.3 124.8h0M1735.1 144.4h0M1729.6 150.5h0M1740.5 127.2h0M1745.3 119.7h0M1740.3 135.6h0M1740.2 143.1h0M1715.7 183.5h0M1751.1 121.9h0M1734.9 138.4h0M1748.4 127.9h0M1735.3 143.0h0M1743.2 126.0h0M1745.9 125.1h0M1740.1 139.7h0M1741.3 135.2h0"/><path stroke="#affeaa" d="M1739.9 139.1h0M1749.4 125.6h0M1752.0 125.2h0M1739.9 125.9h0M1739.6 137.1h0M1718.9 176.0h0M1773.4 81.0h0M1748.3 122.4h0M1717.5 179.2h0M1747.5 116.4h0M1722.2 167.7h0M1740.3 134.3h0M1730.7 146.1h0M1738.5 130.8h0M1738.8 142.6h0M1711.6 193.8h0M1744.7 127.7h0M1741.3 132.5h0M1768.2 55.3h0M1749.5 122.0h0M1743.8 127.2h0M1739.5 129.0h0M1815.7 143.5h0M1742.6 133.0h0M1733.9 139.6h0M1741.6 127.8h0M1717.6 176.1h0M1743.0 119.4h0M1734.2 140.9h0M1739.2 125.9h0M1746.8 121.5h0M1744.4 128.7h0M1770.8 48.1h0M1735.9 139.3h0M1737.9 131.3h0M1759.5 71.1h0M1739.0 136.4h0M1742.0 132.2h0M1733.9 143.5h0M1740.8 135.4h0M1726.9 153.8h0M1735.5 139.0h0M1737.4 134.5h0M1731.2 145.6h0M1760.0 65.2h0M1736.4 132.4h0M1763.3 75.5h0M1752.9 115.6h0M1737.1 133.5h0M1739.3 131.1h0M1747.1 118.6h0M1740.5 133.1h0M1725.7 153.0h0M1767.0 81.0h0M1746.3 124.1h0M1769.1 59.3h0M1773.4 80.8h0M1739.6 126.3h0M1741.8 134.3h0M1744.8 125.7h0M1763.6 75.1h0M1756.3 70.3h0M1759.6 65.6h0M1752.7 113.2h0"/><path stroke="#b5fda1" d="M1742.1 127.5h0M1745.9 117.9h0M1747.9 110.3h0M1735.4 129.7h0M1733.9 144.4h0M1737.7 118.8h0M1755.5 66.2h0M1743.4 129.3h0M1733.3 140.0h0M1745.0 112.8h0M1746.7 114.8h0M1780.7 59.7h0M1746.2 119.7h0M1736.8 136.9h0M1745.0 113.7h0M1744.7 112.5h0M1796.2 76.8h0M1728.0 149.5h0M1753.7 106.8h0M1759.4 61.8h0M1711.6 190.7h0M1740.2 132.5h0M1745.5 122.0h0M1736.8 124.9h0M1748.8 116.1h0M1744.9 118.7h0M1751.7 121.1h0M1742.1 115.9h0M1742.8 125.6h0M1743.9 121.9h0M1757.2 52.2h0M1750.6 115.2h0M1742.2 120.9h0M1737.4 121.9h0M1738.0 135.9h0M1753.6 110.7h0M1735.6 131.9h0M1766.9 70.3h0M1738.2 127.7h0M1781.5 57.2h0M1748.2 124.3h0M1749.2 103.7h0M1735.1 132.9h0M1752.7 107.1h0M1740.1 120.1h0M1736.2 124.9h0"/><path stroke="#bbfc98" d="M1755.0 70.9h0M1770.2 58.7h0M1755.3 60.7h0M1738.9 127.9h0M1748.0 116.4h0M1733.9 136.0h0M1755.7 59.7h0M1747.1 109.6h0M1750.3 112.2h0M1772.6 68.6h0M1737.2 134.6h0M1752.3 119.9h0M1744.5 115.3h0M1746.6 109.7h0M1757.1 67.0h0M1764.4 63.7h0M1738.9 121.9h0M1745.3 119.3h0M1741.4 119.2h0M1744.3 122.1h0M1750.4 113.1h0M1753.1 109.1h0M1771.8 52.2h0M1762.7 61.3h0M1788.0 58.0h0M1758.9 54.9h0M1772.5 70.0h0M1736.6 126.4h0M1751.3 105.7h0M1760.6 70.0h0M1744.0 119.8h0M1737.5 115.3h0M1745.8 119.7h0M1747.1 115.9h0M1736.2 123.0h0"/><path stroke="#c2f690" d="M1735.7 125.0h0M1737.9 123.2h0M1750.5 110.6h0M1734.8 139.0h0M1756.0 55.4h0M1740.4 121.5h0M1772.4 47.9h0M1741.5 126.5h0M1734.5 134.5h0M1735.8 122.5h0M1746.9 107.2h0M1742.7 113.1h0M1746.6 112.7h0M1742.1 119.8h0M1741.4 124.2h0M1736.1 119.3h0M1748.5 112.4h0M1754.9 48.3h0M1746.5 110.3h0M1744.5 120.5h0M1747.2 119.5h0M1773.0 45.7h0M1750.1 103.1h0M1717.7 176.5h0M1764.7 55.3h0M1760.2 56.4h0M1736.6 117.9h0"/><path stroke="#c9ef89" d="M1745.5 110.9h0M1769.9 47.4h0M1761.6 49.7h0M1739.2 107.2h0M1747.3 106.9h0M1736.7 117.5h0M1744.3 113.9h0M1749.1 106.9h0M1756.9 46.2h0M1736.5 121.6h0M1770.3 44.9h0M1739.7 112.6h0M1768.3 52.8h0M1738.4 111.6h0M1745.1 108.0h0M1750.6 102.4h0M1736.9 116.5h0M1737.5 123.9h0M1746.8 112.4h0M1738.5 124.6h0M1743.6 116.6h0M1749.2 105.2h0M1744.8 114.5h0M1739.2 121.4h0M1746.4 113.8h0M1735.4 127.1h0M1740.9 126.3h0M1747.6 107.2h0M1737.1 115.2h0"/><path stroke="#d0e882" d="M1745.9 111.1h0M1759.5 47.0h0M1768.0 49.1h0M1767.9 53.4h0M1774.6 51.9h0M1737.5 118.0h0M1740.8 105.5h0M1743.1 110.5h0M1745.1 118.5h0M1741.0 115.6h0M1744.9 110.8h0M1749.1 104.5h0M1775.2 47.4h0M1740.6 105.7h0M1742.6 104.2h0M1754.1 51.1h0M1741.3 110.3h0M1744.9 105.2h0M1747.5 104.1h0M1767.9 44.9h0M1766.7 47.7h0M1746.7 104.8h0M1745.4 117.6h0M1762.0 61.5h0M1758.7 51.2h0"/><path stroke="#d6db79" d="M1738.8 104.2h0M1765.2 42.7h0M1744.6 103.8h0M1736.9 116.6h0M1740.3 105.1h0M1738.0 104.3h0M1737.9 108.8h0M1773.0 50.4h0M1773.7 45.1h0M1772.4 45.1h0M1737.4 109.0h0M1737.5 111.3h0M1739.2 108.3h0M1742.2 105.4h0M1765.6 62.1h0M1744.7 105.4h0M1739.8 108.7h0M1736.8 107.6h0"/><path stroke="#dcce70" d="M1738.9 105.2h0M1736.2 110.0h0M1738.0 111.4h0M1741.6 113.2h0M1737.5 113.7h0M1727.9 156.1h0"/><path stroke="#e2c068" d="M1720.7 151.0h0M1742.7 107.3h0M1725.8 158.1h0"/><path stroke="#e6b05f" d="M1766.7 44.6h0M1720.6 150.7h0M1736.7 105.8h0M1777.5 51.5h0M1757.1 40.1h0M1768.8 72.8h0M1755.5 55.6h0M1774.2 49.9h0M1739.2 102.3h0M1768.5 43.4h0M1756.3 40.9h0"/><path stroke="#eba156" d="M1794.6 46.6h0M1788.9 49.4h0"/><path stroke="#ef924e" d="M1784.0 59.7h0M1774.2 45.0h0M1803.5 37.7h0M1768.5 72.7h0"/><path stroke="#f08848" d="M1769.3 40.1h0M1770.1 34.4h0M1801.1 36.9h0M1787.2 40.1h0M1796.2 35.2h0M1766.9 38.5h0M1779.1 41.8h0M1771.8 38.5h0"/><path stroke="#f27d42" d="M1777.5 37.7h0M1770.9 31.2h0M1773.4 30.4h0M1763.6 32.8h0"/><path stroke="#f4723c" d="M1715.0 182.2h0M1765.2 25.5h0"/><path stroke="#fa4824" d="M1779.1 39.3h0"/><path stroke="#fc3a1c" d="M1780.7 27.9h0M1781.5 30.4h0M1762.0 30.4h0M1760.4 35.2h0M1779.9 36.1h0M1775.8 32.8h0"/><path stroke="#fe2b14" d="M1790.5 39.6h0M1775.0 25.5h0M1783.6 23.8h0M1758.7 22.2h0M1771.8 26.3h0M1787.2 28.2h0"/><path stroke="#ff1f0e" d="M1806.8 20.6h0"/></g>
<path d="M1463.4 413.9V2.3M1659.4 413.9V2.3M1855.4 413.9V2.3M1463.4 402.6H1894.6M1463.4 311.2H1894.6M1463.4 219.7H1894.6M1463.4 128.3H1894.6M1463.4 36.9H1894.6" stroke="#b0b0b0" stroke-opacity="0.7" stroke-width="1.2" stroke-dasharray="3 2" fill="none"/>
<path d="M1463.4 413.9v4.6M1659.4 413.9v4.6M1855.4 413.9v4.6M1463.4 402.6h-4.6M1463.4 311.2h-4.6M1463.4 219.7h-4.6M1463.4 128.3h-4.6M1463.4 36.9h-4.6" stroke="#000" stroke-width="1.2" fill="none"/>
<rect x="1463.4" y="2.3" width="431.2" height="411.6" fill="none" stroke="#000" stroke-width="1.2"/>
<text x="1463.4" y="441.9" font-size="29.6" text-anchor="middle">−50</text>
<text x="1659.4" y="441.9" font-size="29.6" text-anchor="middle">0</text>
<text x="1855.4" y="441.9" font-size="29.6" text-anchor="middle">50</text>
<text x="1454.4" y="412.5" font-size="29.6" text-anchor="end">−0.01</text>
<text x="1454.4" y="321.1" font-size="29.6" text-anchor="end">0.00</text>
<text x="1454.4" y="229.6" font-size="29.6" text-anchor="end">0.01</text>
<text x="1454.4" y="138.2" font-size="29.6" text-anchor="end">0.02</text>
<text x="1454.4" y="46.8" font-size="29.6" text-anchor="end">0.03</text>
<text x="1680.5" y="481" font-size="41.4" text-anchor="middle">VSP(kW/t)</text>
<text transform="translate(1374.7 211.5) rotate(-90)" font-size="41.4" text-anchor="middle">Contribution</text>
<text x="1466.6" y="37.8" font-size="41.4">c)</text>
<rect x="1921.8" y="2.3" width="27.6" height="411.6" fill="url(#rb)" stroke="#000" stroke-width="1.0"/>
<text x="1957.4" y="367.1" font-size="23.7">0.00</text>
<text x="1957.4" y="300.5" font-size="23.7">0.01</text>
<text x="1957.4" y="233.9" font-size="23.7">0.02</text>
<text x="1957.4" y="167.2" font-size="23.7">0.03</text>
<text x="1957.4" y="100.6" font-size="23.7">0.04</text>
<text x="1957.4" y="34.0" font-size="23.7">0.05</text>
<path d="M1949.4 359.1h4.6M1949.4 292.5h4.6M1949.4 225.9h4.6M1949.4 159.2h4.6M1949.4 92.6h4.6M1949.4 26.0h4.6" stroke="#000" stroke-width="1.2" fill="none"/>
</svg></body></html>
